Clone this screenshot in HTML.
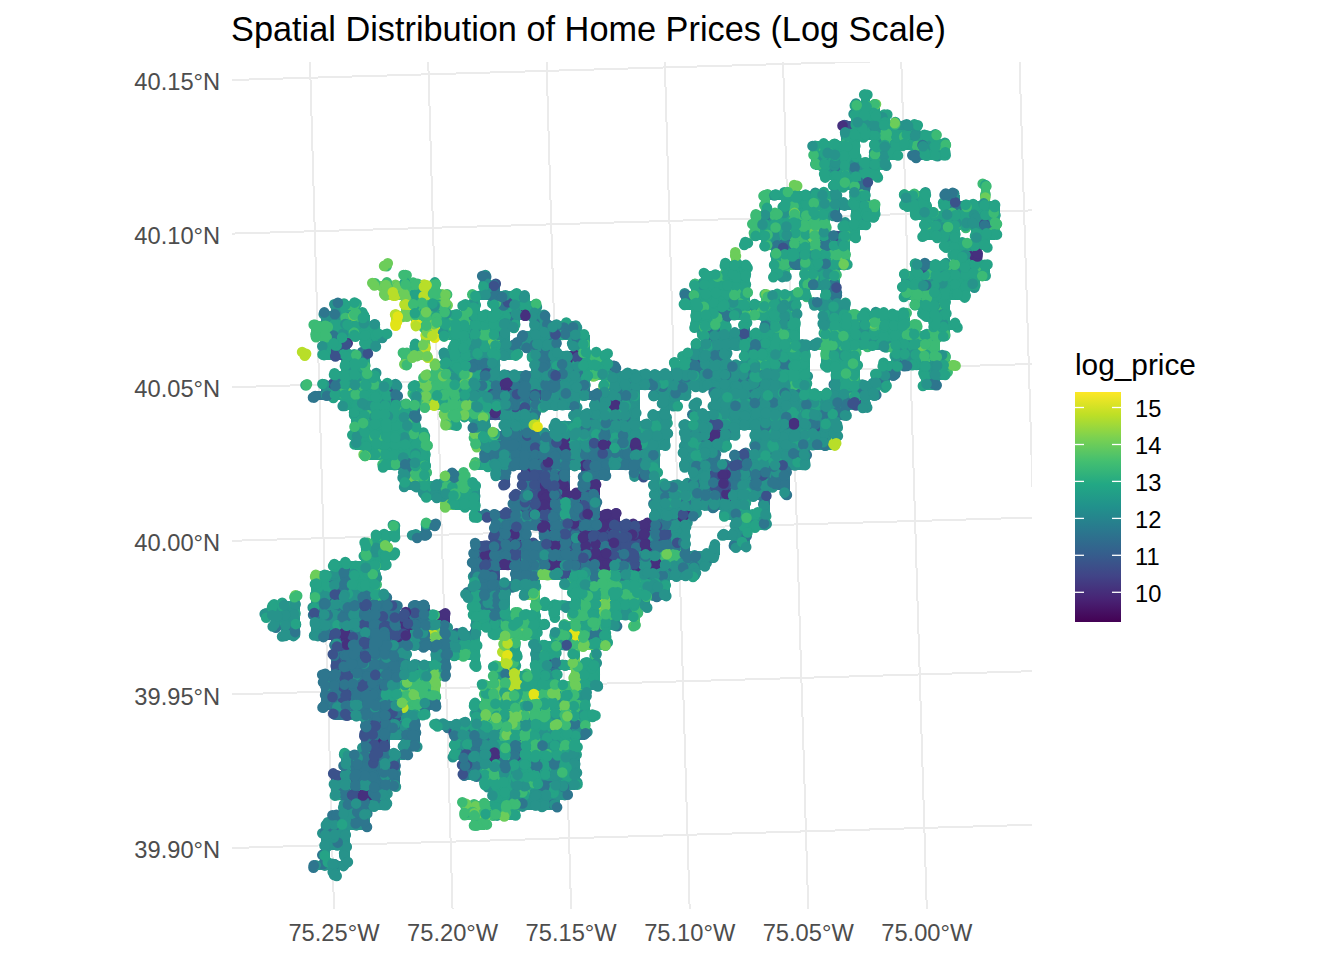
<!DOCTYPE html>
<html><head><meta charset="utf-8"><style>
html,body{margin:0;padding:0;background:#fff;width:1344px;height:960px;overflow:hidden}
svg{display:block;font-family:"Liberation Sans",sans-serif}
</style></head><body>
<svg width="1344" height="960" viewBox="0 0 1344 960">
<defs><clipPath id="pc"><rect x="232" y="62" width="800" height="847"/></clipPath>
<linearGradient id="vg" x1="0" y1="0" x2="0" y2="1"><stop offset="0.0" stop-color="#FDE725"/><stop offset="0.1" stop-color="#BDDF26"/><stop offset="0.2" stop-color="#7AD151"/><stop offset="0.3" stop-color="#44BF70"/><stop offset="0.4" stop-color="#22A884"/><stop offset="0.5" stop-color="#21918C"/><stop offset="0.6" stop-color="#2A788E"/><stop offset="0.7" stop-color="#355F8D"/><stop offset="0.8" stop-color="#414487"/><stop offset="0.9" stop-color="#482475"/><stop offset="1.0" stop-color="#440154"/></linearGradient></defs>
<rect width="1344" height="960" fill="#fff"/>
<g clip-path="url(#pc)" stroke="#ebebeb" stroke-width="2" shape-rendering="crispEdges"><line x1="227" y1="80.14" x2="1037" y2="56.65"/><line x1="227" y1="233.75" x2="1037" y2="210.25"/><line x1="227" y1="387.34" x2="1037" y2="363.86"/><line x1="227" y1="540.94" x2="1037" y2="517.45"/><line x1="227" y1="694.54" x2="1037" y2="671.05"/><line x1="227" y1="848.14" x2="1037" y2="824.65"/><line x1="310.00" y1="62" x2="334.00" y2="909"/><line x1="428.26" y1="62" x2="452.56" y2="909"/><line x1="546.52" y1="62" x2="571.12" y2="909"/><line x1="664.78" y1="62" x2="689.68" y2="909"/><line x1="783.04" y1="62" x2="808.24" y2="909"/><line x1="901.30" y1="62" x2="926.80" y2="909"/><line x1="1019.56" y1="62" x2="1045.36" y2="909"/></g>
<g fill="none" stroke-linecap="butt" shape-rendering="crispEdges"><path stroke="#25a386" stroke-width="10" d="M855 110h10M865 110h10M855 120h10M865 120h10M875 120h10M845 130h10M855 130h10M865 130h10M875 130h10M885 130h10M895 130h10M845 140h10M875 140h10M895 140h10M905 140h10M915 140h10M925 140h10M815 150h10M825 150h10M835 150h10M845 150h10M875 150h10M885 150h10M925 150h10M935 150h10M815 160h10M835 160h10M845 160h10M875 160h10M835 170h10M845 170h10M855 170h10M865 170h10M835 180h10M845 180h10M855 180h10M855 190h10M785 200h10M795 200h10M805 200h10M815 200h10M825 200h10M855 200h10M905 200h10M915 200h10M795 210h10M805 210h10M815 210h10M855 210h10M865 210h10M915 210h10M945 210h10M965 210h10M975 210h10M985 210h10M755 220h10M775 220h10M785 220h10M795 220h10M815 220h10M855 220h10M925 220h10M935 220h10M945 220h10M955 220h10M965 220h10M975 220h10M755 230h10M765 230h10M775 230h10M815 230h10M845 230h10M925 230h10M935 230h10M945 230h10M975 230h10M985 230h10M765 240h10M805 240h10M825 240h10M835 240h10M945 240h10M975 240h10M785 250h10M795 250h10M805 250h10M955 250h10M965 250h10M775 260h10M795 260h10M805 260h10M815 260h10M955 260h10M725 270h10M735 270h10M775 270h10M805 270h10M815 270h10M825 270h10M915 270h10M925 270h10M935 270h10M945 270h10M955 270h10M965 270h10M975 270h10M705 280h10M715 280h10M725 280h10M735 280h10M805 280h10M815 280h10M905 280h10M915 280h10M925 280h10M935 280h10M945 280h10M955 280h10M965 280h10M695 290h10M705 290h10M715 290h10M725 290h10M905 290h10M915 290h10M925 290h10M935 290h10M945 290h10M955 290h10M425 300h10M435 300h10M515 300h10M685 300h10M695 300h10M705 300h10M715 300h10M725 300h10M735 300h10M775 300h10M785 300h10M915 300h10M925 300h10M935 300h10M335 310h10M345 310h10M415 310h10M435 310h10M495 310h10M515 310h10M695 310h10M705 310h10M725 310h10M735 310h10M745 310h10M755 310h10M765 310h10M775 310h10M785 310h10M925 310h10M935 310h10M335 320h10M355 320h10M445 320h10M455 320h10M475 320h10M485 320h10M695 320h10M705 320h10M715 320h10M765 320h10M785 320h10M835 320h10M845 320h10M855 320h10M865 320h10M875 320h10M885 320h10M895 320h10M935 320h10M335 330h10M345 330h10M355 330h10M365 330h10M445 330h10M455 330h10M465 330h10M475 330h10M485 330h10M715 330h10M765 330h10M825 330h10M835 330h10M845 330h10M855 330h10M865 330h10M875 330h10M885 330h10M895 330h10M905 330h10M935 330h10M365 340h10M455 340h10M475 340h10M485 340h10M575 340h10M705 340h10M735 340h10M745 340h10M765 340h10M775 340h10M785 340h10M825 340h10M835 340h10M845 340h10M855 340h10M865 340h10M875 340h10M885 340h10M895 340h10M905 340h10M915 340h10M325 350h10M335 350h10M455 350h10M465 350h10M475 350h10M495 350h10M575 350h10M695 350h10M745 350h10M755 350h10M765 350h10M775 350h10M785 350h10M795 350h10M835 350h10M845 350h10M895 350h10M905 350h10M915 350h10M345 360h10M445 360h10M455 360h10M465 360h10M575 360h10M585 360h10M595 360h10M745 360h10M755 360h10M765 360h10M775 360h10M785 360h10M795 360h10M825 360h10M835 360h10M845 360h10M905 360h10M915 360h10M925 360h10M935 360h10M345 370h10M355 370h10M445 370h10M455 370h10M465 370h10M475 370h10M575 370h10M595 370h10M605 370h10M675 370h10M775 370h10M785 370h10M795 370h10M835 370h10M845 370h10M885 370h10M925 370h10M345 380h10M355 380h10M365 380h10M475 380h10M785 380h10M795 380h10M835 380h10M845 380h10M875 380h10M325 390h10M345 390h10M365 390h10M375 390h10M385 390h10M465 390h10M845 390h10M855 390h10M345 400h10M365 400h10M375 400h10M385 400h10M415 400h10M465 400h10M475 400h10M795 400h10M805 400h10M815 400h10M355 410h10M365 410h10M375 410h10M385 410h10M395 410h10M405 410h10M475 410h10M795 410h10M815 410h10M355 420h10M365 420h10M375 420h10M385 420h10M395 420h10M405 420h10M355 430h10M365 430h10M375 430h10M385 430h10M395 430h10M405 430h10M355 440h10M365 440h10M375 440h10M385 440h10M395 440h10M405 440h10M415 440h10M365 450h10M375 450h10M385 450h10M395 450h10M405 450h10M415 450h10M685 450h10M695 450h10M385 460h10M395 460h10M405 460h10M415 460h10M695 460h10M415 480h10M465 490h10M455 500h10M465 500h10M565 510h10M555 520h10M745 520h10M375 540h10M365 550h10M375 550h10M365 560h10M375 560h10M345 570h10M355 570h10M365 570h10M575 570h10M625 570h10M315 580h10M325 580h10M355 580h10M365 580h10M565 580h10M575 580h10M585 580h10M615 580h10M625 580h10M635 580h10M645 580h10M355 590h10M365 590h10M575 590h10M585 590h10M595 590h10M615 590h10M625 590h10M635 590h10M645 590h10M365 600h10M375 600h10M475 600h10M575 600h10M585 600h10M615 600h10M625 600h10M635 600h10M475 610h10M615 610h10M495 620h10M505 620h10M515 620h10M525 620h10M585 620h10M595 620h10M605 620h10M585 630h10M595 630h10M555 640h10M595 640h10M465 650h10M505 650h10M545 650h10M535 660h10M405 670h10M435 670h10M505 670h10M535 670h10M545 670h10M585 670h10M495 680h10M515 680h10M525 680h10M535 680h10M545 680h10M385 690h10M395 690h10M525 690h10M535 690h10M545 690h10M565 690h10M575 690h10M515 700h10M575 700h10M405 710h10M415 710h10M535 710h10M575 710h10M495 720h10M505 720h10M525 720h10M535 720h10M555 720h10M535 730h10M545 730h10M455 740h10M525 740h10M535 740h10M555 740h10M455 750h10M495 750h10M505 750h10M515 750h10M545 750h10M555 750h10M565 750h10M505 760h10M515 760h10M535 760h10M545 760h10M555 760h10M485 770h10M505 770h10M525 770h10M535 770h10M545 770h10M485 780h10M505 780h10M525 780h10M495 790h10M535 790h10M495 800h10M485 810h10M495 810h10M505 810h10"/><path stroke="#27938b" stroke-width="10" d="M905 130h10M915 150h10M825 160h10M825 170h10M825 210h10M765 220h10M775 250h10M825 260h10M485 290h10M495 300h10M505 300h10M825 300h10M505 310h10M825 310h10M835 310h10M325 320h10M495 320h10M505 320h10M535 320h10M775 320h10M825 320h10M495 330h10M535 330h10M555 330h10M565 330h10M775 330h10M785 330h10M335 340h10M465 340h10M495 340h10M525 340h10M535 340h10M545 340h10M715 340h10M725 340h10M505 350h10M535 350h10M545 350h10M705 350h10M715 350h10M535 360h10M555 360h10M685 360h10M695 360h10M705 360h10M715 360h10M485 370h10M545 370h10M565 370h10M685 370h10M705 370h10M715 370h10M725 370h10M735 370h10M745 370h10M755 370h10M765 370h10M935 370h10M465 380h10M505 380h10M565 380h10M615 380h10M625 380h10M635 380h10M645 380h10M655 380h10M665 380h10M675 380h10M685 380h10M695 380h10M705 380h10M715 380h10M725 380h10M735 380h10M745 380h10M755 380h10M765 380h10M775 380h10M925 380h10M475 390h10M555 390h10M565 390h10M575 390h10M605 390h10M625 390h10M655 390h10M665 390h10M675 390h10M715 390h10M725 390h10M735 390h10M745 390h10M755 390h10M765 390h10M775 390h10M785 390h10M795 390h10M835 390h10M865 390h10M505 400h10M525 400h10M535 400h10M545 400h10M555 400h10M565 400h10M595 400h10M605 400h10M615 400h10M625 400h10M665 400h10M715 400h10M725 400h10M735 400h10M745 400h10M755 400h10M765 400h10M775 400h10M785 400h10M825 400h10M835 400h10M845 400h10M495 410h10M505 410h10M525 410h10M595 410h10M605 410h10M625 410h10M715 410h10M725 410h10M735 410h10M745 410h10M755 410h10M765 410h10M775 410h10M785 410h10M805 410h10M825 410h10M835 410h10M475 420h10M505 420h10M515 420h10M575 420h10M585 420h10M595 420h10M605 420h10M615 420h10M625 420h10M655 420h10M695 420h10M715 420h10M725 420h10M735 420h10M745 420h10M755 420h10M765 420h10M775 420h10M785 420h10M795 420h10M805 420h10M815 420h10M825 420h10M475 430h10M515 430h10M525 430h10M555 430h10M565 430h10M575 430h10M585 430h10M595 430h10M605 430h10M615 430h10M625 430h10M635 430h10M645 430h10M655 430h10M685 430h10M695 430h10M705 430h10M725 430h10M755 430h10M765 430h10M775 430h10M785 430h10M795 430h10M805 430h10M815 430h10M825 430h10M475 440h10M485 440h10M495 440h10M555 440h10M565 440h10M575 440h10M585 440h10M615 440h10M635 440h10M645 440h10M655 440h10M685 440h10M695 440h10M755 440h10M765 440h10M775 440h10M785 440h10M795 440h10M805 440h10M815 440h10M825 440h10M485 450h10M565 450h10M575 450h10M605 450h10M615 450h10M625 450h10M635 450h10M645 450h10M705 450h10M755 450h10M765 450h10M775 450h10M785 450h10M575 460h10M605 460h10M615 460h10M635 460h10M645 460h10M685 460h10M705 460h10M755 460h10M765 460h10M775 460h10M785 460h10M795 460h10M495 470h10M645 470h10M695 470h10M705 470h10M735 470h10M755 470h10M765 470h10M775 470h10M405 480h10M695 480h10M705 480h10M765 480h10M425 490h10M435 490h10M655 490h10M665 490h10M675 490h10M685 490h10M705 490h10M745 490h10M755 490h10M655 500h10M665 500h10M675 500h10M685 500h10M705 500h10M735 500h10M655 510h10M665 510h10M675 510h10M685 510h10M725 510h10M735 510h10M515 520h10M655 520h10M665 520h10M675 520h10M735 520h10M755 520h10M675 530h10M735 530h10M735 540h10M645 550h10M655 550h10M605 560h10M635 560h10M645 560h10M655 560h10M665 560h10M685 560h10M695 560h10M335 570h10M615 570h10M645 570h10M665 570h10M675 570h10M685 570h10M475 580h10M655 580h10M315 590h10M325 590h10M345 590h10M475 590h10M495 590h10M525 590h10M655 590h10M315 600h10M335 600h10M345 600h10M485 600h10M495 600h10M275 610h10M285 610h10M315 610h10M335 610h10M345 610h10M625 610h10M275 620h10M285 620h10M325 620h10M335 620h10M345 620h10M355 620h10M435 620h10M475 620h10M285 630h10M315 630h10M345 630h10M405 630h10M455 640h10M465 640h10M445 650h10M535 650h10M415 670h10M425 670h10M395 680h10M585 680h10M385 700h10M395 710h10M395 720h10M395 730h10M405 730h10M455 730h10M465 730h10M475 730h10M485 730h10M515 730h10M565 730h10M405 740h10M465 740h10M485 740h10M545 740h10M465 750h10M485 750h10M345 760h10M475 760h10M485 760h10M565 760h10M375 770h10M475 770h10M515 770h10M555 770h10M565 770h10M335 780h10M345 780h10M385 780h10M515 780h10M535 780h10M545 780h10M555 780h10M565 780h10M335 790h10M365 790h10M505 790h10M515 790h10M525 790h10M545 790h10M555 790h10M345 800h10M505 800h10M515 800h10M525 800h10M535 800h10M545 800h10M345 810h10M355 810h10M345 820h10M355 820h10M325 830h10M335 830h10M325 840h10M335 840h10"/><path stroke="#3cbb75" stroke-width="10" d="M885 140h10M785 210h10M805 220h10M785 230h10M795 230h10M805 230h10M795 240h10M815 250h10M835 250h10M785 260h10M835 260h10M405 290h10M425 290h10M735 290h10M765 300h10M405 310h10M425 310h10M465 310h10M345 320h10M425 320h10M465 320h10M315 330h10M325 330h10M325 340h10M925 340h10M485 350h10M825 350h10M925 350h10M585 370h10M435 380h10M445 380h10M455 380h10M605 380h10M355 390h10M425 390h10M435 390h10M445 390h10M455 390h10M355 400h10M445 400h10M455 400h10M445 410h10M455 410h10M465 410h10M485 410h10M445 420h10M415 470h10M455 480h10M445 490h10M455 490h10M445 500h10M665 550h10M675 550h10M675 560h10M595 570h10M605 570h10M595 580h10M605 580h10M605 590h10M575 610h10M585 610h10M605 610h10M575 620h10M515 630h10M525 630h10M565 630h10M575 630h10M455 650h10M495 670h10M405 680h10M415 680h10M425 680h10M405 690h10M415 690h10M425 690h10M495 690h10M515 690h10M495 700h10M505 700h10M525 700h10M545 700h10M565 700h10M475 710h10M485 710h10M495 710h10M505 710h10M515 710h10M525 710h10M545 710h10M515 720h10M545 720h10M575 720h10M495 730h10M505 730h10M525 730h10M555 730h10M495 740h10M505 740h10M565 740h10M525 750h10M535 750h10M495 770h10M495 780h10M465 810h10M475 810h10M475 820h10"/><path stroke="#2e768e" stroke-width="10" d="M945 200h10M955 210h10M985 220h10M775 240h10M785 240h10M815 240h10M825 250h10M825 280h10M825 290h10M715 310h10M545 330h10M705 330h10M755 340h10M355 360h10M475 360h10M485 360h10M545 360h10M895 360h10M535 370h10M555 370h10M695 370h10M335 380h10M485 380h10M515 380h10M525 380h10M535 380h10M545 380h10M555 380h10M575 380h10M335 390h10M485 390h10M495 390h10M505 390h10M515 390h10M525 390h10M545 390h10M615 390h10M485 400h10M495 400h10M515 400h10M515 410h10M505 430h10M505 440h10M515 440h10M525 440h10M535 440h10M545 440h10M495 450h10M505 450h10M515 450h10M525 450h10M535 450h10M545 450h10M555 450h10M585 450h10M595 450h10M795 450h10M485 460h10M495 460h10M505 460h10M515 460h10M525 460h10M535 460h10M545 460h10M555 460h10M565 460h10M595 460h10M625 460h10M735 460h10M745 460h10M405 470h10M525 470h10M545 470h10M555 470h10M585 470h10M595 470h10M635 470h10M725 470h10M745 470h10M445 480h10M585 480h10M735 480h10M745 480h10M755 480h10M775 480h10M525 490h10M585 490h10M695 490h10M715 490h10M725 490h10M735 490h10M515 500h10M545 500h10M555 500h10M585 500h10M695 500h10M715 500h10M515 510h10M535 510h10M555 510h10M585 510h10M505 520h10M525 520h10M575 520h10M585 520h10M495 530h10M505 530h10M515 530h10M555 530h10M585 530h10M495 540h10M505 540h10M555 540h10M565 540h10M645 540h10M655 540h10M665 540h10M675 540h10M485 550h10M525 550h10M535 550h10M575 550h10M595 550h10M615 550h10M625 550h10M485 560h10M505 560h10M525 560h10M535 560h10M545 560h10M555 560h10M565 560h10M575 560h10M585 560h10M615 560h10M475 570h10M485 570h10M515 570h10M525 570h10M545 570h10M555 570h10M565 570h10M585 570h10M335 580h10M345 580h10M485 580h10M515 580h10M525 580h10M335 590h10M485 590h10M325 600h10M325 610h10M365 610h10M375 610h10M385 610h10M415 610h10M485 610h10M495 610h10M315 620h10M365 620h10M375 620h10M385 620h10M395 620h10M415 620h10M425 620h10M485 620h10M325 630h10M355 630h10M365 630h10M375 630h10M385 630h10M415 630h10M435 630h10M345 640h10M375 640h10M385 640h10M395 640h10M405 640h10M415 640h10M435 640h10M445 640h10M565 640h10M585 640h10M335 650h10M345 650h10M365 650h10M375 650h10M385 650h10M395 650h10M435 650h10M345 660h10M355 660h10M375 660h10M385 660h10M395 660h10M435 660h10M545 660h10M335 670h10M355 670h10M365 670h10M375 670h10M385 670h10M395 670h10M325 680h10M355 680h10M365 680h10M375 680h10M385 680h10M325 690h10M335 690h10M345 690h10M355 690h10M375 690h10M325 700h10M335 700h10M345 700h10M355 700h10M365 700h10M375 700h10M415 700h10M425 700h10M335 710h10M345 710h10M355 710h10M365 710h10M375 710h10M385 710h10M365 720h10M375 720h10M385 720h10M405 720h10M565 720h10M365 730h10M375 730h10M385 730h10M575 730h10M365 740h10M475 740h10M515 740h10M365 750h10M375 750h10M475 750h10M355 760h10M365 760h10M375 760h10M385 760h10M465 760h10M525 760h10M345 770h10M355 770h10M365 770h10M385 770h10M465 770h10M355 780h10M365 780h10M375 780h10M345 790h10M375 790h10M365 800h10M375 800h10M335 820h10"/><path stroke="#46307e" stroke-width="10" d="M965 260h10M525 310h10M565 360h10M495 380h10M615 410h10M715 430h10M595 440h10M605 440h10M625 440h10M705 440h10M715 440h10M585 460h10M555 480h10M545 490h10M565 500h10M575 500h10M545 510h10M535 520h10M545 520h10M595 520h10M605 520h10M545 530h10M625 530h10M635 530h10M645 530h10M515 540h10M545 540h10M575 540h10M635 540h10M475 550h10M545 550h10M555 550h10M605 550h10M495 560h10M595 560h10M655 570h10M335 640h10M495 760h10M355 790h10M355 800h10"/><path stroke="#b8de29" stroke-width="10" d="M385 290h10M415 290h10M405 300h10M415 300h10M415 320h10M425 330h10M425 400h10M435 400h10M525 420h10M505 660h10M505 680h10M505 690h10"/><path stroke="#6ccd5a" stroke-width="10" d="M395 290h10M435 320h10M435 330h10M415 350h10M435 370h10M425 380h10M415 390h10M535 570h10M595 600h10M605 600h10M595 610h10M425 630h10M495 630h10M505 630h10M425 640h10M505 640h10M575 640h10M575 670h10M575 680h10M485 690h10M555 690h10M395 700h10M405 700h10M485 700h10M555 700h10M555 710h10M565 710h10M475 720h10M485 720h10"/><path stroke="#3b528b" stroke-width="10" d="M535 390h10M855 400h10M705 420h10M535 470h10M715 470h10M525 480h10M535 480h10M545 480h10M715 480h10M725 480h10M535 490h10M555 490h10M525 500h10M535 500h10M725 500h10M525 510h10M575 510h10M495 520h10M565 520h10M565 530h10M575 530h10M595 530h10M605 530h10M615 530h10M655 530h10M665 530h10M585 540h10M595 540h10M605 540h10M615 540h10M625 540h10M495 550h10M505 550h10M515 550h10M565 550h10M585 550h10M635 550h10M475 560h10M515 560h10M625 560h10M635 570h10M355 600h10M355 610h10M405 620h10M335 630h10M395 630h10M355 640h10M365 640h10M355 650h10M335 660h10M365 660h10M345 670h10M335 680h10M345 680h10M365 690h10M375 740h10"/><path stroke="#e2e418" stroke-width="10" d="M535 700h10"/><path stroke="#25a386" stroke-width="9" d="M855 105h10M855 115h10M865 115h10M875 115h10M855 125h10M885 125h10M845 135h10M855 135h10M865 135h10M875 135h10M895 135h10M915 135h10M925 135h10M815 145h10M825 145h10M835 145h10M845 145h10M875 145h10M885 145h10M895 145h10M905 145h10M815 155h10M825 155h10M835 155h10M845 155h10M875 155h10M885 155h10M925 155h10M935 155h10M815 165h10M825 165h10M845 165h10M865 165h10M875 165h10M825 175h10M835 175h10M845 175h10M855 175h10M865 175h10M835 185h10M845 185h10M765 195h10M775 195h10M785 195h10M795 195h10M805 195h10M815 195h10M825 195h10M855 195h10M905 195h10M915 195h10M785 205h10M795 205h10M805 205h10M815 205h10M855 205h10M905 205h10M915 205h10M945 205h10M965 205h10M975 205h10M985 205h10M775 215h10M805 215h10M815 215h10M855 215h10M865 215h10M915 215h10M925 215h10M935 215h10M945 215h10M955 215h10M985 215h10M755 225h10M765 225h10M775 225h10M785 225h10M845 225h10M855 225h10M925 225h10M935 225h10M945 225h10M955 225h10M965 225h10M975 225h10M755 235h10M765 235h10M775 235h10M795 235h10M815 235h10M825 235h10M845 235h10M925 235h10M935 235h10M945 235h10M975 235h10M985 235h10M765 245h10M795 245h10M805 245h10M835 245h10M945 245h10M955 245h10M965 245h10M975 245h10M775 255h10M785 255h10M795 255h10M805 255h10M815 255h10M825 255h10M955 255h10M725 265h10M735 265h10M805 265h10M825 265h10M835 265h10M935 265h10M955 265h10M965 265h10M975 265h10M705 275h10M715 275h10M725 275h10M735 275h10M775 275h10M805 275h10M815 275h10M825 275h10M905 275h10M915 275h10M925 275h10M935 275h10M945 275h10M955 275h10M965 275h10M975 275h10M695 285h10M705 285h10M715 285h10M725 285h10M735 285h10M905 285h10M915 285h10M935 285h10M945 285h10M955 285h10M965 285h10M405 295h10M415 295h10M505 295h10M685 295h10M695 295h10M705 295h10M715 295h10M725 295h10M775 295h10M785 295h10M795 295h10M905 295h10M925 295h10M935 295h10M945 295h10M955 295h10M335 305h10M415 305h10M465 305h10M515 305h10M525 305h10M685 305h10M695 305h10M705 305h10M715 305h10M725 305h10M735 305h10M745 305h10M755 305h10M785 305h10M915 305h10M925 305h10M935 305h10M345 315h10M445 315h10M455 315h10M475 315h10M485 315h10M495 315h10M505 315h10M695 315h10M705 315h10M735 315h10M755 315h10M765 315h10M775 315h10M785 315h10M835 315h10M855 315h10M865 315h10M875 315h10M885 315h10M895 315h10M925 315h10M935 315h10M335 325h10M345 325h10M355 325h10M365 325h10M435 325h10M445 325h10M455 325h10M465 325h10M475 325h10M485 325h10M495 325h10M695 325h10M705 325h10M715 325h10M775 325h10M835 325h10M845 325h10M855 325h10M865 325h10M885 325h10M895 325h10M935 325h10M945 325h10M335 335h10M345 335h10M355 335h10M365 335h10M375 335h10M445 335h10M455 335h10M465 335h10M485 335h10M575 335h10M745 335h10M755 335h10M765 335h10M775 335h10M785 335h10M825 335h10M835 335h10M845 335h10M875 335h10M885 335h10M895 335h10M935 335h10M325 345h10M455 345h10M575 345h10M695 345h10M735 345h10M755 345h10M765 345h10M775 345h10M785 345h10M835 345h10M845 345h10M855 345h10M865 345h10M895 345h10M905 345h10M915 345h10M325 355h10M345 355h10M355 355h10M445 355h10M455 355h10M465 355h10M475 355h10M505 355h10M755 355h10M765 355h10M775 355h10M785 355h10M795 355h10M835 355h10M845 355h10M895 355h10M905 355h10M915 355h10M935 355h10M345 365h10M355 365h10M445 365h10M455 365h10M585 365h10M595 365h10M675 365h10M765 365h10M775 365h10M795 365h10M825 365h10M835 365h10M845 365h10M885 365h10M905 365h10M915 365h10M925 365h10M935 365h10M945 365h10M335 375h10M345 375h10M355 375h10M365 375h10M445 375h10M465 375h10M575 375h10M775 375h10M785 375h10M795 375h10M835 375h10M845 375h10M875 375h10M925 375h10M935 375h10M345 385h10M355 385h10M365 385h10M375 385h10M445 385h10M455 385h10M785 385h10M795 385h10M835 385h10M845 385h10M865 385h10M875 385h10M925 385h10M335 395h10M365 395h10M375 395h10M385 395h10M455 395h10M805 395h10M815 395h10M855 395h10M345 405h10M355 405h10M375 405h10M385 405h10M395 405h10M405 405h10M415 405h10M475 405h10M805 405h10M355 415h10M365 415h10M375 415h10M385 415h10M395 415h10M785 415h10M795 415h10M355 425h10M365 425h10M375 425h10M385 425h10M395 425h10M405 425h10M355 435h10M365 435h10M375 435h10M385 435h10M395 435h10M405 435h10M415 435h10M485 435h10M355 445h10M365 445h10M375 445h10M385 445h10M395 445h10M405 445h10M415 445h10M365 455h10M375 455h10M385 455h10M395 455h10M405 455h10M415 455h10M695 455h10M385 465h10M405 465h10M415 465h10M475 465h10M415 485h10M425 485h10M455 495h10M455 505h10M465 505h10M555 505h10M745 515h10M755 515h10M425 525h10M735 525h10M745 525h10M755 525h10M375 535h10M385 535h10M365 545h10M375 545h10M375 555h10M385 555h10M335 565h10M345 565h10M355 565h10M365 565h10M375 565h10M315 575h10M355 575h10M365 575h10M565 575h10M575 575h10M585 575h10M615 575h10M635 575h10M315 585h10M345 585h10M355 585h10M365 585h10M565 585h10M575 585h10M595 585h10M625 585h10M635 585h10M365 595h10M465 595h10M475 595h10M575 595h10M585 595h10M595 595h10M605 595h10M615 595h10M625 595h10M635 595h10M645 595h10M475 605h10M545 605h10M555 605h10M575 605h10M585 605h10M605 605h10M615 605h10M625 605h10M635 605h10M475 615h10M485 615h10M495 615h10M525 615h10M585 615h10M615 615h10M475 625h10M485 625h10M495 625h10M505 625h10M525 625h10M535 625h10M605 625h10M555 635h10M455 645h10M465 645h10M505 645h10M535 645h10M545 645h10M445 655h10M465 655h10M505 655h10M535 655h10M545 655h10M425 665h10M535 665h10M565 665h10M585 665h10M415 675h10M425 675h10M495 675h10M515 675h10M525 675h10M535 675h10M545 675h10M575 675h10M585 675h10M515 685h10M525 685h10M535 685h10M545 685h10M555 685h10M385 695h10M555 695h10M475 705h10M535 705h10M545 705h10M405 715h10M415 715h10M545 715h10M555 715h10M585 715h10M455 725h10M465 725h10M475 725h10M495 725h10M505 725h10M525 725h10M535 725h10M545 725h10M535 735h10M545 735h10M555 735h10M565 735h10M505 745h10M525 745h10M555 745h10M455 755h10M495 755h10M505 755h10M515 755h10M525 755h10M535 755h10M545 755h10M555 755h10M565 755h10M485 765h10M505 765h10M515 765h10M545 765h10M555 765h10M565 765h10M495 775h10M505 775h10M515 775h10M525 775h10M535 775h10M485 785h10M495 785h10M505 785h10M525 785h10M535 785h10M495 795h10M515 795h10M525 795h10M495 805h10M505 805h10M505 815h10M865 95v10M855 105v10M865 105v10M875 105v10M855 115v10M865 115v10M885 115v10M855 125v10M865 125v10M895 125v10M905 125v10M915 125v10M855 135v10M875 135v10M895 135v10M905 135v10M915 135v10M935 135v10M815 145v10M825 145v10M835 145v10M845 145v10M855 145v10M875 145v10M885 145v10M895 145v10M935 145v10M815 155v10M825 155v10M845 155v10M855 155v10M875 155v10M885 155v10M825 165v10M845 165v10M855 165v10M865 165v10M875 165v10M835 175v10M845 175v10M855 175v10M795 185v10M855 185v10M785 195v10M795 195v10M805 195v10M815 195v10M825 195v10M855 195v10M865 195v10M905 195v10M915 195v10M925 195v10M945 195v10M985 195v10M785 205v10M795 205v10M805 205v10M815 205v10M825 205v10M855 205v10M865 205v10M875 205v10M915 205v10M925 205v10M945 205v10M955 205v10M965 205v10M985 205v10M995 205v10M775 215v10M785 215v10M805 215v10M815 215v10M855 215v10M865 215v10M925 215v10M935 215v10M945 215v10M955 215v10M965 215v10M975 215v10M765 225v10M775 225v10M785 225v10M795 225v10M845 225v10M855 225v10M925 225v10M935 225v10M945 225v10M955 225v10M975 225v10M985 225v10M765 235v10M795 235v10M805 235v10M845 235v10M945 235v10M955 235v10M975 235v10M985 235v10M785 245v10M795 245v10M805 245v10M825 245v10M845 245v10M955 245v10M965 245v10M975 245v10M775 255v10M795 255v10M805 255v10M815 255v10M825 255v10M955 255v10M965 255v10M975 255v10M725 265v10M735 265v10M745 265v10M775 265v10M805 265v10M815 265v10M825 265v10M835 265v10M915 265v10M925 265v10M935 265v10M945 265v10M955 265v10M965 265v10M975 265v10M985 265v10M705 275v10M715 275v10M725 275v10M735 275v10M745 275v10M805 275v10M825 275v10M835 275v10M905 275v10M915 275v10M935 275v10M945 275v10M955 275v10M965 275v10M975 275v10M415 285v10M695 285v10M705 285v10M715 285v10M725 285v10M745 285v10M805 285v10M825 285v10M905 285v10M915 285v10M935 285v10M945 285v10M955 285v10M965 285v10M415 295v10M435 295v10M475 295v10M495 295v10M525 295v10M685 295v10M695 295v10M705 295v10M715 295v10M725 295v10M735 295v10M745 295v10M775 295v10M795 295v10M925 295v10M935 295v10M945 295v10M345 305v10M435 305v10M465 305v10M475 305v10M495 305v10M505 305v10M695 305v10M705 305v10M715 305v10M725 305v10M735 305v10M745 305v10M775 305v10M785 305v10M795 305v10M845 305v10M925 305v10M935 305v10M945 305v10M335 315v10M345 315v10M365 315v10M445 315v10M455 315v10M475 315v10M485 315v10M495 315v10M505 315v10M695 315v10M705 315v10M715 315v10M745 315v10M765 315v10M775 315v10M795 315v10M835 315v10M845 315v10M865 315v10M885 315v10M895 315v10M905 315v10M935 315v10M945 315v10M335 325v10M345 325v10M355 325v10M365 325v10M375 325v10M445 325v10M455 325v10M465 325v10M475 325v10M495 325v10M705 325v10M725 325v10M765 325v10M775 325v10M785 325v10M795 325v10M835 325v10M845 325v10M855 325v10M885 325v10M895 325v10M905 325v10M935 325v10M945 325v10M335 335v10M345 335v10M365 335v10M455 335v10M465 335v10M475 335v10M485 335v10M585 335v10M765 335v10M775 335v10M785 335v10M795 335v10M835 335v10M845 335v10M855 335v10M875 335v10M885 335v10M895 335v10M905 335v10M925 335v10M325 345v10M345 345v10M365 345v10M455 345v10M465 345v10M515 345v10M585 345v10M755 345v10M765 345v10M775 345v10M785 345v10M795 345v10M805 345v10M835 345v10M845 345v10M855 345v10M895 345v10M905 345v10M915 345v10M345 355v10M355 355v10M365 355v10M455 355v10M465 355v10M475 355v10M585 355v10M605 355v10M685 355v10M755 355v10M765 355v10M775 355v10M785 355v10M795 355v10M805 355v10M825 355v10M835 355v10M845 355v10M855 355v10M895 355v10M905 355v10M915 355v10M945 355v10M345 365v10M355 365v10M365 365v10M445 365v10M455 365v10M465 365v10M585 365v10M595 365v10M775 365v10M785 365v10M795 365v10M805 365v10M835 365v10M845 365v10M855 365v10M885 365v10M895 365v10M925 365v10M945 365v10M335 375v10M345 375v10M355 375v10M365 375v10M375 375v10M455 375v10M585 375v10M785 375v10M795 375v10M845 375v10M855 375v10M875 375v10M925 375v10M335 385v10M345 385v10M355 385v10M365 385v10M375 385v10M385 385v10M415 385v10M455 385v10M465 385v10M795 385v10M845 385v10M855 385v10M875 385v10M345 395v10M355 395v10M365 395v10M375 395v10M385 395v10M415 395v10M465 395v10M475 395v10M815 395v10M855 395v10M355 405v10M365 405v10M375 405v10M385 405v10M395 405v10M405 405v10M475 405v10M355 415v10M365 415v10M375 415v10M385 415v10M395 415v10M405 415v10M415 415v10M455 415v10M795 415v10M355 425v10M365 425v10M375 425v10M385 425v10M395 425v10M405 425v10M415 425v10M355 435v10M365 435v10M375 435v10M385 435v10M395 435v10M405 435v10M415 435v10M485 435v10M695 435v10M365 445v10M375 445v10M385 445v10M395 445v10M405 445v10M415 445v10M695 445v10M385 455v10M395 455v10M415 455v10M425 455v10M485 455v10M425 465v10M425 475v10M425 485v10M455 495v10M465 495v10M565 495v10M475 505v10M565 505v10M565 515v10M745 515v10M755 515v10M395 525v10M375 535v10M385 535v10M365 545v10M375 545v10M385 545v10M365 555v10M375 555v10M385 555v10M355 565v10M365 565v10M375 565v10M575 565v10M615 565v10M635 565v10M315 575v10M325 575v10M355 575v10M365 575v10M375 575v10M565 575v10M575 575v10M585 575v10M595 575v10M635 575v10M645 575v10M315 585v10M365 585v10M375 585v10M475 585v10M575 585v10M595 585v10M615 585v10M625 585v10M635 585v10M645 585v10M315 595v10M475 595v10M575 595v10M595 595v10M615 595v10M625 595v10M635 595v10M475 605v10M485 605v10M505 605v10M535 605v10M555 605v10M595 605v10M615 605v10M625 605v10M475 615v10M485 615v10M495 615v10M515 615v10M535 615v10M585 615v10M615 615v10M495 625v10M515 625v10M535 625v10M585 625v10M605 625v10M465 635v10M475 635v10M515 635v10M535 635v10M555 635v10M595 635v10M475 645v10M515 645v10M545 645v10M555 645v10M595 645v10M475 655v10M515 655v10M545 655v10M595 655v10M415 665v10M435 665v10M495 665v10M535 665v10M545 665v10M585 665v10M595 665v10M425 675v10M495 675v10M525 675v10M535 675v10M545 675v10M555 675v10M585 675v10M595 675v10M395 685v10M525 685v10M535 685v10M545 685v10M585 685v10M505 695v10M525 695v10M545 695v10M565 695v10M585 695v10M475 705v10M505 705v10M525 705v10M555 705v10M585 705v10M475 715v10M485 715v10M505 715v10M535 715v10M545 715v10M555 715v10M475 725v10M485 725v10M515 725v10M535 725v10M545 725v10M565 725v10M455 735v10M515 735v10M555 735v10M565 735v10M575 735v10M455 745v10M505 745v10M525 745v10M545 745v10M555 745v10M525 755v10M545 755v10M555 755v10M565 755v10M525 765v10M565 765v10M485 775v10M505 775v10M525 775v10M535 775v10M565 775v10M495 785v10M505 785v10M525 785v10M495 795v10M505 795v10"/><path stroke="#3cbb75" stroke-width="9" d="M865 105h10M885 135h10M935 145h10M865 205h10M755 215h10M785 215h10M795 215h10M795 225h10M805 225h10M815 225h10M985 225h10M785 235h10M805 235h10M815 245h10M835 255h10M775 265h10M785 265h10M945 265h10M395 285h10M405 285h10M415 285h10M425 285h10M435 295h10M735 295h10M765 295h10M915 295h10M345 305h10M425 305h10M435 305h10M765 305h10M355 315h10M415 315h10M425 315h10M435 315h10M465 315h10M745 315h10M845 315h10M315 325h10M325 325h10M425 325h10M875 325h10M905 325h10M315 335h10M475 335h10M905 335h10M915 335h10M925 335h10M485 345h10M815 345h10M825 345h10M925 345h10M405 355h10M585 355h10M595 355h10M825 355h10M925 355h10M425 375h10M435 375h10M455 375h10M585 375h10M595 375h10M435 385h10M465 385h10M345 395h10M355 395h10M415 395h10M425 395h10M435 395h10M445 395h10M435 405h10M445 405h10M455 405h10M465 405h10M455 415h10M465 415h10M475 415h10M475 435h10M405 475h10M415 475h10M455 475h10M445 485h10M455 485h10M465 485h10M445 495h10M365 555h10M655 555h10M665 555h10M605 575h10M605 585h10M615 585h10M535 605h10M505 615h10M515 615h10M575 615h10M595 615h10M605 615h10M625 615h10M515 625h10M565 625h10M575 625h10M585 625h10M595 625h10M515 635h10M525 635h10M565 635h10M565 645h10M575 645h10M595 645h10M455 655h10M395 685h10M405 685h10M415 685h10M425 685h10M485 685h10M495 685h10M565 685h10M415 695h10M425 695h10M485 695h10M505 695h10M515 695h10M525 695h10M545 695h10M565 695h10M415 705h10M485 705h10M495 705h10M505 705h10M515 705h10M525 705h10M565 705h10M575 705h10M485 715h10M495 715h10M515 715h10M525 715h10M535 715h10M565 715h10M575 715h10M485 725h10M555 725h10M495 735h10M505 735h10M515 735h10M525 735h10M535 745h10M565 745h10M485 775h10M465 805h10M475 805h10M485 805h10M465 815h10M475 815h10M485 815h10M495 815h10M475 825h10M885 125v10M885 135v10M945 145v10M985 185v10M765 195v10M765 205v10M755 215v10M795 215v10M825 215v10M995 215v10M755 225v10M805 225v10M815 225v10M825 225v10M995 225v10M815 235v10M815 245v10M835 245v10M785 255v10M835 255v10M845 255v10M785 265v10M405 275v10M405 285v10M435 285v10M735 285v10M445 295v10M765 295v10M915 295v10M355 305v10M415 305v10M425 305v10M445 305v10M755 305v10M765 305v10M355 315v10M415 315v10M425 315v10M435 315v10M465 315v10M855 315v10M875 315v10M315 325v10M325 325v10M485 325v10M875 325v10M915 325v10M325 335v10M495 335v10M825 335v10M915 335v10M935 335v10M415 345v10M495 345v10M825 345v10M925 345v10M935 345v10M405 355v10M595 355v10M925 355v10M935 355v10M435 365v10M435 375v10M445 375v10M465 375v10M435 385v10M445 385v10M605 385v10M425 395v10M445 395v10M455 395v10M455 405v10M465 405v10M485 405v10M475 415v10M425 435v10M475 435v10M425 445v10M415 465v10M415 475v10M445 475v10M455 475v10M465 475v10M445 485v10M455 485v10M465 485v10M665 545v10M665 555v10M605 565v10M605 575v10M615 575v10M605 585v10M535 595v10M585 595v10M575 605v10M585 605v10M605 605v10M635 605v10M505 615v10M525 615v10M575 615v10M595 615v10M605 615v10M635 615v10M505 625v10M525 625v10M565 625v10M575 635v10M585 635v10M605 635v10M465 645v10M575 645v10M405 675v10M415 675v10M505 675v10M425 685v10M485 685v10M505 685v10M565 685v10M575 685v10M425 695v10M485 695v10M495 695v10M515 695v10M535 695v10M575 695v10M415 705v10M485 705v10M495 705v10M515 705v10M535 705v10M545 705v10M565 705v10M575 705v10M495 715v10M565 715v10M575 715v10M585 715v10M505 725v10M525 725v10M505 735v10M525 735v10M535 735v10M535 745v10M565 745v10M495 765v10M495 775v10M465 805v10M475 805v10M485 805v10M495 805v10M505 805v10M515 805v10M475 815v10M485 815v10"/><path stroke="#3b528b" stroke-width="9" d="M845 125h10M335 345h10M335 355h10M535 395h10M855 405h10M485 415h10M495 415h10M735 455h10M745 455h10M525 475h10M535 475h10M545 475h10M705 475h10M715 475h10M535 485h10M545 485h10M555 485h10M715 485h10M725 485h10M535 495h10M575 495h10M715 495h10M725 495h10M575 505h10M495 515h10M545 515h10M585 515h10M565 525h10M615 525h10M625 525h10M635 525h10M565 535h10M595 535h10M605 535h10M615 535h10M625 535h10M655 535h10M665 535h10M475 545h10M485 545h10M595 545h10M615 545h10M625 545h10M515 555h10M585 555h10M635 565h10M325 595h10M335 595h10M365 605h10M375 625h10M325 635h10M335 635h10M385 635h10M395 635h10M355 655h10M365 655h10M335 665h10M345 675h10M355 685h10M335 695h10M345 695h10M395 715h10M365 725h10M375 725h10M375 745h10M365 755h10M375 755h10M335 775h10M345 795h10M335 345v10M535 385v10M525 465v10M535 465v10M545 465v10M735 465v10M505 475v10M525 475v10M535 475v10M715 475v10M725 475v10M535 485v10M585 485v10M725 485v10M535 495v10M585 495v10M535 505v10M585 505v10M545 515v10M575 515v10M495 525v10M575 525v10M595 525v10M615 525v10M625 525v10M665 525v10M495 535v10M595 535v10M615 535v10M625 535v10M485 545v10M495 545v10M575 545v10M585 545v10M595 545v10M625 545v10M635 545v10M635 555v10M485 565v10M335 585v10M335 595v10M335 625v10M395 625v10M335 635v10M395 635v10M365 645v10M345 665v10M365 675v10M345 685v10M365 685v10M345 695v10M395 715v10M375 725v10M375 735v10M375 745v10M375 755v10M335 775v10"/><path stroke="#27938b" stroke-width="9" d="M865 125h10M875 125h10M895 125h10M905 125h10M905 135h10M915 145h10M925 145h10M835 165h10M855 165h10M945 195h10M825 205h10M835 205h10M845 205h10M765 215h10M965 215h10M975 215h10M775 245h10M815 265h10M485 285h10M805 285h10M815 285h10M925 285h10M475 295h10M495 295h10M515 295h10M505 305h10M775 305h10M815 305h10M825 305h10M835 305h10M325 315h10M335 315h10M515 315h10M525 315h10M535 315h10M825 315h10M505 325h10M535 325h10M545 325h10M555 325h10M565 325h10M765 325h10M785 325h10M825 325h10M325 335h10M495 335h10M525 335h10M535 335h10M555 335h10M565 335h10M715 335h10M725 335h10M735 335h10M855 335h10M865 335h10M365 345h10M465 345h10M475 345h10M495 345h10M505 345h10M525 345h10M535 345h10M545 345h10M705 345h10M715 345h10M725 345h10M795 345h10M805 345h10M875 345h10M885 345h10M485 355h10M495 355h10M545 355h10M555 355h10M685 355h10M695 355h10M705 355h10M745 355h10M535 365h10M545 365h10M555 365h10M565 365h10M575 365h10M705 365h10M715 365h10M725 365h10M735 365h10M745 365h10M755 365h10M485 375h10M495 375h10M505 375h10M515 375h10M525 375h10M535 375h10M555 375h10M565 375h10M605 375h10M615 375h10M625 375h10M635 375h10M645 375h10M655 375h10M665 375h10M675 375h10M685 375h10M695 375h10M705 375h10M715 375h10M725 375h10M735 375h10M745 375h10M755 375h10M765 375h10M385 385h10M475 385h10M525 385h10M535 385h10M555 385h10M565 385h10M575 385h10M605 385h10M615 385h10M625 385h10M635 385h10M645 385h10M655 385h10M665 385h10M675 385h10M685 385h10M695 385h10M705 385h10M715 385h10M725 385h10M735 385h10M745 385h10M755 385h10M765 385h10M775 385h10M855 385h10M465 395h10M475 395h10M555 395h10M565 395h10M575 395h10M595 395h10M605 395h10M615 395h10M625 395h10M655 395h10M665 395h10M675 395h10M715 395h10M725 395h10M735 395h10M745 395h10M755 395h10M765 395h10M775 395h10M785 395h10M795 395h10M825 395h10M835 395h10M845 395h10M865 395h10M365 405h10M485 405h10M495 405h10M525 405h10M535 405h10M545 405h10M555 405h10M565 405h10M595 405h10M605 405h10M615 405h10M625 405h10M665 405h10M715 405h10M725 405h10M735 405h10M745 405h10M755 405h10M765 405h10M775 405h10M785 405h10M795 405h10M815 405h10M825 405h10M835 405h10M845 405h10M505 415h10M515 415h10M575 415h10M585 415h10M595 415h10M605 415h10M615 415h10M625 415h10M655 415h10M695 415h10M705 415h10M715 415h10M725 415h10M735 415h10M745 415h10M755 415h10M765 415h10M775 415h10M805 415h10M815 415h10M825 415h10M835 415h10M475 425h10M505 425h10M515 425h10M525 425h10M555 425h10M565 425h10M575 425h10M585 425h10M595 425h10M605 425h10M615 425h10M625 425h10M635 425h10M645 425h10M655 425h10M685 425h10M695 425h10M705 425h10M715 425h10M725 425h10M735 425h10M745 425h10M755 425h10M765 425h10M775 425h10M785 425h10M795 425h10M805 425h10M815 425h10M825 425h10M555 435h10M565 435h10M575 435h10M585 435h10M605 435h10M615 435h10M625 435h10M635 435h10M645 435h10M655 435h10M685 435h10M695 435h10M715 435h10M725 435h10M755 435h10M765 435h10M775 435h10M785 435h10M795 435h10M805 435h10M815 435h10M825 435h10M475 445h10M485 445h10M535 445h10M565 445h10M575 445h10M605 445h10M615 445h10M625 445h10M645 445h10M655 445h10M685 445h10M695 445h10M705 445h10M715 445h10M755 445h10M765 445h10M775 445h10M785 445h10M795 445h10M805 445h10M815 445h10M825 445h10M495 455h10M575 455h10M615 455h10M635 455h10M645 455h10M685 455h10M755 455h10M765 455h10M775 455h10M785 455h10M485 465h10M495 465h10M565 465h10M575 465h10M605 465h10M645 465h10M685 465h10M695 465h10M705 465h10M745 465h10M755 465h10M765 465h10M775 465h10M795 465h10M645 475h10M695 475h10M745 475h10M765 475h10M775 475h10M405 485h10M435 485h10M655 485h10M665 485h10M675 485h10M685 485h10M695 485h10M735 485h10M745 485h10M425 495h10M435 495h10M465 495h10M655 495h10M665 495h10M675 495h10M685 495h10M695 495h10M735 495h10M745 495h10M755 495h10M655 505h10M665 505h10M675 505h10M685 505h10M695 505h10M705 505h10M715 505h10M725 505h10M735 505h10M655 515h10M665 515h10M725 515h10M735 515h10M665 525h10M675 525h10M415 535h10M675 535h10M725 535h10M735 535h10M675 545h10M735 545h10M635 555h10M645 555h10M695 555h10M705 555h10M605 565h10M645 565h10M655 565h10M665 565h10M675 565h10M685 565h10M695 565h10M325 575h10M335 575h10M555 575h10M625 575h10M645 575h10M655 575h10M665 575h10M675 575h10M685 575h10M325 585h10M505 585h10M515 585h10M525 585h10M585 585h10M645 585h10M655 585h10M315 595h10M345 595h10M355 595h10M375 595h10M495 595h10M655 595h10M275 605h10M285 605h10M315 605h10M325 605h10M335 605h10M345 605h10M495 605h10M565 605h10M265 615h10M275 615h10M285 615h10M315 615h10M325 615h10M335 615h10M345 615h10M355 615h10M275 625h10M285 625h10M315 625h10M325 625h10M335 625h10M345 625h10M435 625h10M285 635h10M315 635h10M405 635h10M465 635h10M395 655h10M395 665h10M405 665h10M415 665h10M405 675h10M385 685h10M585 685h10M575 695h10M345 705h10M345 715h10M355 715h10M435 725h10M445 725h10M515 725h10M385 735h10M465 735h10M475 735h10M485 735h10M405 745h10M455 745h10M465 745h10M475 745h10M485 745h10M495 745h10M545 745h10M345 755h10M385 755h10M395 755h10M465 755h10M475 755h10M485 755h10M345 765h10M375 765h10M385 765h10M475 765h10M465 775h10M475 775h10M545 775h10M555 775h10M565 775h10M335 785h10M345 785h10M355 785h10M385 785h10M515 785h10M555 785h10M565 785h10M375 795h10M505 795h10M535 795h10M545 795h10M555 795h10M345 805h10M365 805h10M375 805h10M515 805h10M525 805h10M535 805h10M545 805h10M335 815h10M345 815h10M325 825h10M335 825h10M345 825h10M355 825h10M325 835h10M335 835h10M325 845h10M335 845h10M315 865h10M325 865h10M335 865h10M875 115v10M845 125v10M875 125v10M845 135v10M925 135v10M925 145v10M835 155v10M835 165v10M835 185v10M835 195v10M955 195v10M975 205v10M765 215v10M775 235v10M775 245v10M485 275v10M815 275v10M925 275v10M485 285v10M925 285v10M515 295v10M785 295v10M825 295v10M835 295v10M335 305v10M515 305v10M535 305v10M825 305v10M835 305v10M325 315v10M515 315v10M535 315v10M545 315v10M785 315v10M825 315v10M505 325v10M535 325v10M545 325v10M565 325v10M575 325v10M825 325v10M865 325v10M375 335v10M505 335v10M525 335v10M535 335v10M545 335v10M555 335v10M575 335v10M705 335v10M725 335v10M735 335v10M865 335v10M475 345v10M485 345v10M505 345v10M535 345v10M555 345v10M575 345v10M695 345v10M705 345v10M725 345v10M745 345v10M445 355v10M485 355v10M495 355v10M535 355v10M555 355v10M565 355v10M705 355v10M715 355v10M725 355v10M745 355v10M495 365v10M535 365v10M545 365v10M565 365v10M575 365v10M605 365v10M615 365v10M675 365v10M685 365v10M705 365v10M715 365v10M725 365v10M735 365v10M745 365v10M755 365v10M765 365v10M935 365v10M475 375v10M485 375v10M495 375v10M505 375v10M515 375v10M535 375v10M565 375v10M575 375v10M605 375v10M615 375v10M625 375v10M635 375v10M645 375v10M655 375v10M665 375v10M675 375v10M685 375v10M695 375v10M705 375v10M715 375v10M725 375v10M735 375v10M745 375v10M755 375v10M765 375v10M775 375v10M805 375v10M835 375v10M885 375v10M935 375v10M475 385v10M485 385v10M555 385v10M565 385v10M575 385v10M615 385v10M635 385v10M655 385v10M665 385v10M675 385v10M685 385v10M715 385v10M725 385v10M735 385v10M745 385v10M755 385v10M765 385v10M775 385v10M785 385v10M805 385v10M835 385v10M865 385v10M485 395v10M495 395v10M505 395v10M535 395v10M545 395v10M555 395v10M565 395v10M575 395v10M605 395v10M635 395v10M665 395v10M675 395v10M715 395v10M725 395v10M735 395v10M745 395v10M755 395v10M765 395v10M775 395v10M785 395v10M795 395v10M805 395v10M825 395v10M835 395v10M845 395v10M865 395v10M495 405v10M505 405v10M515 405v10M525 405v10M575 405v10M595 405v10M605 405v10M625 405v10M635 405v10M665 405v10M695 405v10M715 405v10M725 405v10M735 405v10M745 405v10M755 405v10M765 405v10M775 405v10M785 405v10M795 405v10M805 405v10M815 405v10M825 405v10M835 405v10M845 405v10M485 415v10M505 415v10M515 415v10M525 415v10M575 415v10M585 415v10M595 415v10M605 415v10M615 415v10M625 415v10M635 415v10M655 415v10M665 415v10M695 415v10M705 415v10M715 415v10M725 415v10M735 415v10M745 415v10M755 415v10M765 415v10M775 415v10M785 415v10M805 415v10M815 415v10M825 415v10M835 415v10M475 425v10M485 425v10M555 425v10M565 425v10M575 425v10M585 425v10M595 425v10M615 425v10M625 425v10M635 425v10M645 425v10M655 425v10M665 425v10M685 425v10M695 425v10M705 425v10M725 425v10M735 425v10M755 425v10M765 425v10M775 425v10M785 425v10M795 425v10M805 425v10M825 425v10M835 425v10M495 435v10M555 435v10M575 435v10M585 435v10M595 435v10M615 435v10M625 435v10M645 435v10M655 435v10M665 435v10M685 435v10M705 435v10M715 435v10M725 435v10M755 435v10M765 435v10M775 435v10M785 435v10M795 435v10M805 435v10M815 435v10M825 435v10M485 445v10M545 445v10M575 445v10M615 445v10M645 445v10M655 445v10M685 445v10M705 445v10M715 445v10M755 445v10M765 445v10M775 445v10M785 445v10M795 445v10M805 445v10M495 455v10M505 455v10M575 455v10M615 455v10M645 455v10M655 455v10M685 455v10M695 455v10M705 455v10M755 455v10M765 455v10M775 455v10M785 455v10M805 455v10M495 465v10M655 465v10M695 465v10M705 465v10M745 465v10M755 465v10M765 465v10M775 465v10M405 475v10M655 475v10M705 475v10M745 475v10M775 475v10M435 485v10M475 485v10M655 485v10M665 485v10M675 485v10M685 485v10M695 485v10M705 485v10M735 485v10M745 485v10M755 485v10M765 485v10M475 495v10M655 495v10M665 495v10M675 495v10M685 495v10M695 495v10M715 495v10M725 495v10M735 495v10M745 495v10M655 505v10M665 505v10M675 505v10M685 505v10M695 505v10M725 505v10M735 505v10M745 505v10M765 505v10M525 515v10M655 515v10M675 515v10M735 515v10M765 515v10M675 525v10M685 525v10M735 525v10M745 525v10M675 535v10M685 535v10M735 535v10M745 535v10M645 545v10M715 545v10M615 555v10M645 555v10M675 555v10M685 555v10M695 555v10M705 555v10M335 565v10M535 565v10M625 565v10M645 565v10M655 565v10M665 565v10M675 565v10M685 565v10M695 565v10M335 575v10M475 575v10M525 575v10M535 575v10M625 575v10M655 575v10M665 575v10M325 585v10M345 585v10M355 585v10M505 585v10M525 585v10M585 585v10M655 585v10M665 585v10M345 595v10M385 595v10M505 595v10M645 595v10M275 605v10M285 605v10M295 605v10M325 605v10M335 605v10M355 605v10M275 615v10M285 615v10M295 615v10M315 615v10M325 615v10M335 615v10M345 615v10M355 615v10M435 615v10M285 625v10M295 625v10M315 625v10M355 625v10M415 625v10M475 625v10M415 635v10M455 635v10M405 645v10M435 645v10M455 645v10M535 645v10M405 655v10M435 655v10M535 655v10M405 665v10M425 665v10M355 695v10M395 695v10M355 705v10M395 705v10M405 715v10M525 715v10M405 725v10M455 725v10M465 725v10M495 725v10M405 735v10M465 735v10M475 735v10M485 735v10M495 735v10M545 735v10M405 745v10M485 745v10M495 745v10M575 745v10M345 755v10M475 755v10M485 755v10M575 755v10M345 765v10M475 765v10M485 765v10M515 765v10M545 765v10M555 765v10M575 765v10M345 775v10M365 775v10M515 775v10M545 775v10M555 775v10M575 775v10M335 785v10M365 785v10M515 785v10M535 785v10M555 785v10M565 785v10M345 795v10M355 795v10M385 795v10M515 795v10M525 795v10M535 795v10M545 795v10M555 795v10M345 805v10M355 805v10M335 815v10M345 815v10M365 815v10M325 825v10M335 825v10M345 825v10M325 835v10M335 835v10M345 835v10M325 845v10M345 845v10M325 855v10M345 855v10M335 865v10"/><path stroke="#2e768e" stroke-width="9" d="M915 155h10M855 185h10M955 205h10M825 215h10M835 235h10M785 245h10M825 245h10M795 265h10M915 265h10M925 265h10M825 285h10M485 295h10M825 295h10M495 305h10M715 315h10M725 315h10M545 335h10M705 335h10M515 345h10M745 345h10M535 355h10M715 355h10M465 365h10M475 365h10M485 365h10M605 365h10M685 365h10M695 365h10M785 365h10M895 365h10M475 375h10M545 375h10M885 375h10M325 385h10M335 385h10M485 385h10M495 385h10M515 385h10M545 385h10M315 395h10M325 395h10M485 395h10M495 395h10M505 395h10M515 395h10M525 395h10M545 395h10M585 395h10M505 405h10M515 405h10M405 415h10M525 415h10M495 435h10M505 435h10M515 435h10M525 435h10M535 435h10M545 435h10M595 435h10M495 445h10M505 445h10M515 445h10M525 445h10M545 445h10M555 445h10M585 445h10M595 445h10M485 455h10M505 455h10M515 455h10M525 455h10M535 455h10M545 455h10M555 455h10M565 455h10M585 455h10M595 455h10M605 455h10M625 455h10M705 455h10M795 455h10M395 465h10M505 465h10M515 465h10M525 465h10M535 465h10M545 465h10M555 465h10M585 465h10M595 465h10M615 465h10M625 465h10M635 465h10M715 465h10M725 465h10M735 465h10M785 465h10M445 475h10M495 475h10M555 475h10M585 475h10M595 475h10M635 475h10M725 475h10M735 475h10M755 475h10M525 485h10M585 485h10M705 485h10M755 485h10M765 485h10M775 485h10M515 495h10M525 495h10M555 495h10M585 495h10M705 495h10M515 505h10M525 505h10M565 505h10M585 505h10M475 515h10M485 515h10M505 515h10M515 515h10M525 515h10M535 515h10M555 515h10M565 515h10M575 515h10M495 525h10M505 525h10M515 525h10M525 525h10M535 525h10M545 525h10M555 525h10M575 525h10M585 525h10M645 525h10M655 525h10M495 535h10M505 535h10M515 535h10M545 535h10M555 535h10M495 545h10M505 545h10M515 545h10M525 545h10M535 545h10M545 545h10M555 545h10M565 545h10M605 545h10M645 545h10M655 545h10M665 545h10M475 555h10M485 555h10M495 555h10M505 555h10M525 555h10M535 555h10M545 555h10M555 555h10M565 555h10M575 555h10M615 555h10M625 555h10M675 555h10M685 555h10M475 565h10M485 565h10M515 565h10M525 565h10M535 565h10M565 565h10M575 565h10M585 565h10M615 565h10M625 565h10M345 575h10M475 575h10M485 575h10M515 575h10M525 575h10M595 575h10M335 585h10M475 585h10M485 585h10M495 585h10M485 595h10M355 605h10M375 605h10M385 605h10M415 605h10M485 605h10M365 615h10M375 615h10M385 615h10M395 615h10M405 615h10M415 615h10M425 615h10M355 625h10M365 625h10M385 625h10M395 625h10M415 625h10M425 625h10M345 635h10M355 635h10M365 635h10M375 635h10M415 635h10M425 635h10M445 635h10M455 635h10M585 635h10M595 635h10M335 645h10M345 645h10M355 645h10M365 645h10M375 645h10M385 645h10M395 645h10M405 645h10M415 645h10M425 645h10M435 645h10M445 645h10M555 645h10M335 655h10M345 655h10M375 655h10M385 655h10M435 655h10M345 665h10M355 665h10M365 665h10M375 665h10M385 665h10M435 665h10M545 665h10M555 665h10M325 675h10M335 675h10M355 675h10M365 675h10M375 675h10M385 675h10M395 675h10M435 675h10M325 685h10M335 685h10M345 685h10M365 685h10M375 685h10M325 695h10M355 695h10M365 695h10M375 695h10M325 705h10M335 705h10M355 705h10M365 705h10M375 705h10M385 705h10M425 705h10M335 715h10M365 715h10M375 715h10M385 715h10M385 725h10M395 725h10M405 725h10M565 725h10M575 725h10M365 735h10M375 735h10M395 735h10M405 735h10M455 735h10M575 735h10M365 745h10M515 745h10M355 755h10M355 765h10M365 765h10M465 765h10M495 765h10M525 765h10M535 765h10M345 775h10M355 775h10M365 775h10M375 775h10M385 775h10M365 785h10M375 785h10M545 785h10M335 795h10M355 805h10M355 815h10M915 145v10M865 175v10M865 185v10M835 205v10M985 215v10M785 235v10M825 235v10M835 235v10M495 285v10M835 285v10M505 295v10M725 315v10M555 325v10M715 325v10M745 325v10M715 335v10M745 335v10M755 335v10M545 345v10M715 345v10M545 355v10M695 355v10M475 365v10M485 365v10M555 365v10M695 365v10M525 375v10M545 375v10M555 375v10M325 385v10M395 385v10M495 385v10M515 385v10M525 385v10M545 385v10M585 385v10M625 385v10M395 395v10M515 395v10M525 395v10M595 395v10M625 395v10M415 405v10M535 405v10M505 425v10M515 425v10M525 425v10M535 425v10M605 425v10M815 425v10M505 435v10M515 435v10M525 435v10M535 435v10M545 435v10M495 445v10M505 445v10M515 445v10M525 445v10M535 445v10M555 445v10M585 445v10M595 445v10M605 445v10M625 445v10M405 455v10M515 455v10M525 455v10M535 455v10M545 455v10M555 455v10M565 455v10M585 455v10M595 455v10M605 455v10M625 455v10M635 455v10M715 455v10M735 455v10M745 455v10M795 455v10M405 465v10M505 465v10M555 465v10M565 465v10M585 465v10M595 465v10M605 465v10M635 465v10M645 465v10M715 465v10M725 465v10M785 465v10M555 475v10M565 475v10M585 475v10M595 475v10M695 475v10M735 475v10M755 475v10M765 475v10M785 475v10M525 485v10M555 485v10M715 485v10M785 485v10M515 495v10M525 495v10M555 495v10M575 495v10M595 495v10M705 495v10M765 495v10M515 505v10M525 505v10M555 505v10M575 505v10M595 505v10M495 515v10M505 515v10M515 515v10M535 515v10M555 515v10M585 515v10M595 515v10M665 515v10M425 525v10M505 525v10M515 525v10M525 525v10M555 525v10M565 525v10M585 525v10M655 525v10M505 535v10M515 535v10M525 535v10M545 535v10M565 535v10M575 535v10M605 535v10M655 535v10M665 535v10M475 545v10M505 545v10M515 545v10M525 545v10M535 545v10M545 545v10M555 545v10M565 545v10M605 545v10M615 545v10M655 545v10M675 545v10M685 545v10M475 555v10M495 555v10M505 555v10M515 555v10M525 555v10M535 555v10M545 555v10M555 555v10M565 555v10M575 555v10M585 555v10M625 555v10M345 565v10M475 565v10M495 565v10M515 565v10M525 565v10M545 565v10M565 565v10M585 565v10M595 565v10M345 575v10M485 575v10M495 575v10M515 575v10M485 585v10M495 585v10M325 595v10M355 595v10M365 595v10M375 595v10M485 595v10M495 595v10M315 605v10M345 605v10M365 605v10M375 605v10M385 605v10M395 605v10M415 605v10M425 605v10M495 605v10M365 615v10M375 615v10M385 615v10M395 615v10M415 615v10M425 615v10M325 625v10M365 625v10M375 625v10M385 625v10M425 625v10M445 625v10M595 625v10M355 635v10M365 635v10M375 635v10M385 635v10M405 635v10M425 635v10M445 635v10M565 635v10M335 645v10M345 645v10M355 645v10M375 645v10M385 645v10M395 645v10M445 645v10M335 655v10M345 655v10M355 655v10M365 655v10M375 655v10M385 655v10M395 655v10M445 655v10M555 655v10M335 665v10M355 665v10M365 665v10M375 665v10M385 665v10M395 665v10M445 665v10M555 665v10M325 675v10M335 675v10M345 675v10M355 675v10M375 675v10M385 675v10M395 675v10M325 685v10M335 685v10M355 685v10M375 685v10M385 685v10M325 695v10M335 695v10M365 695v10M375 695v10M385 695v10M435 695v10M335 705v10M345 705v10M365 705v10M375 705v10M385 705v10M425 705v10M365 715v10M375 715v10M385 715v10M415 715v10M365 725v10M385 725v10M395 725v10M415 725v10M575 725v10M585 725v10M365 735v10M385 735v10M415 735v10M365 745v10M385 745v10M465 745v10M475 745v10M515 745v10M355 755v10M365 755v10M385 755v10M395 755v10M465 755v10M505 755v10M515 755v10M535 755v10M355 765v10M365 765v10M375 765v10M385 765v10M395 765v10M465 765v10M505 765v10M535 765v10M355 775v10M375 775v10M385 775v10M395 775v10M345 785v10M355 785v10M375 785v10M385 785v10M545 785v10M375 795v10M365 805v10M355 815v10"/><path stroke="#46307e" stroke-width="9" d="M965 255h10M565 355h10M575 355h10M505 385h10M705 435h10M635 445h10M545 495h10M565 495h10M535 505h10M545 505h10M595 515h10M605 515h10M675 515h10M685 515h10M595 525h10M605 525h10M575 535h10M585 535h10M635 535h10M645 535h10M575 545h10M585 545h10M635 545h10M595 555h10M605 555h10M495 565h10M505 565h10M545 565h10M555 565h10M595 565h10M435 615h10M405 625h10M355 795h10M365 795h10M525 305v10M575 355v10M505 385v10M615 395v10M615 405v10M715 425v10M565 435v10M605 435v10M635 435v10M565 445v10M635 445v10M545 475v10M545 485v10M565 485v10M595 485v10M545 495v10M545 505v10M605 515v10M615 515v10M685 515v10M545 525v10M605 525v10M635 525v10M645 525v10M555 535v10M585 535v10M635 535v10M645 535v10M485 555v10M595 555v10M605 555v10M655 555v10M555 565v10M405 615v10M445 615v10M345 625v10M405 625v10M345 635v10M495 755v10M365 795v10"/><path stroke="#6ccd5a" stroke-width="9" d="M375 285h10M385 285h10M395 295h10M405 315h10M415 345h10M415 355h10M435 365h10M415 385h10M425 385h10M445 415h10M445 425h10M445 505h10M535 575h10M545 575h10M525 595h10M595 605h10M435 635h10M495 635h10M505 635h10M585 645h10M575 665h10M575 685h10M395 695h10M405 695h10M495 695h10M395 705h10M405 705h10M555 705h10M475 715h10M505 715h10M735 255v10M385 285v10M395 285v10M405 305v10M425 335v10M425 345v10M425 375v10M425 385v10M445 405v10M445 415v10M445 495v10M535 585v10M295 595v10M605 595v10M435 625v10M435 635v10M505 635v10M505 645v10M575 655v10M575 665v10M435 675v10M575 675v10M405 685v10M415 685v10M435 685v10M495 685v10M555 685v10M405 695v10M415 695v10M555 695v10M405 705v10M515 715v10M555 725v10"/><path stroke="#b8de29" stroke-width="9" d="M385 295h10M425 295h10M405 305h10M395 315h10M415 325h10M425 335h10M435 335h10M425 405h10M495 665h10M505 665h10M505 675h10M505 685h10M425 285v10M405 295v10M425 295v10M395 315v10M425 325v10M435 325v10M435 395v10M535 415v10M835 435v10M505 655v10M505 665v10M515 665v10M515 675v10M515 685v10"/><path stroke="#e2e418" stroke-width="9" d="M575 635h10M535 695h10M575 625v10"/></g><g fill="none" stroke-linecap="round" stroke-width="10.6"><path stroke="#3cbb75" d="M976.5 267.1h0M546.8 753.7h0M633.3 626.2h0M844 265.1h0M505.1 684.7h0M465 314.8h0M495.5 345.2h0M795.6 237.9h0M847.5 236.4h0M474.5 435.1h0M965.8 227.9h0M375 597.7h0M517.8 612.2h0M543 647.7h0M985.5 194.3h0M942.9 307.1h0M487.2 334.6h0M806.7 297h0M595.7 375.6h0M405.4 275.1h0M825.4 225.2h0M585.8 614.6h0M575.2 693.1h0M557.6 633h0M446.2 373.5h0M597.9 357.8h0M463.3 656.4h0M376.9 595.9h0M914.4 324.3h0M467.3 483.9h0M315.5 334.5h0M782.3 267.5h0M615.7 585.2h0M493 815.8h0M637.8 585.3h0M777.5 265.8h0M764.7 367.6h0M605 384.6h0M606.7 582.8h0M313.7 324.7h0M484.2 684.5h0M482.3 623.3h0M827.6 275.6h0M635.6 614.4h0M475.6 444.1h0M474 804.2h0M574.3 705.6h0M475.5 462.2h0M464.6 815.3h0M447.1 294.4h0M843.5 345.5h0M434 397.6h0M354.1 324.6h0M906.7 313.1h0M526.1 702h0M947.7 372.1h0M444.4 485.5h0M535.1 675.4h0M565.9 515.4h0M845.8 143.5h0M874.5 104.4h0M406.9 352.8h0M406.6 275.3h0M536 746.4h0M927.4 274.3h0M587.2 607.6h0M932.7 347.9h0M915.2 305.3h0M795 235.4h0M424.2 446.4h0M957.8 223.2h0M434.6 295.7h0M564.3 624.2h0M473.9 437.8h0M366.8 414.7h0M484.7 705.5h0M402 405.5h0M472.3 412.6h0M524.6 792h0M845.4 175.4h0M805.5 232.8h0M852.2 397.6h0"/><path stroke="#2e768e" d="M575.5 534.5h0M344.8 664.8h0M615.5 555.5h0M713.9 492.3h0M733.4 483.4h0M527 396h0M375.9 615.6h0M625.5 564.8h0M425.7 535.3h0M574.2 762.4h0M604.2 454.8h0M362.5 716.2h0M715.8 485.1h0M555.6 375.1h0M344.5 614.5h0M505.3 435.6h0M504.3 394.4h0M564.6 467.5h0M364.9 734.8h0M822.5 437.9h0M644.8 556.2h0M547.5 544.5h0M715.6 334.5h0M433.9 702.3h0M672.6 567h0M745.8 452.7h0M512.8 503.7h0M545.1 354.1h0M374.2 684.7h0M895 374.5h0M524.4 524.5h0M524.4 485.4h0M752 394.9h0M336.9 354.5h0M365 665.6h0M356.8 604.6h0M344.2 574.5h0M396.2 627.7h0M574.1 505.4h0M767.6 467.5h0M474.7 742.5h0M512.8 526.9h0M594.2 474.5h0M562.9 545.9h0M954.4 206.9h0M473.5 553.2h0M576.2 553.4h0M764.4 374.3h0M485.7 736.8h0M684.2 543.2h0M535.8 412.8h0M515.2 574h0M345.7 704.8h0M742.3 486.8h0M424.2 605.3h0M797.6 456.5h0M726.9 433.6h0M715.1 334.3h0M334.7 864.2h0M584 565.2h0M355.1 695.1h0M365 805.7h0M546.5 393.8h0M473.7 753.6h0M544.7 357.4h0M737.5 466.1h0M557.4 464.9h0M393.9 618h0M526 545.8h0M784.9 243.4h0M342.7 586.7h0M365.8 636h0M375.6 714.1h0M375.1 715.3h0M467.4 592.2h0M503.7 332.4h0M513.4 563.5h0M365.2 726h0M695.3 433.7h0M512.1 587.5h0M375.3 694.9h0M397.8 396.1h0M664.8 575.6h0M536.5 545.4h0M475.8 395.6h0M384.4 774.9h0M615.6 533.7h0M465.3 733.1h0M365.7 685.7h0M415.4 416.9h0M442.1 656.7h0M597.8 393.2h0M495.8 605.2h0M544.9 553.3h0M834.3 235.8h0M345.5 773.5h0M593.4 498h0M604.1 435.3h0M736.9 523.9h0M357.4 776.5h0M554.3 517h0M924.9 263.1h0M365.4 775h0M365.6 675.6h0M375.7 694.2h0M714.2 507.1h0M836.9 295.4h0M684.3 555.4h0M313.5 867.8h0M522.5 384.2h0M347.1 684.5h0M534.4 495.7h0M594.1 495.8h0M512.5 316.7h0M653.5 395.2h0M555.4 665.5h0M622.5 554.7h0M494.9 383.8h0M593 415.5h0M562 452.3h0M364.9 595.1h0M555.4 397.7h0M575.1 516.7h0M487.9 584.1h0"/><path stroke="#b8de29" d="M505.4 654h0M304.8 355.7h0M434.6 334.4h0M425.8 335.8h0M445.5 503.5h0M404.7 304.7h0M437 403.1h0M302.1 352h0M415.9 324.5h0"/><path stroke="#25a386" d="M765 355.9h0M855.5 137.6h0M576.6 435.9h0M322.5 584.5h0M465.9 645.8h0M344.1 334.1h0M364.5 584.1h0M497.5 744.9h0M522.8 695.8h0M395.8 414.2h0M413.9 644.4h0M885 387.6h0M976.9 206h0M345.3 314.8h0M416.5 463h0M498 797.1h0M585.7 685.3h0M696.4 443.6h0M785 214.5h0M356.6 303.7h0M476 725.2h0M804.3 285h0M706.5 373.7h0M435.9 696.9h0M786.6 264.2h0M354.6 444.5h0M964.7 297.6h0M466.9 306.7h0M936 224.6h0M895.8 315.4h0M973.1 204h0M845.1 163.4h0M454.8 374.3h0M835.9 375.8h0M485.8 357.6h0M475.8 305.1h0M484.1 345.3h0M914.6 195.6h0M473.1 493h0M595.4 644.7h0M507.5 623h0M596 365.8h0M365.9 574.6h0M426.7 523.7h0M846.7 376.9h0M676.7 494.5h0M354.2 354.3h0M357.3 423.9h0M457.7 377.3h0M555.2 715.1h0M732.8 267.5h0M734.3 296.2h0M384.9 334.6h0M452.1 654h0M415.6 674.3h0M584.1 374.7h0M565.2 665.7h0M525.2 616.8h0M874.1 217.1h0M513.7 644.8h0M344.8 406h0M978 262.2h0M735.4 274h0M282.2 602.8h0M393.8 534.7h0M716.1 275.1h0M855.9 394.8h0M945 245.9h0M527.1 307.4h0M514 814.5h0M955.7 212.4h0M555.5 674.8h0M502.8 312h0M834.9 344.3h0M796 304.6h0M822.5 166.7h0M603.4 423.8h0M362.6 333.3h0M745.7 264.9h0M525.4 774.3h0M737.6 283.2h0M815.5 406.7h0M374.7 546h0M944.8 275.2h0M854.7 224.2h0M785.9 324.5h0M775.1 234h0M804.1 207.2h0M364.3 444.8h0M554 614.1h0M404.4 412.2h0M875.3 214.1h0M795.3 385.9h0M984.4 233.6h0M422.7 484.7h0M883.5 362.8h0M887.2 125.2h0M515.2 324.4h0M564.4 584.6h0M357.6 584.4h0M833.1 185.4h0M775.7 254h0M933.6 153.8h0M844.4 362.9h0M874.3 385.1h0M626.4 604.9h0M582.6 395.5h0M475.6 376h0M435.6 665.8h0M804.1 283.2h0M772.3 346.3h0M867.4 94.8h0M363.5 395.3h0M877.4 342.5h0M418 387.5h0M892.5 313.9h0M554.5 635.6h0M567.1 694.6h0M582.3 335.1h0M712.7 282h0M964.1 217.7h0M875.7 374.8h0M943.8 266.9h0M352.3 435.1h0M857.6 203h0M774.7 324.9h0M877.9 177.5h0M534.5 784.7h0M575.8 585.7h0M932.3 342.5h0M607.8 642.4h0M884.2 114.5h0M594.6 656h0M893.1 324.9h0M914.4 124.4h0M787.4 253.3h0M784.4 212.6h0M974.8 265h0M514.9 762.8h0M425.8 465.4h0M584.5 706.9h0M502.9 603.4h0M457.5 742.9h0M344 376.6h0M465.6 497.8h0M887.3 114.6h0M385.2 415.4h0M694.4 445.4h0M962.1 242.2h0M965.5 225.9h0M924.4 134.8h0M844 333.7h0M516.8 654.4h0M386.3 392h0M487.9 693.7h0M854.6 185.8h0M705 274.3h0M922.5 236.7h0M396.9 434.9h0M955.9 283.5h0M804.5 364.2h0M413.5 406.9h0M856.1 316.4h0M964.3 213.9h0M702.5 283h0M597.3 587.2h0M773.8 336.1h0M766 336h0M667.6 423.2h0M694.5 327.7h0M782.7 206.9h0M563.9 736.8h0M896.6 337.8h0M822.4 257.4h0M376.1 382.1h0M745.9 502.9h0M505.2 744.3h0M337.6 576.4h0M853.9 184.6h0M605.9 633.1h0M365.5 392.7h0M505.7 316.6h0M534.7 634.1h0M725 324.3h0M716.5 322.3h0M994.4 234.4h0M487.9 467h0M504.5 316h0M402.4 446.9h0M355.3 405.1h0M874.4 344.7h0M384.2 394.3h0M833.7 327.3h0M295.5 613.4h0M954.8 244h0M544.9 735.4h0M426.4 487.8h0M855.7 215.2h0"/><path stroke="#e2e418" d="M415.9 323.8h0M395.4 324.1h0"/><path stroke="#27938b" d="M555.8 344.3h0M335.7 674.3h0M796.9 405.1h0M453.3 377.9h0M817.6 435.7h0M755.9 384.2h0M575.7 424.8h0M745.4 383.7h0M837 404.4h0M714.4 384.2h0M822.8 307.4h0M737.7 457.6h0M576 364.4h0M544.8 374.4h0M488 597.8h0M862.3 384.6h0M655.2 454.7h0M344.1 754.6h0M714.9 544.4h0M614.2 435.8h0M675.3 535h0M707.4 366.3h0M383.8 703.8h0M334.4 334.7h0M734.2 432.8h0M837.1 424.5h0M516.3 417.5h0M326.2 826.4h0M482 395.4h0M907 353.6h0M385.1 404.3h0M473.1 303h0M404.7 674h0M384.4 685.8h0M435.5 486.6h0M356.6 825.1h0M784.1 353.6h0M646.8 453.2h0M755.2 436h0M825.1 416.1h0M387 803.6h0M744.6 415.7h0M577.7 336.8h0M572.4 764h0M482.2 294.7h0M555.3 794.2h0M785.6 414.3h0M555.5 355.2h0M536.1 444.8h0M366.1 754.1h0M386.3 657.6h0M702.8 465.4h0M372.8 344.9h0M575.8 325.6h0M546.5 743.6h0M794.9 465.5h0M274.2 615.1h0M775.3 245.5h0M503.7 295.8h0M727.2 353.2h0M934.7 305.8h0M456.4 382.3h0M624.4 376.1h0M577.6 376.7h0M427.1 675.3h0M824.6 424.2h0M545.4 375.9h0M405.9 725.7h0M556.3 573.5h0M477.2 346.2h0M497.6 404.4h0M555.8 744.7h0M545.6 403.2h0M865.6 202h0M484.2 284.1h0M502.8 377.3h0M834.4 414.7h0M666.7 417.6h0M582.3 672.3h0M365.7 754h0M602.6 544.9h0M492.6 603.5h0M577 327.6h0M694.5 555.3h0M844.9 404.9h0M745.9 356.9h0M694.8 464.5h0M417.3 746.8h0M755 523.5h0M805.9 404.4h0M674.1 395.3h0M762.5 218h0M627.7 372.7h0M552.5 402.4h0M872.9 134.4h0M567.8 383h0M715.2 344.6h0M674.7 505.1h0M737.5 414.5h0M803 464.9h0M584.3 583.7h0M384.6 444.5h0M534.8 575.1h0M496.4 596.4h0M874.1 152.3h0M784.3 415.7h0M524.8 514.5h0M716.7 445.2h0M685.5 425.2h0M575.2 453.1h0M285.1 614.6h0M695.8 387h0M312.7 607.5h0M824 265h0M535.2 387.2h0M655.5 445.4h0M677.5 484.5h0M327.8 822.3h0M504.4 716.8h0M524.2 406h0M703.6 477.6h0M795.3 405.8h0M703.3 485h0M675.5 523h0M395.5 384.1h0M474.4 735.5h0M656.6 573.3h0M355.7 804.4h0M563.2 434.4h0M595.6 435h0M736.3 367.8h0M872.8 163.9h0M454.2 367.1h0M924.4 284.2h0M824.1 405.1h0M577.5 725.3h0M836.2 396.2h0M482.4 582.1h0M362.3 747.8h0M575.2 764.3h0M916.7 127.1h0M664.3 412.5h0M907.3 345.6h0M722.3 535.5h0M535.9 665.7h0M634.9 454.8h0M635.6 475.3h0M266.1 613.2h0M544.5 605.7h0M484.7 754.1h0M625.7 425.9h0M326.7 686h0M493.1 336.8h0M514.9 414.5h0M352.1 656.3h0M694.5 404.1h0M342.1 702.3h0M683.9 387.4h0M844 204h0M767.9 487.9h0M557.4 794.3h0M863.1 394h0M784.9 404.7h0M544.7 342.9h0M794.6 433.5h0M524.6 336h0M725.1 502.6h0M706.5 433.8h0M445.1 495.8h0M613.8 426.9h0M353.7 597.8h0M773.9 406.5h0M462 394.3h0M837.9 436h0M534.8 794.1h0M853.6 113.9h0M555.1 364.2h0M773.4 372.4h0M712.8 406.3h0M572.3 394.4h0M387.6 722.1h0M884.3 385h0M814.8 344h0M745.1 475.9h0M662.5 443h0M315.8 623.5h0M705.7 445.1h0M512 796.3h0M836.8 326.7h0M695.9 507.3h0M677.4 496.6h0M606.5 396.4h0M515.6 354.8h0M524.6 593.7h0M392.5 764.4h0M403.8 732.1h0M486.2 515.8h0M447.8 364h0M494.4 595.8h0M554.3 677.5h0M542.7 385.1h0M443.1 332.7h0M564.5 793.1h0M454.7 644.4h0M775.3 434.5h0M577.9 382.3h0M395.9 684.9h0M824.6 286.2h0M335.8 582.2h0M694.9 575.2h0M653.5 595.7h0M713.3 386.4h0M473 315.8h0"/><path stroke="#6ccd5a" d="M794.1 185.1h0M353.1 392h0M363.6 454.6h0M447.7 305.2h0M427.1 374.6h0M404.7 314.8h0M435.8 685h0M445.3 504.2h0M876 104.3h0M422.2 295h0M797.2 185.9h0M316.1 577.2h0M402.3 316.9h0M812.9 245.5h0M524.1 633.1h0M464.5 383.8h0M485 817.8h0M466.2 402.3h0M522.8 697h0M794.7 187.5h0M492.3 342.9h0M406.9 316.7h0M415.2 696h0M842.7 254.9h0M434.3 682.7h0M754.7 312.7h0M524.8 713.2h0M425.8 385.3h0M556.4 727.3h0M576.5 682.2h0M423.1 383.8h0"/><path stroke="#3b528b" d="M492.3 557h0M814.6 427.9h0M565.2 494.4h0M782.5 363.6h0M614.1 404.3h0M495.8 283.8h0M593.8 567.7h0M475.7 553.3h0M462.1 765h0M426.3 613h0M354.1 794h0M585.1 494.6h0M335.2 775.8h0M392.9 394.4h0M373.5 765.8h0M484.3 545.8h0M443.6 643.6h0M404 753.7h0M604.9 534.8h0M342.2 697.8h0M456.6 633.2h0M594.5 545.4h0M522.4 477h0M535 496h0M554.1 662.6h0M364.6 733.5h0M352.8 783.3h0M493.4 536.8h0M516.5 756.5h0M496.9 583.8h0M343.1 657.1h0M604.1 526.9h0M335.4 355.8h0M584.2 505.2h0M745.1 464.6h0M396 714.2h0M584.8 507.7h0M722 492.3h0"/><path stroke="#46307e" d="M406.6 624.7h0M605.7 566.9h0M494.5 755.1h0M645.9 535.9h0M576.1 492.9h0M574.5 354.7h0M544.9 485.7h0M444.2 615.3h0M365 794.1h0M635.1 445.8h0M976 255.4h0M537.9 507.5h0M725.7 475h0M572.4 357.1h0M592.4 482.6h0M616 513.3h0M644.5 537.5h0M644 525.6h0M644.9 547h0M576 493h0M514.4 535h0M543.4 503h0"/><path stroke="#6ccd5a" d="M295.4 595.3h0M667.5 553.8h0M444.9 415.7h0M444.1 414.6h0M555.1 695.5h0M405.7 705.8h0M382.3 286.9h0M484.4 716.9h0M315.1 576.8h0M497.5 723h0M572.4 647.8h0M442.1 294.4h0M425.1 344.2h0M573.6 677.9h0M502.7 634h0M385.5 295.6h0"/><path stroke="#e2e418" d="M575.3 637.3h0"/><path stroke="#3b528b" d="M424.7 625.6h0M725.5 495.2h0M694.6 362.7h0M336.2 633.4h0M524.5 507.8h0M844.3 125h0M495.3 415h0M575.6 537.9h0M566.7 573.8h0M388 627.2h0M577.3 524.5h0M565.2 534.6h0M335.7 665.9h0M583.5 386.2h0M342.8 646.1h0M716 434.9h0M375.1 786.6h0M622.2 543.2h0M613.5 365.9h0M614.8 556.6h0M516.8 386.2h0M535.3 475.8h0M546.9 467h0M534.7 485.9h0M574.1 545.1h0M373.6 725.3h0M495.8 533.4h0"/><path stroke="#b8de29" d="M514.7 685.9h0M425 295.6h0M433.3 404.3h0"/><path stroke="#27938b" d="M396.5 385.3h0M584.1 414.7h0M335.3 574.2h0M484.4 745.4h0M974.4 287.8h0M332.7 872.1h0M592.2 424.9h0M366.1 567.8h0M684.1 432.7h0M363.2 324h0M934.7 287.9h0M344.4 845.2h0M687.5 522.5h0M677.9 573h0M327.2 846.7h0M754.2 405.9h0M764.8 525.3h0M577.3 782.4h0M473.2 396h0M696.1 386.1h0M556.5 746.3h0M577 772.7h0M485.4 275.1h0M532 356h0M644.4 442.6h0M716.1 406.1h0M732.1 304.4h0M622.1 585.9h0M534.2 576.2h0M633 423.3h0M485.7 764.5h0M756.9 446.2h0M875.8 312.1h0M473.7 385.8h0M724.5 535.1h0M786 494.6h0M703.9 447.3h0M545.8 774.3h0M765.5 415.9h0M344.2 864.8h0M756.6 412.2h0M943.9 363.8h0M834.1 304.3h0M537.6 363.4h0M537.3 404.8h0M567.3 377.8h0M504.6 616.3h0M526.2 557.8h0M314.1 635.5h0M675.1 404.3h0M685.6 564h0M673.9 564.2h0M403.5 712.1h0M574.7 735.2h0M706.2 357.1h0M835.4 192.4h0M616.2 385.5h0M644.8 455h0M725.3 387.3h0M414.1 713.7h0M687.7 497.8h0M584.1 424.1h0M614.2 624.3h0M614.3 565.7h0M347.2 317.4h0M585.9 444.5h0M735.8 495h0M882 144.1h0M734.8 525.1h0M524.6 344.9h0M405.3 654.8h0M595.8 424.1h0M484.6 385.3h0M596.1 572.7h0M322.3 833.3h0M757.5 427.3h0M515.4 775.9h0M655.3 434.5h0M683.6 425.1h0M703.5 347.6h0M355.5 594.7h0M794.5 444.6h0M722.3 402.5h0M774.5 475.3h0M912.8 206h0M502.3 522.1h0M555.8 432.1h0M315.7 604.9h0M504 584.2h0M484.5 734.6h0M903.7 346.9h0M734.8 372.2h0M494.3 745.9h0M657.3 554h0M665.2 425.6h0M706.7 562.7h0M614.2 374.8h0M505.8 593.1h0M765.5 324.4h0M564.3 462.8h0M687.5 483.1h0M504.4 414.4h0M755 414.4h0M565 605.6h0M365.1 825.2h0M825.7 233.7h0M743.3 424.5h0M425.4 665.6h0M385.1 403.7h0M614.3 394.6h0M955.6 272.1h0M705.8 555h0M934.4 365.3h0M775.2 444.9h0M535.1 344.6h0M505.8 344.7h0M696.8 402.6h0M736 345.7h0M524 595.5h0M264.7 614.1h0M676.2 517.1h0M574.3 444.1h0M748 363.4h0M522.8 297.6h0M373.3 804.8h0M807.8 376.2h0M694 353.6h0M504.4 453.8h0M684.2 533.6h0M384.9 565.2h0M866.3 386.4h0M758 477.3h0M405.7 714.5h0M487.6 787.3h0M523.7 343h0M515.2 455.8h0M564.9 325.9h0M495.3 627.1h0M395.7 772.9h0M296 624.6h0M745.3 364.1h0M642.5 374.8h0M662 403.5h0M777.8 386.5h0M822.8 435.1h0M784.1 213.1h0M374.1 417.2h0M776.5 302.5h0M387.6 692.6h0M616.5 387.3h0M654.3 594.4h0M715.2 463.1h0M495.1 464.9h0M554.2 325.7h0M334.1 844.1h0M784 476.1h0M557.8 784.8h0M324.8 865.6h0M734.2 314.5h0M763.9 506h0M723.9 413.7h0M464.6 745.1h0M794 404.9h0M722.1 335.4h0M653.3 436.7h0M473.1 576.6h0M763.6 443.3h0M727.1 337.8h0M684.7 293.3h0M712.2 373.9h0M387.5 793.4h0M864.3 223h0M443 723.5h0M356.2 612.1h0M505.5 323.2h0M615.7 445.6h0M916.4 364.9h0M807.4 405.8h0M787.1 437.3h0M956.3 223.1h0M665.7 404.8h0M833.2 173.1h0M385.7 795.3h0M774.7 236h0M517.7 787.8h0M347.2 365.7h0M666 434.5h0M564.4 374.9h0M694.6 564.2h0M744.8 404h0M655.1 425.8h0M356.2 567.5h0M836.4 266h0M664.7 575.5h0M503.5 722.2h0M812.5 445.3h0M644 444.6h0M623.2 457.5h0M745.9 354.7h0M504.9 335.3h0M906.5 277.9h0M485.3 464.6h0M694.9 375.7h0"/><path stroke="#2e768e" d="M912.3 155.2h0M554.2 514.1h0M652.7 383h0M524.8 445.2h0M545.7 455h0M544 536.7h0M587.6 524.9h0M514.9 434.5h0M594.3 525.6h0M363.3 637.6h0M707.5 463.7h0M334.4 645.2h0M342.4 792.7h0M512.8 757.3h0M384.9 614.7h0M332 585.6h0M475 565.1h0M493 384.5h0M784.9 245h0M662.8 575.5h0M334.4 595.3h0M375.1 667.1h0M865.5 187.5h0M624.1 454.1h0M367.3 813.5h0M337.4 663.2h0M482.4 573.7h0M426.8 534.5h0M597 502.3h0M494.1 284.9h0M486.2 276.8h0M354.8 633h0M474.1 554.3h0M776.4 476.9h0M447.7 727.9h0M524.5 505.5h0M397.3 655h0M732 475.9h0M503.8 673.2h0M594.6 445h0M484.4 454h0M595.3 514.2h0M367 772.1h0M522.9 335.3h0M765.6 215.7h0M603.3 464.1h0M483.7 604.4h0M716 454.3h0M384.5 604.9h0M526.5 347.9h0M862.5 392.7h0M355.4 707.6h0M876.3 395.1h0M356.4 785.4h0M785 464.6h0M824.8 244.7h0M394.3 654.4h0M732.4 432.7h0M522.1 445.8h0M485.4 514h0M734.5 474.8h0M485.1 455.8h0M377.3 624.3h0M502.6 543.3h0M795.5 264.4h0M784.8 464h0M445 676.5h0M546.3 474.4h0M333.2 617.2h0M554.3 385.5h0M572.5 502.8h0M665.7 544.8h0M584.9 497h0M524.2 377.9h0M506.2 472.3h0M583 476.7h0M372.7 678h0M337.1 333.1h0M656.8 597h0M795.6 393.1h0M784.3 482.6h0M412.2 746.4h0M495.4 527h0M394.9 615.6h0M546.5 442.4h0M545.3 364.8h0M582.6 484.2h0M762.4 496.5h0M394.7 725h0M497.8 562.3h0M593.2 632.7h0M367 826.9h0M507.1 375.4h0M382.7 727.7h0M555.9 537.8h0M904.2 366.2h0M715.2 457.6h0M416.6 664.7h0M383.4 786.5h0M553.3 804.2h0M338 605.6h0M826.4 244.2h0M542 785.6h0M743.2 382.1h0M575.1 554.4h0M555.2 463.8h0M565.6 464.9h0M325.1 832.1h0M395.6 765.7h0M366.3 653.6h0M582.8 487.3h0M525.5 454.7h0M637.2 563.7h0M523.1 446.2h0M505.3 476.1h0M545.4 785.7h0M594.9 475.6h0M504 554.1h0M373.7 733.1h0M584.4 734.6h0M615.1 423.1h0"/><path stroke="#3cbb75" d="M425 304.3h0M526.6 673.8h0M794 213.1h0M565.9 582.9h0M426 325.7h0M544.4 685.5h0M402.9 352.8h0M424.2 465.7h0M532.6 727.2h0M522.2 746.1h0M426.9 396.9h0M927.9 224.1h0M474.4 805h0M837.4 332h0M452.3 315.3h0M764.4 304.8h0M762 363h0M557.2 643.3h0M804.1 237.1h0M445.6 305.5h0M777.7 265.6h0M862.3 194.4h0M383.2 442.9h0M885 135.6h0M377.3 453.8h0M605.5 645.7h0M804.4 224.8h0M495 714.1h0M813.8 222.7h0M386.6 266.3h0M405.9 364.9h0M444.1 405.7h0M586.4 604.8h0M485.2 824.4h0M483.3 413h0M812.4 244.4h0M874.7 104.2h0M525.6 733.9h0M505 695.1h0M363 385.8h0M914.3 193.7h0M762.8 313.9h0M925.4 352.2h0M493.7 704.2h0M595.4 354.5h0M826.4 346.7h0M825.9 394.2h0M825.6 353.4h0M817.6 164.8h0M376.6 536.7h0M484.2 803h0M794.6 385.1h0M574.3 644.6h0M486.9 824.6h0M416.1 297.2h0M424.9 404.8h0M417.3 684h0M866.9 205.8h0M807.7 284.4h0M574.5 714.4h0M764.8 195.2h0M815.8 147.2h0M505.4 815.5h0M412 705h0M845.7 254.5h0M456.6 483h0M804.5 354.8h0M436 384.3h0M426.8 472.5h0M484.2 694.3h0M354.5 304.8h0M825.8 355.8h0M945.9 145.1h0M754.6 235.7h0M515.4 612.2h0M445.2 323.4h0M515.2 634.1h0M453.6 327.2h0M525.5 695.7h0M937.2 337.9h0M525.4 624.1h0M638 612.9h0M606.2 624.2h0M604.2 592.3h0"/><path stroke="#46307e" d="M383 742.1h0M485.3 555.3h0M977.5 256.5h0M607.7 514h0M594.3 485.8h0M713.8 437h0M592.4 536.2h0M487.4 552h0M367.8 794h0M443 614.9h0M543.6 525.3h0M594.5 555.4h0M647.4 522.9h0M343.4 633.6h0M605 564.5h0M606.5 443.9h0"/><path stroke="#25a386" d="M364.7 405.6h0M775.9 194.6h0M983.2 243h0M885.6 164.4h0M865.9 162.2h0M485.7 465h0M545.4 605.4h0M385.1 385.2h0M446.5 476.4h0M774.3 354.6h0M535.8 615.8h0M827.3 215.6h0M554.7 604.6h0M474.7 714h0M526.2 614.2h0M784.3 275.4h0M854.6 154.6h0M567.8 776.7h0M497.9 313.4h0M434.7 304.9h0M794.7 416.8h0M553 652.6h0M875.5 164.5h0M617.3 603.9h0M793.3 357.2h0M854 338h0M927.1 306.6h0M557.2 732.6h0M353 394.8h0M784.1 457.3h0M853.1 165h0M756.3 355.8h0M344.9 402.7h0M714.7 305h0M374.8 445.3h0M577.6 362.3h0M394.5 554.1h0M507.3 614.7h0M685.9 356h0M515.3 645.8h0M713.5 366.7h0M367.5 378h0M834 265.2h0M917.5 356h0M325.3 352.5h0M442.8 394.6h0M782.4 334.2h0M855.9 175.3h0M844.2 185h0M596.7 596.3h0M572.4 453.5h0M393.8 426.2h0M596.9 594.7h0M464.8 344.6h0M476.9 372.4h0M524.5 795h0M464.6 327.9h0M745.6 524.4h0M825.5 276h0M585.1 365.9h0M913.2 276.7h0M505.7 774.3h0M754.5 355h0M543.8 324.8h0M806 196.6h0M475.8 825.4h0M953.8 274.4h0M354.1 326h0M884.6 154.4h0M465 507.4h0M507.3 743h0M766 334.2h0M877.8 313.2h0M856.9 327.1h0M854.2 236.7h0M775.5 225h0M694.7 284.1h0M977.5 215.4h0M376.8 425.5h0M926.8 206h0M826.2 362.5h0M375.4 384.6h0M413.8 434.9h0M414.7 303.5h0M424.9 436h0M914.6 145h0M474.4 645.8h0M847.8 356.1h0M717.4 305.8h0M876.7 175.7h0M894 365.1h0M497.6 677h0M504.2 786h0M354.1 415.1h0M802.4 255.2h0M623.7 595.7h0M475.9 405.9h0M453.8 503.5h0M984.6 264.8h0M974.5 205.4h0M855.4 364.9h0M394 426.6h0M926 354.6h0M956.5 283h0M724.5 276.6h0M274.1 604.2h0M752.4 514.4h0M355.8 443.9h0M535 735.5h0M846.7 347.1h0M344.6 753h0M625 594.7h0M805.1 434.2h0M875.5 136h0M536.4 777.3h0M755 527.8h0M914.2 275.9h0M587 662.3h0M362.3 312.3h0M515.9 665.7h0M922.9 386h0M655.8 425.4h0M524.4 305.7h0M827 162h0M562.5 504.3h0M493.7 804.5h0M927.3 222.8h0M975 235.9h0M765.6 314.7h0M442.6 483.1h0M837 342.3h0M815.5 154.4h0M535.1 733.9h0M993.9 207.5h0M325.3 347.6h0M497.9 326.4h0M375.7 415.8h0M363.8 556h0M815.2 404.2h0M796.2 355h0M425.5 454.5h0M912.3 145.6h0M396.5 454.4h0M837.9 367.5h0M384.7 424.2h0M974.9 276h0M995.1 204.9h0M837.2 372.3h0M814.5 393.3h0M885.5 324.6h0M583 684.5h0M562.3 764.6h0M376.5 407.6h0M554.3 684h0M835.6 354.7h0M762.7 355.8h0M865.4 132.3h0M845.5 334.1h0M844.6 374.4h0M546.8 723.5h0M572.2 592.4h0M823.7 143.4h0M527.9 756.3h0M563.7 625.5h0M836.6 242.2h0M895.3 122.1h0M827.4 367.4h0M284.8 626.1h0M825.6 395.4h0M736.1 284.7h0M934.7 275h0M946.2 247.8h0M457.9 346.1h0M786.7 223.2h0M484.5 772.4h0M725.5 265.1h0M515.6 815.4h0M474.8 354.9h0M344.9 365.9h0M416.5 453.1h0M567.9 514.2h0M945.7 302h0M824.2 326.4h0M954.4 293.8h0M847.4 264.6h0M912.6 333.3h0M913 346.4h0M983.3 214.6h0M922.3 313.6h0M706 306.2h0M474.2 517.5h0M576.4 693.4h0M492.3 303.4h0M975.3 246.2h0M974.1 225.2h0M856.5 215.2h0M553.7 792.8h0M506.4 628h0M805.5 204.3h0M854.6 345.4h0M535.7 605.9h0M315.2 594.7h0M743.2 285.8h0M937.2 237.9h0M926.9 155.8h0M874 155.9h0M697.7 456.8h0M377.2 397.5h0M492.8 634.1h0M824.2 194.9h0M864.6 205.7h0M873.2 112.7h0M965.7 214.8h0M984.4 274.7h0M775.2 255.1h0M815.3 164.3h0M374.2 554.6h0M924.6 295.1h0M934.6 234.1h0M724.5 304.9h0M963 283h0M906.8 202.4h0M585.3 355.6h0M466.3 354.3h0M846 315.9h0M566.3 322.6h0M384.9 565h0M395.5 425.4h0M927.2 342.9h0M622.4 606.6h0M724.8 265.7h0M896.5 136.9h0M925.9 214.5h0M544.9 764.4h0M394.8 444.9h0M936.8 142.4h0M347.7 396.1h0M844.6 154.1h0M886 347.5h0M695.2 305.3h0M475.1 702.9h0M476.1 373.6h0M365.4 446.2h0M583.6 716.4h0M685.1 365.3h0M862.6 114.4h0M467.5 812.1h0M764.6 245.9h0M805.7 435.7h0"/><path stroke="#27938b" d="M745.3 534.8h0M316.3 633.8h0M325.7 596.4h0M624.2 444.5h0M705.3 504h0M835 405.5h0M345.8 624h0M634.5 476.6h0M634.7 405.3h0M664.3 385.6h0M745.3 484.7h0M937.8 223.9h0M484.9 354.9h0M503 457.4h0M336.5 784.3h0M946 263h0M332.4 617.2h0M322.8 634.5h0M673.4 406.3h0M522.3 764.4h0M723.7 534.1h0M714.2 555.6h0M367.6 782.7h0M556 473.9h0M792.1 394h0M645.9 374.6h0M567.1 355.9h0M344.6 835.9h0M792.6 462.8h0M467.9 745.6h0M364.7 785h0M824.8 434h0M333.9 784.3h0M974.6 246.7h0M664.4 395.7h0M567.7 402.8h0M535.2 404.4h0M687.6 485.4h0M515.3 543.4h0M474.6 755.8h0M493 395.5h0M605 375h0M505.3 346.3h0M517.6 414.7h0M825.5 445.8h0M546.7 334.4h0M872.8 337.3h0M334.6 614.7h0M453.5 642.3h0M616.4 563.3h0M725.8 362.3h0M715.8 445.4h0M764.6 445.1h0M637.5 572.5h0M802 256.5h0M927.4 366.9h0M627.1 612.9h0M327.4 386.6h0M323.8 623.8h0M645.7 373.8h0M824.8 315.1h0M727.5 343.6h0M522.6 806.6h0M477.8 763h0M486.2 324.4h0M536 656h0M565.8 365h0M462.7 352.1h0M874.2 395.7h0M345.9 765.4h0M437.4 652.7h0M396.3 706h0M845 305.9h0M282.1 636.4h0M716.4 356.1h0M393.1 757.3h0M397.1 386.3h0M774.1 374.6h0M486.3 727.1h0M355.2 614.2h0M295.1 634.4h0M845.2 222.4h0M937.5 156.2h0M485.8 745.3h0M574.4 394.1h0M406.5 713.8h0M604.5 405.2h0M556.8 367.6h0M535.2 315h0M864.3 334.1h0M775 235.9h0M594.5 515.2h0M724.2 503.6h0M585.1 432.1h0M686.3 392.1h0M515.5 425.2h0M654.3 415.5h0M753.6 306h0M544.3 803.4h0M824.9 262.4h0M355.9 755.1h0M802.2 344.3h0M534.4 332.8h0M736.7 514.1h0M582.3 457.7h0M535.3 654.1h0M475.9 766h0M364.2 717.2h0M766.7 524h0M394.8 724.3h0M327.5 843.5h0M745.2 513.2h0M574.3 404.2h0M465.3 735.3h0M645.4 434.4h0M775.5 455.4h0M706.6 553.4h0M684.1 445.9h0M293.2 612.2h0M667 507.2h0M583.6 625.5h0M375 707.2h0M684 377.5h0M475.7 625.2h0M685.6 385.1h0M483.4 356.9h0M753.2 454.5h0M625.1 613.4h0M676.8 532.5h0M735.3 385.5h0M334.5 625.5h0M724.3 515.1h0M924.7 144.8h0M675.9 543.6h0M644 564.2h0M525.4 785.9h0M703.7 484.1h0M646.3 606.9h0M524.8 805.3h0M336.5 626.3h0M845.5 134.4h0M452.8 757.3h0M613.3 437.3h0M437.4 657.2h0M655.5 515.5h0M804.5 435h0M834.2 314.8h0M357.6 376.6h0M706.9 366.2h0M393 684.4h0M837.7 313.1h0M894.9 146.5h0M674.5 375.7h0M764.5 455.6h0M545.6 794.1h0M744.2 375.6h0M783.1 422.3h0M324.4 594.4h0M764.7 382.3h0M584.7 695.3h0M456.1 724.3h0M685 424.3h0M395 785.4h0M518 514.9h0M514.3 374.5h0M645.8 464.9h0M353.3 596.5h0M752 405h0M936.7 376.1h0M655.1 485h0M425 495.1h0M776.2 392.1h0M345.1 824.9h0M553.3 734.9h0M974.1 214.9h0M814 255h0M726.8 414h0M655.2 493.2h0M837 396.3h0M693.9 465.8h0M763.5 386.3h0M715.5 415.5h0M383.1 763.3h0M686.3 572.2h0M676.4 576.7h0M575.9 414.8h0M595.2 424.8h0M576.3 732.2h0M464.5 397.2h0M767.7 443.4h0M823.5 157.3h0M754.6 435.3h0M774.8 394.3h0M785.9 456.3h0M557.3 704.1h0M692.5 452.4h0M774.5 395.6h0M826.9 297.3h0M695.4 474.4h0M564.8 795.1h0M353.5 382.7h0M677.1 526.4h0M414.7 664.3h0M484.2 394.6h0M503.6 353.3h0M562.8 435.4h0M572.1 343.6h0M487.3 283.7h0M484.2 764.9h0M284 614h0M564.3 395.2h0M694.4 414.6h0M575.9 395.5h0M332.2 703.4h0"/><path stroke="#6ccd5a" d="M593.4 376.4h0M576 677.6h0M476.8 447.3h0M585.2 723.8h0M445.7 422.7h0M467.4 373.9h0M383.5 546.7h0M434.9 363.5h0M574.1 665.9h0M435.3 635.5h0M434.9 365.5h0M576.1 686.2h0M496.3 683.6h0M955.6 365.7h0M494.6 694.2h0M444 414h0M746.5 316.2h0M922.4 346.1h0M475.5 806.4h0M474.2 464.9h0"/><path stroke="#e2e418" d="M534.2 695.4h0M536.4 697.1h0M397 322h0"/><path stroke="#3cbb75" d="M345.6 317.8h0M934.7 315.9h0M563.9 748h0M982.7 183.7h0M605.2 595h0M434.1 314.4h0M405.1 287h0M535.1 605.5h0M465.2 805.6h0M557.7 755.6h0M455.8 485.4h0M416.5 445.8h0M342.4 393.3h0M574.1 644h0M996 225.1h0M934.1 345.6h0M595.4 373.8h0M586.7 612.1h0M417.7 283.8h0M836.1 275.1h0M835 246.9h0M445.6 384.2h0M516.1 725.6h0M823.2 344.5h0M483.4 822.4h0M316.8 336.4h0M546.9 693.6h0M916.9 145.7h0M446.3 486.8h0M695.2 283.9h0M836 255.3h0M833.4 144.4h0M605.4 594h0M985.2 196h0M927 273.2h0M425.9 394.3h0M595.7 655.5h0M316 337.3h0M795.4 313.9h0M484.9 415.6h0M415.9 685.6h0M816.3 194.3h0M425.9 317.8h0M382.5 464.5h0M832.5 252.9h0M927.4 292.8h0M856.3 352.8h0M584.5 633.3h0M446.5 382.5h0M503.6 735.8h0M423.6 476.9h0M415.6 704.3h0M843.9 252.3h0M494.7 725.4h0M415.5 314.9h0M767.5 194.3h0M806 227h0M535 717h0M562 634.6h0M505.3 756.1h0M396.5 405.9h0M435.6 395.3h0M435.8 386.3h0M355.7 394.6h0M415.2 473.1h0M664.5 556h0M927.5 337.7h0M545.3 716h0M486.5 772.3h0M424.1 685h0M827.6 204.1h0M444.1 336.6h0M494.3 704.2h0M437.6 293.4h0M874.3 207.3h0"/><path stroke="#3b528b" d="M624.4 545.6h0M584.4 535.7h0M384.3 686.6h0M714.9 487h0M585.6 554.9h0M495.2 544.7h0M344.6 677.7h0M576.6 543.5h0M575.8 525.4h0M615.8 545.5h0M845.6 125.3h0M636.6 526.9h0M482 563h0M515.1 555.2h0M372.4 747.4h0M663.1 538h0M564.7 484.6h0M563.9 495.1h0M634.2 544.8h0M515.3 406.9h0M387.4 716.1h0M537.5 764h0M636.8 543.5h0M534.4 396.2h0M577.3 357.4h0M385.8 625.7h0M505.1 484.4h0M613.1 555.3h0M514.6 553.5h0M525.9 467.1h0M545.7 562.6h0M533.4 493.7h0"/><path stroke="#25a386" d="M464.8 645.7h0M806.4 204.5h0M865.8 174.3h0M642.7 443.3h0M454.8 397.3h0M852.9 323.3h0M847.3 136.1h0M854 144.6h0M512.9 814.2h0M915.9 364.7h0M903.9 296.9h0M552.6 608h0M454.2 754.2h0M493.2 443.1h0M942.5 297.6h0M572.7 444.9h0M594.8 674.7h0M684.6 305h0M334.1 324.8h0M596.9 365.9h0M536.4 675.9h0M415.6 434.7h0M495.4 345.4h0M774.5 295.6h0M472.7 417.8h0M724.5 295.4h0M825.5 254.6h0M505.3 805.3h0M387.1 395.8h0M967.5 276.5h0M405.2 455.7h0M362 416.6h0M525.3 304.7h0M885.9 315.2h0M754.7 304.1h0M454.1 655.9h0M714.5 315.3h0M894.7 355.7h0M365.8 425.7h0M513.9 666.4h0M532.1 757.9h0M373.5 557.5h0M795.3 315.6h0M944.7 225.4h0M824.1 236h0M874.3 334.9h0M474.8 645.2h0M425.9 524.3h0M626.8 584.9h0M742.4 505.8h0M497.5 632.2h0M637.7 575.4h0M553.4 787h0M487.3 386.1h0M575.5 575.5h0M415.2 424.2h0M444.3 353h0M347.7 353.5h0M796.5 445.8h0M355.1 584.7h0M334.8 795.6h0M703 315.2h0M825.2 295.7h0M683.9 304.3h0M364.7 574.2h0M752.6 467.8h0M934.1 295.7h0M737.1 263.2h0M566.1 753.8h0M624.8 584.5h0M516.6 697.3h0M407.7 435.1h0M344.2 354.1h0M805.8 295.5h0M736.7 403.3h0M574.8 655.3h0M905.1 284.8h0M484.8 784.9h0M524.9 706h0M975.3 285.3h0M767.1 226.7h0M907.4 143.7h0M784.6 235.5h0M485.7 625.8h0M785.9 314h0M943.4 205.3h0M535 685.6h0M944.8 295.4h0M945.5 365.2h0M387 455.4h0M617.6 413.1h0M337.5 328h0M715 294.1h0M703.3 327.9h0M482.2 402.1h0M577.5 784.6h0M955.3 274.9h0M444.2 364.1h0M317.9 587.7h0M943.1 202.8h0M547.1 653.1h0M436.5 315.7h0M475 595.5h0M554.9 617.7h0M455.2 424.6h0M357 404.5h0M476 326.2h0M895.8 154.2h0M933.1 137.1h0M484.8 774.7h0M864.9 325h0M945.9 292.3h0M854.2 355.6h0M833.8 337.5h0M924.5 274.7h0M787.2 342.9h0M845.3 164.9h0M853.2 144.3h0M694.4 295.9h0M592.4 613.3h0M327.9 587.3h0M452 503.4h0M807.4 264.2h0M807.3 392.4h0M475 725.6h0M584.8 345.1h0M956.1 245.8h0M964.9 245.7h0M795.9 205.7h0M415.8 295.3h0M704.6 297h0M695.3 324.1h0M583.9 435.9h0M764.1 334.2h0M634.2 605.7h0M795.2 245.2h0M592.5 674.4h0M795.1 415.2h0M945.6 285.6h0M967.6 286.7h0M762.2 457h0M805 213.2h0M773.5 312.2h0M463.1 504.5h0M495.2 674.9h0M774.1 334.3h0M805.9 194.9h0M924.2 152.2h0M864.8 125.6h0M573.9 578h0M965.8 262.1h0M423.4 432.6h0M786.3 253.3h0M335 345.2h0M805 214.6h0M885.2 365.8h0M336 602.5h0M893.2 367.3h0M484.7 435h0M674.5 362.3h0M484.6 405h0M565.5 755.9h0M334.7 328h0M474.5 665.2h0M824.9 154.2h0M886.6 336.6h0M494.9 634.9h0M765.3 344.3h0M837.2 173.4h0M356.8 566.6h0M885.8 155.7h0M754.2 334.3h0M854.4 196h0M507.7 787.8h0M785.2 335.9h0M592.7 605.8h0M387.3 383.1h0M324.3 344.6h0M595 613.1h0M355.6 565.9h0M954.8 236.4h0M695.5 315.7h0M385.6 435.6h0M564.6 774.4h0M604.9 356h0M695.8 344.1h0M703.9 273.1h0M855.3 115.7h0M545.4 684.8h0M345.6 847.3h0M545 755.4h0M805.7 244.3h0M375.9 336.4h0M747.9 243.1h0M745.3 523.4h0M324.6 584.3h0M463.5 364.9h0M464 645h0M906.1 284.8h0M664 483.5h0M465.4 304.2h0M485.5 314.6h0M797.4 383.3h0M855 343h0M696.6 313.6h0M344 382.5h0M365.6 565h0M725.6 284.3h0M744.2 245h0M356.4 364.6h0M477.2 645.4h0M384.1 534.1h0M792.3 412.1h0M554.8 745.6h0M774.3 302.8h0M883 333.6h0M663.9 396.1h0M825.2 365.8h0M386.9 537.4h0M594.9 584.3h0M473.9 653.3h0M855.6 382.1h0M774.1 265h0M615.1 437.6h0M745.2 325.1h0"/><path stroke="#2e768e" d="M365.5 765.5h0M364.2 615.3h0M356.8 685.2h0M516.3 446.5h0M694.2 566.6h0M414.8 605.2h0M605.6 435.9h0M553.4 763.1h0M564.2 524.6h0M374.3 775.9h0M555.2 474.6h0M763.3 504.2h0M345 715.2h0M537.1 525.4h0M395 642.4h0M586.5 497.2h0M565.9 645.5h0M354.2 635.5h0M824.8 445.6h0M815.5 424.2h0M605 545.7h0M544.5 785.9h0M564.7 555.1h0M653.4 503.8h0M503.7 556h0M362.6 676.4h0M533.3 464.2h0M355.5 665.9h0M765.8 495.7h0M385.9 724.1h0M987.3 223.4h0M795.7 454.7h0M535 344.8h0M403.7 644.5h0M445.7 665.8h0M746 472.9h0M415 745.9h0M375.2 734.7h0M533.9 562.1h0M694.8 485.6h0M555.7 525h0M335.2 712.5h0M583.4 526.3h0M393.6 663.7h0M425.7 705.8h0M545.3 365.2h0M394.4 645h0M577.8 372.4h0M325.2 673.8h0M584.6 563h0M356.2 698h0M636.2 547.6h0M616 368h0M527.3 554.6h0M555.9 444.7h0M514.8 754.9h0M496.7 554h0M365.5 705.6h0M533.7 485h0M606 475.8h0M725.3 315.1h0M524.5 486.9h0M777.1 245.4h0M464.2 775.6h0M416 732.7h0M597.9 633.8h0M354 685.1h0M725.4 464.2h0M596.9 452.3h0M334.5 705.9h0M622.1 395.7h0M535.4 765.1h0M372.5 773.9h0M364.2 625.9h0M527.5 547.7h0M498 614.5h0M364.5 624.2h0M954.6 205.6h0M322.9 864.3h0M536 404.5h0M424.7 615.6h0M662.6 545.2h0M375.8 784h0M672.6 515.7h0M506 524.9h0M515.6 385.8h0M353 667h0M505.1 395.4h0M386.4 606h0M585.5 484.6h0M404.7 734.2h0M364.4 755.8h0M377.4 717.2h0M584.6 565.8h0M586 454.2h0M717.7 357.6h0M324.4 635.8h0M617.1 626.3h0M422.9 644.3h0M954.1 193.5h0M515.7 456.4h0M322.3 854.9h0M835 295.8h0M522.3 457.3h0M542.1 357.7h0M573.1 327.2h0M516.4 576.9h0M433.8 524.9h0M534.5 515h0M378 626.1h0M496.4 612.7h0M786.9 495h0M386 644.8h0M835.3 166.9h0"/><path stroke="#46307e" d="M596.1 484.4h0M507.6 565h0M633.1 523.8h0M634.3 535.5h0M525 315.7h0M505.2 385.1h0M545.1 525.9h0M494.1 757h0M526.2 473.6h0M555.2 544.1h0M684.5 514.9h0M647.9 546.6h0M525.3 314.9h0M346 635.3h0M586 467.5h0M604.1 525.9h0M602.5 527.4h0M552.9 563.6h0M636.6 566.4h0M607.8 563.3h0M564.1 573.8h0M604.9 553.8h0M614.6 514.5h0M347.7 343.3h0M554.2 545.7h0M485.5 555.7h0"/><path stroke="#b8de29" d="M432.6 634h0M395.5 295.6h0M404.6 304.3h0M403.3 707.7h0M425.8 335.1h0M602.3 604.8h0M502.3 652h0M512.2 676.6h0M505.9 664.8h0M833.4 443.9h0"/><path stroke="#27938b" d="M634.3 437.4h0M685.9 445.3h0M643.9 565.6h0M754.2 465h0M515.7 784.6h0M493.8 736.2h0M482.6 732.6h0M762.9 464.4h0M702.7 387.6h0M525.2 594.6h0M416.8 487.2h0M715.2 374.9h0M975.6 226.1h0M555.1 632.3h0M762.8 412.9h0M344.1 853.3h0M695.4 425.2h0M774.6 404.2h0M564.4 785.9h0M285.1 636h0M704.6 425.8h0M414.8 634.1h0M854.2 172.1h0M374 806.8h0M704.8 375.6h0M565.3 356h0M544.2 324.7h0M434.3 306.5h0M346.6 823.3h0M665.5 495.6h0M833.4 432.4h0M744.4 425.5h0M337.3 707.3h0M504.1 425.8h0M504.6 465.1h0M625.6 573.1h0M356 825.3h0M346.3 773.9h0M594.3 405.2h0M325.9 596.3h0M474.8 424.9h0M335.1 573.2h0M695.5 355.4h0M695.7 434.3h0M574.7 344.2h0M544.2 444.5h0M812.7 414.3h0M713.8 495.9h0M534.9 644.2h0M904.5 125.2h0M844.6 205.6h0M776.7 367.6h0M634.3 395.1h0M503.6 425.2h0M735.2 435.4h0M475.1 345.3h0M706.7 497.2h0M714.5 335.7h0M356.4 715.9h0M785.7 455.2h0M573.3 415.5h0M475.2 496h0M514.5 796.8h0M415.8 534.3h0M492.2 744.4h0M555.6 405.7h0M837 195.2h0M735.8 364.6h0M336.7 875.9h0M383.1 673.6h0M577.8 366.6h0M525.9 722.8h0M334.4 864.2h0M343.2 807.4h0M557.7 404.5h0M783.6 442.6h0M733.9 416.6h0M966.4 222.9h0M695.6 496h0M324.4 855.2h0M792.8 305.8h0M626.4 463.7h0M805 444.8h0M534.6 378h0M674.3 485.1h0M914 354.4h0M664.9 584.6h0M507.2 462.5h0M775.8 425.4h0M776.4 472.3h0M744.5 545.2h0M565.2 434.7h0M824.5 416h0M345.6 604.9h0M834.5 165.8h0M724.3 405.7h0M734.4 544.3h0M766.2 393.8h0M666 492.4h0M814.8 284.5h0M736.9 492.6h0M684.7 467.5h0M347.9 755.6h0M493.3 446.6h0M764.1 505.1h0M634.6 415.4h0M405.1 726.4h0M652.4 447.5h0M484.5 444.7h0M614.3 454.1h0M723.2 436.9h0M946.9 236.3h0M743.6 416.1h0M675 574.2h0M484.6 445.7h0M774.4 195.4h0M975.9 218h0M734.2 405.6h0M985.3 215.1h0M533.2 582.7h0M376.2 373h0M652.4 535.6h0M695.1 427h0M585.5 385h0M654.6 575.8h0M734.4 515h0M896.4 356.5h0M804.1 422.2h0M534.9 564.8h0M404.1 487h0M435.6 654.7h0M405.7 485.1h0M597.9 686.4h0M725.5 385.2h0M545.3 774h0M485 427.6h0M466.2 338h0M294.2 614.7h0M613.3 456.6h0M475.8 625.2h0M636.8 425.7h0M954 194.1h0M815.3 192.7h0M684.3 465h0M763.7 344.4h0M667.8 515.3h0M614.7 625.6h0M543.9 734.1h0M813.9 402.5h0M616.2 397.5h0M757.9 492.1h0M508 407.1h0M655.9 495.1h0M436.8 495.1h0M704.9 364h0M404.2 745.2h0M663.5 402.4h0M677.1 387.2h0M856 103.6h0M775.9 424.2h0M554.9 393.2h0M485.8 425.7h0M644.1 454.9h0M653.2 463.6h0M366.1 814.1h0M592.6 413.1h0M674.9 525.4h0M594.2 432.3h0M843.3 202.4h0M554.4 804.5h0M817.3 266.9h0M523.4 424.5h0M535.3 364.6h0M757.1 452.9h0M333.8 822h0M356.9 627h0M715.1 405.2h0M504.1 673h0M802.9 417.1h0M884 155.6h0M554.7 395.7h0M704.2 384.5h0M767.7 402.5h0M435.1 495.4h0M343.1 333.8h0M476.6 712.4h0M495.8 475.9h0M565.3 385.4h0M688 454.9h0M375.4 552.2h0M344 804.2h0M652.2 453.2h0M722.3 343.2h0M535.1 384.6h0M517.7 314.7h0M577.2 407.2h0M664 395.9h0M843.8 355.2h0M392.9 525.1h0M755.5 365.5h0M705.1 564.7h0M634.5 407.4h0M294.3 622.6h0M382.3 337.9h0M765.4 394.9h0M706.2 446.3h0M555.5 423.1h0M402.9 746.3h0M505.2 417.9h0M763.8 407.3h0M334.1 875.1h0M906.3 357.9h0M737.6 345.5h0M865.9 404.3h0M867.2 407.6h0M663.1 566h0M624.3 435.6h0M814.3 305.4h0M854.8 164.1h0M654.4 465.3h0M606.7 417.8h0"/><path stroke="#2e768e" d="M784.2 364.5h0M743 332.7h0M753.5 342.2h0M445.8 655.3h0M585.2 454.9h0M507.4 525.2h0M605.5 465.6h0M367.1 725.6h0M823.7 414.5h0M464.3 775.4h0M513.3 466.1h0M356.9 762.1h0M344.4 795.3h0M474.9 632.3h0M567.8 794.8h0M786.1 423.9h0M394.7 624h0M638 462.1h0M482.1 385.5h0M395.1 605.2h0M364.5 612.5h0M543.1 454h0M454.3 634.8h0M373.3 683.1h0M425 634.6h0M525.7 534.5h0M386.2 752.8h0M542.9 367.6h0M495.1 295.7h0M513.4 345.3h0M702.1 436.5h0M415.5 605.2h0M565.7 565.2h0M502.4 533.8h0M664.8 526h0M555 334.1h0M854.6 167.5h0M376.9 636.3h0M564.6 544.2h0M692.2 364.5h0M585.7 426.9h0M558 507.7h0M324.2 603.1h0M576.7 337.5h0M916.1 157.9h0M626.5 462.8h0M827.5 245.6h0M525.6 375.7h0M364.7 355.6h0M534 576.3h0M693.1 483.5h0M595.7 575.5h0M327.9 697.8h0M435.8 523.8h0M504.5 304.3h0M335 714.8h0M566.4 542.4h0M334 685h0M837.8 412h0M553.5 454.3h0M634 386.5h0M408 463.4h0M625.4 417.1h0M525.1 495.6h0M474.7 574.8h0M476.5 776.8h0M412.2 726.6h0M776.2 246.7h0M543.9 533.5h0M524.1 435.6h0M544.8 435.1h0M595.6 514.2h0M534.8 415.8h0M834.7 284.2h0M534.9 525.5h0M474.1 364.1h0M546.7 393.3h0M323.5 707.6h0M865.6 185.1h0M395.1 774.5h0M434.3 646h0M694.9 556.9h0M394.1 664.5h0M785.1 363h0M734.4 455.7h0M605.3 466.8h0M477.5 546.7h0M403.8 662.4h0M553 453.8h0M565.7 527.4h0M515.8 454.8h0M374.1 604.3h0M355.2 765.3h0M526 574.5h0M464.7 755.2h0M334.8 695.2h0M315.5 615.1h0M424 706.6h0M376.6 792h0M397.2 713h0M415.6 724.9h0M333.4 335.5h0M527 572.4h0M547.3 324.2h0M534.1 565.3h0M495.1 514.6h0M375.3 764.9h0M744.1 335.8h0M746.6 374.1h0M734.8 484.8h0M574.4 406.2h0M367.6 766.1h0M565.7 456.5h0M354.1 814.2h0M552.2 552.7h0M407 467.5h0M347.6 616.6h0M537.9 552.2h0M665.4 497.1h0M705.3 494.4h0M806.8 455h0M424.1 605.9h0M595.9 523.9h0M345 576.9h0M736.7 483.6h0M677.6 382.6h0M365.9 694.7h0M717 476.2h0M522 523.3h0M746.7 536.1h0M647.1 573.6h0M275.9 627.7h0M395.4 674.3h0"/><path stroke="#46307e" d="M512.4 536.9h0M725.7 474.2h0M583.5 542.6h0M592.8 556.7h0M404.5 624.1h0M643.4 525h0M545.7 504.2h0M565.9 493.2h0M583.1 545.5h0M566 447.5h0M682.6 517h0M656.9 563.6h0M726.4 493.9h0M398 636.9h0M574 523.6h0M605.9 537.9h0M576 494.5h0"/><path stroke="#25a386" d="M294.4 603.5h0M864.2 162.5h0M443 402.5h0M463.7 372.3h0M852.9 202.7h0M844.7 365.7h0M816 207.3h0M853.1 133.6h0M964.9 264.8h0M952.7 255.1h0M824.8 214.1h0M895.7 144.4h0M945 214.8h0M742.4 293.1h0M466.7 492.8h0M862.1 196.1h0M474.2 704.2h0M454.7 365h0M355.5 375.2h0M592.5 716.9h0M364.6 423.3h0M524.5 684.9h0M893.4 325h0M414.8 385.3h0M463.9 327.9h0M644.9 585.9h0M347.9 375.4h0M385.7 557h0M835.4 183.3h0M973.8 275.7h0M364.1 315.4h0M596.3 434.4h0M804.2 364.2h0M545.5 655.4h0M945.2 375h0M924.8 365.5h0M755.5 514.8h0M585.1 662.8h0M987.4 247.5h0M496.9 715.7h0M782.4 376.8h0M636.2 584.2h0M575.8 602.3h0M335.8 393.6h0M375.5 444.4h0M985.7 275.7h0M737.4 387.3h0M965 295.2h0M495.4 352.5h0M795.4 232.9h0M905.7 335.3h0M517.8 353.9h0M855.1 114.7h0M545.1 766.2h0M893.6 316.1h0M392.8 695.6h0M815.8 265.4h0M997 234.6h0M474 705.9h0M864.6 224.7h0M865.5 164h0M784.6 224.9h0M944.1 246h0M794.6 354.3h0M354.8 384.8h0M454.6 353h0M314.3 607.9h0M902.4 145.9h0M395.9 404.7h0M594.1 364.8h0M415 424.8h0M772.5 444.9h0M527.1 772.1h0M354.1 434h0M557.4 674.6h0M864.5 104.7h0M477 626.5h0M873.8 332.1h0M386.1 535.7h0M814.4 155.1h0M746.1 492.5h0M505.8 702h0M463.4 722.7h0M747.6 268h0M362.2 586.5h0M484.8 438h0M965.4 285.9h0M282.3 606.2h0M846 157.4h0M846.7 364.5h0M923.4 373.2h0M535.6 304.3h0M514.1 655.2h0M844.2 314.6h0M375.5 544.1h0M534.7 725.4h0M464.9 725.9h0M586.2 377.6h0M456.6 336.2h0M926.9 334.1h0M347.9 594.1h0M765.6 224.9h0M567 745.2h0M454.5 504.5h0M344.8 383.3h0M386.4 692.4h0M615.7 612.8h0M564.9 514.1h0M895.1 134.1h0M655.7 583.5h0M555.2 705.3h0M414.3 714.8h0M834.3 317.9h0M532 357.4h0M775.4 364.3h0M567.7 627.1h0M516.7 293.3h0M333.4 397.9h0M344.9 394.6h0M956.8 257.2h0M904.4 334.1h0M553.7 612.6h0M555.6 755.6h0M857.7 222.2h0M444.6 322.1h0M715.3 325.5h0M805.4 293.3h0M557.5 605.2h0M984.3 204.4h0M385.9 694.9h0M883.8 312.4h0M355.7 355.6h0M452.4 486.9h0M587.9 375.8h0M854.6 356.3h0M452.8 347.9h0M743.7 526.3h0M874.4 314.7h0M514 327.9h0M405.4 452.1h0M364.4 435.3h0M934.8 215h0M465.8 494.5h0M534.9 736.6h0M585.8 574.8h0M414.7 675h0M934.7 145.9h0M476.3 666.7h0M346.1 784.7h0M995.5 215.3h0M605.6 625.4h0M337.5 625.1h0M513.4 307.8h0M747.1 322.7h0M586.2 362.7h0M856.3 157h0M386 455.2h0M835.2 175.8h0M434.9 282.4h0M526.9 743.2h0M504.7 795.9h0M344.7 375.3h0M374.9 327.4h0M874.4 144.3h0M614.1 575.4h0M866.5 173.9h0M394 444.3h0M777.1 314.5h0M542.4 764.9h0M542.9 663.2h0M605 365.8h0M354.9 326h0M585.8 665.6h0M373.3 424.9h0M523 684.5h0M534.9 775h0M807.1 273.9h0M504.8 754.6h0M805.3 354.1h0M785.2 355.2h0M405.2 435.1h0M423.4 667.6h0M884 335.8h0M365.2 365.3h0M372.1 454.8h0M725.3 422.9h0M884.2 314.9h0M535.9 686h0M635.4 595h0M925.8 204.5h0M562.2 605.2h0M354.5 302.6h0M593.4 677.1h0M823.9 255.9h0M396.4 453.5h0M672 502.2h0M846.1 177.4h0M384.7 445h0M574.9 575.3h0M745.8 514.6h0M466.5 387.7h0M892.8 152.4h0M745.9 284.4h0M795.8 375.5h0M944.9 142.8h0M823.8 333.3h0M815.7 204.1h0M337.4 795.3h0M417.9 293.5h0M514.3 764.5h0M915.8 215.2h0M544.6 645.1h0M475.5 505.6h0M634 604.2h0M414.5 446h0M474.9 327.4h0M393.2 555.2h0M374.7 375.6h0M896.5 145.2h0M622.7 413.8h0M965.1 254.6h0"/><path stroke="#3cbb75" d="M775 212.7h0M325.1 325.5h0M804.6 273.2h0M602.9 615.9h0M715.3 324.5h0M464.8 405.3h0M825.4 332.5h0M755.4 222.3h0M594.6 625.9h0M916.5 324.6h0M604.2 574.8h0M486 805.8h0M426.2 522.8h0M853.1 314.2h0M774.5 215.3h0M867.5 347h0M417.9 704.4h0M497.3 774.4h0M407.2 422.3h0M494.3 435h0M575.7 614.5h0M764.3 205.3h0M825.8 354.8h0M513.7 662.8h0M477 825.5h0M454.7 493.5h0M674.2 554.1h0M785.6 264h0M764.8 205.9h0M506 813.1h0M506.4 805.2h0M514 705.6h0M764.7 294.4h0M455.2 386.3h0M455.2 395.5h0M616.9 586.5h0M416.4 314.2h0M815.7 163.9h0M445.8 475.7h0M375.7 565.7h0M745.8 304.9h0M854.3 377.2h0M826.4 227.6h0M574.9 704.2h0M413.8 433.9h0M777.5 327.6h0M672.2 557.6h0M533.6 782.8h0M487.5 708h0M513.4 804h0M535.5 744.8h0M355.9 313.2h0M455.4 494.7h0M535 715.4h0M454.8 407.8h0M504.3 735h0M907 335h0M497.9 666.7h0M904.4 194.4h0M467.8 367.5h0M432.9 388h0M426 686h0M432.1 285.3h0M535.2 705.6h0M855 314.3h0M464.5 414.5h0M436 284.2h0M565.3 685.9h0M495.6 665.6h0M404.4 354.2h0M354 332.5h0M326.7 337.3h0M804.1 244.4h0M463.6 472.2h0M717.6 317.9h0M895.2 124.3h0M465.4 475.5h0"/><path stroke="#e2e418" d="M434.8 337.7h0M395.7 325.8h0"/><path stroke="#3b528b" d="M525 502.2h0M715.8 475.5h0M395.7 635.9h0M346.2 694.3h0M626.3 523.9h0M403.2 633.7h0M592.1 544h0M643.5 477.3h0M625.6 545.4h0M567.7 523.5h0M383.9 627h0M494.6 534.2h0M562.5 475.2h0M492.3 393.9h0M375.4 757.3h0M525.4 474.9h0M516.2 494.5h0M556.6 442.3h0M338 594.6h0M547.5 483.9h0M345.4 674.2h0M486.7 545.5h0M515.9 494.1h0M337 775.2h0M625.8 534.2h0M535.3 394.3h0M552.4 487.7h0M634.9 525.9h0M515.9 554.1h0M334.4 635.5h0M345.5 645.1h0"/><path stroke="#b8de29" d="M396.1 314.5h0M423.6 296.3h0M515.1 687.4h0"/><path stroke="#6ccd5a" d="M565.3 705.9h0M495.5 685.3h0M426.6 405.2h0M426.6 386.4h0M635.3 624.5h0M387.2 293.4h0M475 434h0M575.1 684.2h0M353.5 315.6h0M812.8 237.7h0M466.3 405.5h0M425.2 355.5h0M404.3 364.3h0M603.4 386.4h0M466.1 803.9h0"/><path stroke="#2e768e" d="M503.5 305.4h0M812.3 423.6h0M557.1 492.1h0M507.6 435.4h0M515.3 464.2h0M354.9 605.4h0M367.1 596.2h0M475.5 766.1h0M353.6 807.2h0M413.1 605.9h0M655 545.1h0M383.1 664.2h0M313.1 615h0M545.8 544.2h0M546.4 477.5h0M592.9 567.9h0M404.4 645.6h0M525.7 405.9h0M475 745.5h0M355.1 675.2h0M397.5 605.7h0M505.2 444.5h0M484.8 584.3h0M633.9 472.7h0M357.1 695h0M416 615.3h0M445.2 625.7h0M692.3 414.6h0M755.1 397.3h0M707.7 373.7h0M494.3 555.1h0M524.5 497.2h0M322.2 674.8h0M522.4 803.4h0M555 456h0M833.8 384.5h0M497.7 596h0M625.9 464.9h0M944.6 195h0M786.3 417.1h0M772 458h0M615.5 452.8h0M337.7 693.2h0M334.5 674.5h0M454.1 474.8h0M554.3 764.5h0M335.1 684.5h0M484.2 365.2h0M412.9 623.5h0M545.5 384.6h0M516.8 462.3h0M385.9 733.1h0M332.9 833.3h0M593.5 494.1h0M556.2 527.3h0M392.5 677.4h0M555 504.5h0M882.3 377.8h0M662.4 386.8h0M696.4 465.8h0M414.2 615.4h0M374.2 702.1h0M515.1 405.3h0M385 785.4h0M445.5 664.3h0M344.6 794.5h0M757.4 477.2h0M407.9 754.9h0M773.2 402.5h0M835.5 287.6h0M494.1 395.1h0M915.1 155.1h0M286.3 626.6h0M504.4 475h0M525.6 574.9h0M555.5 537h0M544.5 563.5h0M657.7 523.8h0M545.5 554.9h0M595.8 635.7h0M602.1 472.9h0M323 682.2h0M373.8 615.3h0M564.1 787.3h0M485 374.4h0M754.6 485h0M576.8 546.3h0M335.5 815.9h0M335.4 674.2h0M362.3 806.6h0M797.2 263.9h0M494 514.4h0M386.9 597.4h0M534 465.6h0M585.7 475.6h0M334.6 826h0M773.7 466.6h0M364.8 802h0M477.9 365.1h0M545.7 395.7h0M603.6 435.9h0M362.1 352.1h0M454.4 477.6h0M575.5 516h0M686.5 377.2h0M555.4 464.1h0M324.3 675.3h0M534.7 323.2h0M764.2 475h0M724.3 484.1h0M513.2 394.6h0M325.2 685.8h0M535.3 444.3h0M666.3 522.8h0M786.7 472.2h0M757.5 486.1h0M784.7 323.6h0M496.4 602.9h0M553.3 387.6h0M555.1 762h0M325.7 395.2h0M344.5 655.3h0M386 674.5h0M384.6 634.4h0M477.8 563h0M526.4 564.5h0M503.1 762h0M384.9 664.8h0M522.1 336.7h0M373.1 793h0M484.9 605.1h0M526.5 564h0M733.9 545.8h0M374.9 604.8h0M516.8 576.3h0M622.2 575.5h0M725.3 375.6h0M344.3 587.1h0M755.5 383.1h0M365.9 744h0M505.6 674.2h0M515.2 395h0M592.2 472.8h0M364.5 767.2h0M627.3 454.1h0M355 655.6h0M384.3 632.1h0"/><path stroke="#3b528b" d="M507.2 513.5h0M497.3 545.4h0M508 302.2h0M723.8 465.3h0M793.1 424.2h0M364.3 736.2h0M565.6 534.3h0M314.3 613h0M374.8 725.8h0M394.2 765.8h0M922.4 267.6h0M783.2 247.8h0M712.6 424.1h0M352.9 637.2h0M467.1 764.7h0M527.3 435.6h0M615.4 546.2h0M346 344.5h0M634.6 564.3h0M625.4 525h0M594.1 535.5h0M633.6 533.9h0M836.9 236.1h0M715.5 474.1h0M372.9 745.6h0M375.6 726.1h0M564.3 574h0M483.1 546.5h0M553.9 487.6h0M507.9 536.6h0M766.4 495.7h0M372.7 734.6h0M343.5 686.9h0M364 624.6h0M462.8 774.3h0M494.8 575.7h0M352.1 795.1h0M504.4 484.6h0M494.3 573.8h0M335.4 356.5h0"/><path stroke="#46307e" d="M644.9 544.4h0M545.1 495.9h0M542.8 495.3h0M615.6 405h0M584.8 465.1h0M555.3 545.9h0M715.2 434.5h0M585.5 535.5h0M977.7 253.5h0M552.4 564.4h0M604.2 555.8h0M564.1 485.2h0M554.4 565.2h0M842.5 125.8h0M606.2 514.3h0"/><path stroke="#25a386" d="M884 326.9h0M586.2 684.9h0M924.8 234.1h0M485.8 693.4h0M773.2 462.1h0M915.9 343.4h0M665.8 585.2h0M767.2 236.9h0M574.3 655.2h0M593 604.3h0M387.7 437.3h0M727.1 294.1h0M695.9 326.5h0M564.6 764.8h0M774.2 224.7h0M734.2 305.2h0M796.8 247.5h0M945.6 325.8h0M542.1 703.9h0M315.1 595.6h0M522.8 784.2h0M805.8 386.8h0M346.6 356.6h0M487.5 727.4h0M924.2 225h0M596.2 352.1h0M823.8 192.1h0M493.8 333h0M794.9 195.9h0M657.8 472.6h0M854.5 205h0M696.1 344.1h0M785.6 374.5h0M427.2 693.8h0M405.5 414.4h0M416.1 427.1h0M495.9 764.4h0M345.5 324.4h0M625 605.1h0M862.1 316.7h0M944.4 264.2h0M475.2 655.1h0M943.7 155.3h0M835.5 263.8h0M917.9 273.2h0M437.7 667h0M762.5 315.7h0M476.7 716.7h0M552.8 684h0M795.8 205.7h0M814.3 275.4h0M645.7 583.6h0M693.4 424.9h0M745.3 242h0M445.9 314.1h0M796 223h0M945.1 335.9h0M505.1 793.9h0M796.7 296.3h0M454.3 344.8h0M477.2 517.6h0M844.9 385.9h0M854.2 375.2h0M824.7 313.6h0M904.2 344.1h0M322.5 354.6h0M904.1 194.8h0M327.8 862.3h0M515.4 624.3h0M454.6 655.8h0M854 153.8h0M855.9 216.9h0M793.4 366.3h0M843.1 187.5h0M903.4 312.6h0M484.8 347h0M665.3 585.8h0M474.5 615.5h0M805.3 265.8h0M494.9 325.6h0M494.8 804.1h0M805.2 194.9h0M454.9 314.8h0M784.1 232.3h0M272 607.8h0M536.9 622.2h0M464.4 417.1h0M843.1 236.5h0M966.5 204.7h0M677.8 406.2h0M454.1 745.1h0M355.7 425.8h0M365.2 432.7h0M582.1 673.1h0M395 525.7h0M815.8 395.7h0M855.4 195.8h0M504.4 614.1h0M486.6 324.3h0M475 335.8h0M375.1 424.1h0M855.7 124.7h0M606.2 636.9h0M663.5 383.6h0M566.6 767.8h0M844.6 165.6h0M414.9 304.9h0M517.6 296.2h0M454.5 333.8h0M854.3 345h0M933.6 304.3h0M392.8 417.6h0M532.8 682.1h0M925.6 375.9h0M865.1 312.5h0M505.3 724.4h0M596.1 642.3h0M547.1 756.3h0M542.9 407.5h0M592.6 644h0M484.7 325.4h0M747.5 532.5h0M394.8 465.3h0M783.5 357.2h0M576.7 754.4h0M993.2 217.9h0M755.4 525.1h0M693.8 296.2h0M305.5 385.2h0M515.8 734.8h0M674.2 362.7h0M326.6 575.3h0M562.4 664.8h0M514 735.5h0M687 363.3h0M796.2 305.2h0M936.1 295.8h0M943.3 283.8h0M556.8 366h0M955.4 234.2h0M612.1 606.8h0M503.8 595.5h0M842.4 327.3h0M405.3 424.3h0M746.3 403.1h0M713.9 297.3h0M584.2 675h0M475.1 316h0M874 135.3h0M915.7 354.8h0M394.9 552.6h0M713.2 302.2h0M424.6 675.1h0M725.9 327.8h0M955.1 284.6h0M366.4 446.5h0M634.5 395.9h0M495.3 784.5h0M945.4 355.9h0M773.7 447.1h0M815.9 194.2h0M477.2 315.8h0M767 207.9h0M912.3 365.3h0M784.9 254.2h0M473.6 307.5h0M375.4 594.8h0M422.5 452.5h0M797.5 462.2h0M537.5 632.5h0M795.1 364.6h0M693.9 375.6h0M744.8 307.1h0M475.9 296.5h0M642.7 427.9h0M705.2 454.1h0M605.5 366.9h0M482.9 343.1h0M782.6 313.7h0M395.4 462.3h0M517.7 693.3h0M794.8 345.2h0M944.8 213.4h0M744 356.3h0M774.9 416.8h0M454.3 353.1h0M834 245.6h0M942.4 373.8h0M954.2 247.1h0M706.2 316.4h0M805.9 234.5h0M476.1 632.8h0M374.6 395.5h0M855.3 146.1h0M725.2 292.3h0M843.4 246.1h0M515.8 777.2h0M923.8 212.2h0M474.1 515.1h0M554.5 644.9h0M984.2 234.9h0M364.6 394.8h0M565.8 735.1h0M766.2 516.3h0M454.8 754.6h0M974.8 245.7h0M682.7 502.5h0M454.9 354.9h0M373 582.8h0M794.5 332.4h0M744.9 273.6h0M345.3 562h0M915.4 284.4h0M864.2 94.8h0M834.8 325.3h0M425.5 466.2h0M387.7 433.7h0M342.5 307.5h0M503.2 773.4h0"/><path stroke="#6ccd5a" d="M524.2 716.1h0M953.8 365.3h0M554.8 725.6h0M506.7 734.9h0M985.3 197.5h0M464.3 415.1h0M435.3 637h0M405.7 298h0M403 292.2h0M417.2 356.1h0M413.6 477.2h0M604.7 604.3h0M395.5 284.7h0M583.3 645.9h0M766.3 294.2h0M555.7 695.8h0M436.2 674.3h0M574.8 676h0M434.1 324.1h0M404.9 695.4h0M503.5 644.1h0"/><path stroke="#b8de29" d="M517.6 684.2h0M393.7 295.8h0M424.2 284.6h0M434.2 405.8h0M395.1 314.6h0M514.1 673.4h0M427.8 357.7h0"/><path stroke="#27938b" d="M574.7 466.1h0M805 462.6h0M557.9 572.9h0M544 314.7h0M707.9 505.4h0M566.2 607.8h0M492.4 375.7h0M827.8 404.8h0M772.6 487.5h0M474.9 395.7h0M943.4 275.9h0M733.9 376.8h0M494.3 735.2h0M754.6 375.1h0M723.8 447.5h0M397.1 734.7h0M694.5 475.9h0M694.6 353.9h0M822.7 323.6h0M635.8 432.6h0M764.9 215h0M942.5 283.3h0M743.3 396.1h0M745 385.5h0M625.4 615.2h0M536.9 306.9h0M474.7 353.7h0M653.1 414.4h0M325.1 615.3h0M416.4 637.5h0M764.2 464.9h0M357.7 757.9h0M817 415.4h0M507.3 354.7h0M665.2 434.1h0M786.8 446.8h0M688 447.5h0M768 483.9h0M693.5 485.3h0M336.5 643.5h0M285.8 633.9h0M385.9 805.3h0M942.9 323.5h0M285.1 615.1h0M884 345.7h0M595.7 414.2h0M513.8 424.7h0M674.5 565.6h0M735.7 424.1h0M696.7 513h0M536.7 336.5h0M354.2 625.4h0M635 455.8h0M784.8 304.9h0M645.3 424.3h0M804 447.7h0M515.8 584h0M705.2 417.9h0M442.6 496.8h0M844.5 397h0M557.6 776.3h0M914.5 135.3h0M293.5 636.1h0M505.2 415.5h0M717.3 387h0M487.7 602.7h0M344.7 594.7h0M332.5 863.8h0M585.5 572.4h0M476.4 342.7h0M334.4 585.2h0M334.9 314h0M397.6 734.8h0M722.9 425.5h0M342.7 406h0M412.1 535.2h0M745.1 416h0M756.3 413h0M845.1 132.4h0M315.7 865.2h0M823.1 303.1h0M782.9 402.3h0M755.8 467.4h0M563 786.1h0M573.1 346.1h0M565.3 334.5h0M783.1 385.5h0M785.4 385.9h0M744.7 405h0M345.1 774.9h0M647.7 586.6h0M633.2 408h0M525.3 424.9h0M942.7 314.3h0M584.6 395.8h0M734.8 336.5h0M344.3 853.7h0M792.8 447.9h0M533 417.5h0M384.2 805.3h0M384 595.1h0M674.1 494.6h0M536.2 655.1h0M647.4 434.7h0M654.1 494.5h0M735.8 505.2h0M464.5 634.4h0M967.9 272.2h0M814.7 345.8h0M635.1 374.2h0M724.4 394.9h0M834.8 352.3h0M913.2 202.2h0M614 464.6h0M614.7 385.9h0M886.4 165.8h0M545.7 345.8h0M684.7 454.2h0M726.3 355.1h0M864.4 324.2h0M765.9 424.4h0M835.5 395.7h0M612.3 377.8h0M443.5 672.7h0M576.8 414.4h0M383 794.2h0M376.1 547.9h0M538 802.6h0M544.6 744.6h0M345.3 834.6h0M513.7 377.1h0M626.9 387h0M735.6 335.8h0M574.3 384.8h0M664.1 505.5h0M352 813.6h0M405 743.6h0M674.8 394.7h0M667.9 433.4h0M735 414.5h0M906.7 124.2h0M564.6 404.2h0M655.5 385.4h0M504.3 595.6h0M325.9 625.2h0M333.7 654.5h0M624.3 435.4h0M544.4 554.9h0M644.7 605.1h0M675.5 537.6h0M643.5 437.9h0M654.3 584.4h0M486.1 363.1h0M664.9 414.9h0M656.8 504h0M936.4 365.8h0M634.3 374.3h0M864.7 124h0M817.6 342.6h0M604.9 395.2h0M536.8 377.7h0M342.9 816.7h0M666.3 596.1h0M654.1 504.9h0M835.4 194.8h0M717.7 374.1h0M755.2 394.9h0M414.2 644.7h0M536.6 326.9h0M473 737h0M413.7 715.5h0M494.4 734.7h0M322.3 624.6h0M365.3 632.4h0M335.9 604.3h0M495.3 377.4h0M346.8 846.7h0M515.6 586.6h0M786.5 276.4h0M797.2 313.9h0M494.2 622.2h0M784.3 424h0M644.6 384.1h0M674.3 514.1h0M704.5 475.6h0M785.3 435.7h0M744.9 473.9h0M534.4 365.1h0M804.2 416h0M733.1 302.5h0M317.9 636.1h0M743.4 374.2h0M724.6 513.2h0M436.9 484.4h0M745.2 394.4h0M544.5 334.6h0M544.9 675.4h0M375.4 656.2h0M712.5 452.8h0M355.4 675.7h0"/><path stroke="#3cbb75" d="M805.3 262.4h0M885.9 137.4h0M574.1 694.9h0M494.3 774.4h0M416.1 687.4h0M625.7 594.3h0M463.6 477.9h0M753.9 232.9h0M525.9 624h0M874.1 325.9h0M646.8 596.8h0M933.6 212.3h0M315.1 324.7h0M952 212.8h0M474 825.4h0M375.7 437.2h0M507.7 633.9h0M584.7 343.8h0M443.6 395.2h0M484.6 804.6h0M505.8 625.9h0M527.8 622.3h0M954.7 264.6h0M744.9 315.7h0M436.4 317.8h0M535.3 716.5h0M572.2 615.2h0M464.4 374.5h0M582.8 615.9h0M374.5 436.8h0M912.9 294.8h0M485.6 814.2h0M722.7 275.4h0M432.1 376.1h0M436.9 372.2h0M365.8 554.3h0M405.3 684.1h0M794.3 243.7h0M425.4 695.8h0M933.1 332.5h0M777.6 214.1h0M484.3 705.9h0M397 286.9h0M677.9 555.7h0M854.6 186.5h0M517 633.2h0M524.9 635.8h0M565.8 707h0M413.1 282.6h0M577.6 666.6h0M756.1 217.2h0M832.5 345.4h0M545.2 695.4h0M524.8 736.3h0M412.7 393.4h0M366.4 555.6h0M954.8 264.8h0M406.9 365.1h0M505.2 684.1h0M437.9 676.5h0M564.7 715.1h0M542.8 694.7h0M633.9 597.2h0M605.9 574.7h0M874 204.5h0M374.2 384.4h0M447.6 383.7h0M356.3 355h0M762.8 307.5h0M487 335.1h0M945.2 334.4h0"/><path stroke="#3b528b" d="M362 686.4h0M506.2 512.4h0M744.3 455h0M514.1 512.2h0M725.7 485h0M415.8 624.2h0M414.9 612.9h0M336.6 662.9h0M544.4 515.1h0M487.1 517.4h0M392 605.5h0M346.2 343.9h0M392.5 712.5h0M545.8 513.7h0M533.2 542.7h0M403.1 616.8h0M453.6 733.3h0M632 553.2h0M384.2 745h0M373.3 763.2h0M603.7 537.3h0M364.7 605.9h0M345.6 695.6h0M583.9 505.2h0M625.8 558h0M564.7 533.7h0M666.3 534.7h0M743.9 453.9h0M545.7 465.8h0M364.1 684.3h0M333.2 773.4h0M466.3 754h0M493.9 285.8h0M762.5 475.5h0M782.6 465.2h0M586.6 515.9h0M353.4 796.7h0M584.1 515.2h0M367.9 353.5h0M984.3 224.2h0M332.8 383.7h0M364.3 644.1h0"/><path stroke="#3cbb75" d="M315 597.2h0M463.9 487.9h0M966.6 207h0M545.6 715.3h0M472.7 812.1h0M767.6 234.7h0M393.5 525.9h0M444.2 394.5h0M465 384.8h0M755.1 225h0M323.6 337.4h0M434.8 615.1h0M474.7 414h0M467.4 312h0M536.5 606.6h0M924.5 355.9h0M484.1 335.2h0M513.9 632.7h0M915.9 294.5h0M575.7 624.2h0M365.1 366.3h0M422 302.8h0M767.7 296.8h0M503.5 714.3h0M427.7 445.5h0M415.8 475.2h0M522.4 792.3h0M375 283.2h0M482.6 685.7h0M536.2 303.8h0M534.9 703.9h0M763.5 196.1h0M423.4 377.7h0M514.6 724.7h0M814.6 222h0M576.6 627.4h0M453.5 392.1h0M605.5 584.6h0M524.8 715.7h0M954.2 264.2h0M817 215h0M892.4 347.8h0M563.2 685.4h0M463.7 317.6h0M395.6 463.9h0M515.7 643.1h0M935.3 355.2h0M875.2 204.6h0M493.3 693.6h0M515.7 615.1h0M813.5 154.9h0M875 154.2h0M793.6 206.3h0M317.8 327h0M575.4 714.4h0M775.6 227.5h0M917.3 326.4h0M535.6 744.7h0M836.5 274.8h0M415.5 344.5h0M423.7 693.8h0M496 302.7h0M376.7 584.5h0M935.3 335.4h0M386.9 282.4h0M635.5 625.2h0M767.2 245.3h0M914.2 334.4h0M403.7 696.5h0M424.4 305.7h0M354.3 314.7h0M813.8 203h0M813.2 277.5h0M494.3 697.2h0M904.6 273.9h0M792.9 347.3h0M423.2 687.4h0M737 293.2h0M423.9 327.8h0M434.9 375.8h0M497.6 724.3h0M612.2 587h0"/><path stroke="#46307e" d="M653.2 565.5h0M585.6 545.7h0M632.2 534.5h0M595.6 552.7h0M654.7 564h0M405.9 612.1h0M445.3 613.4h0M514 533.4h0M494.4 752.6h0M614.2 406.3h0M595.9 544.2h0M346.8 644.4h0M562 484.1h0M636.6 447h0M545.9 497.9h0M564.3 446h0M505.7 564.6h0M605 514.6h0"/><path stroke="#27938b" d="M445.4 725h0M526.9 517.8h0M646.3 565.1h0M542 806.9h0M423.2 492.9h0M402.4 652.8h0M813.5 284.4h0M635.7 385.8h0M554.6 776.4h0M465.4 594.2h0M432.2 623.8h0M702.1 284.7h0M625.7 404.1h0M744.2 504.7h0M334.3 304.3h0M403.2 472.6h0M402.6 477.7h0M842.4 242.8h0M295.4 604.5h0M555.8 342.7h0M486.6 292.5h0M415.1 485.8h0M702.1 333.6h0M983.7 203.4h0M613.7 463.1h0M693.7 405.6h0M727.5 363.4h0M476.6 427.4h0M272.7 626.4h0M544 796h0M682.2 392.7h0M625.4 566.9h0M564.9 565.3h0M707.4 385.1h0M524.2 585.5h0M575.4 773.4h0M934.5 375h0M487.9 447.8h0M694.6 505.3h0M507.8 324.7h0M733.1 495.5h0M925.5 192.2h0M934.7 385h0M754.5 445h0M634.4 413.8h0M446.6 313.3h0M823.2 442.2h0M555.8 715.6h0M562 645h0M586.6 696h0M825.3 426.9h0M274.5 624.2h0M784.1 324.1h0M794.4 396h0M735.9 547.7h0M407.4 666.7h0M335.7 313h0M535.3 374.9h0M574.5 445.5h0M397.6 706.2h0M586.7 692.4h0M824.6 305.6h0M736.6 505h0M587.1 413.4h0M504 462.6h0M515.9 314.1h0M322.3 346.2h0M697.9 437.2h0M334 824.4h0M346 815.4h0M364.2 663.6h0M764.2 517.4h0M435.8 485.4h0M445.7 493.5h0M314.9 622.4h0M455.7 647.3h0M784.7 315.7h0M662.8 375.3h0M325.1 315.3h0M685.7 375.6h0M365.6 786h0M915.6 134.1h0M504.1 773.2h0M565.6 363.3h0M443.7 352.9h0M485.3 745.6h0M337.4 845.5h0M492.4 362.8h0M754.2 495.6h0M574.8 454.2h0M404 417.3h0M473.8 775.7h0M404.5 437.4h0M647.2 607.7h0M357 436.2h0M725.8 424.7h0M754.4 383h0M882.4 117.3h0M704.8 505.6h0M605.8 402.5h0M635.3 434.8h0M395.5 705.6h0M636.2 383.7h0M972.7 283.8h0M734.1 504.9h0M705.2 454.1h0M357.7 705.1h0M654.8 374.2h0M324.5 845.5h0M755.8 424.4h0M933.8 283.7h0M344.4 624.4h0M564.8 425.8h0M495 404.6h0M654.2 516h0M724.3 445h0M505.6 295.3h0M575.3 755.7h0M475.2 332.7h0M477.7 576.8h0M456.5 724h0M942.1 227.6h0M693.9 567.8h0M725.4 404.6h0M546.2 673.5h0M783.5 437.4h0M645 384.1h0M784.5 383.3h0M605.4 425.2h0M723.5 392.8h0M524.6 584.2h0M657.9 586.8h0M972.6 223.1h0M834.7 205.4h0M703.5 357h0M365.7 405.3h0M436.1 723.8h0M626.8 393.5h0M544.9 406h0M862.9 332.6h0M622.9 425.1h0M735.4 534.6h0M616.3 443.9h0M424.9 703h0M393.6 645.3h0M757.2 425.6h0M583.1 714.7h0M742.5 485.6h0M724.6 414h0M537.2 344h0M534.4 312.9h0M625.3 385.6h0M734 532.4h0M835.4 383.5h0M325.8 394.6h0M737.1 386.4h0M455 725.6h0M406.8 654.2h0M786.8 234.9h0M734 374.2h0M615.7 425.1h0M776.2 455.6h0M584.4 394.8h0M504 604.7h0M705.9 484.3h0M827.9 273.8h0M346.4 782.6h0M527.1 425.1h0M656.9 375.9h0M504.3 374.5h0M612.8 395.1h0M424.2 664.9h0M574.8 784.7h0M344.3 605.2h0M782.2 277.1h0M725.4 505.1h0M835.6 435.3h0M774.7 437h0M846.6 415.6h0M405.4 475.2h0M712.3 347h0M505.8 424.7h0M884.3 374.8h0M553.7 426.9h0M323.7 314.3h0M444.3 355.5h0M684.5 537.1h0M587.4 732h0M805.4 465.1h0M884.5 163.8h0M682.1 562.9h0M535.6 355.1h0M432.3 625.1h0M724.2 364.7h0M583.9 336.1h0M814.6 444.8h0M524.5 786.3h0M806 425.3h0M473.6 382.8h0"/><path stroke="#25a386" d="M914.2 334.1h0M744.9 287.3h0M805.3 247h0M424.4 475h0M713 286.4h0M725.4 274.9h0M805.5 375.1h0M735.1 285.9h0M842.7 226.5h0M616.1 575.8h0M965.5 274.5h0M766.7 432.7h0M724.4 304.9h0M485.8 317h0M375.2 564.9h0M535 665h0M475.6 596.8h0M984.4 205h0M954.6 294.4h0M334 374.8h0M634.1 603.6h0M573.2 613.1h0M775 275.1h0M376.4 535.9h0M515.8 355.6h0M465.3 355h0M935.8 274.9h0M545 675.6h0M375 454.4h0M903 323.1h0M896 345.4h0M685.1 364.5h0M395.4 435.3h0M396 694.2h0M814.8 214.7h0M466 342.1h0M897.1 137.2h0M603.8 385.1h0M567.6 695.2h0M576.1 604.9h0M713.5 313.6h0M482.7 615.6h0M576.4 585.3h0M854.7 235.2h0M926.5 316.7h0M917.5 282.1h0M935.5 155.5h0M985.4 215.1h0M833.9 207.4h0M364.7 432.1h0M825.5 334h0M766.4 432.8h0M834 355.5h0M424.2 485.6h0M864.9 94.5h0M893.2 336.5h0M342.1 337.6h0M914.8 305h0M866.7 212.3h0M877.5 122.6h0M473 614.7h0M394.5 407.9h0M457.1 367.6h0M815.1 145.9h0M865.7 214.3h0M777.3 337.8h0M416.7 444h0M422.7 715.2h0M584.1 334.4h0M904.2 314.5h0M544.2 624.3h0M724.3 516.5h0M825.1 205.5h0M595.5 715.5h0M873.1 217.4h0M934.4 285.7h0M437.5 726.5h0M946.4 313.4h0M533.3 776.4h0M917.8 125.3h0M532.2 632.6h0M846.6 383.9h0M437.1 395.4h0M944.9 276.1h0M834.6 184.9h0M793.9 376.5h0M875.1 175.3h0M845 225.4h0M994.5 234.3h0M845.5 302.8h0M472.5 482.3h0M804.6 375.3h0M575.6 735.7h0M366.4 384.9h0M585.1 705.6h0M365.2 585.3h0M925 384.7h0M415.5 465.9h0M722.2 306.9h0M545.4 774.5h0M924.8 335.1h0M605.9 622.6h0M754.3 304.4h0M375.7 334.8h0M745.4 294.7h0M795.3 325h0M774.3 344.8h0M475.7 663.8h0M475.8 325.2h0M405.3 404.1h0M456.7 425.7h0M266.2 617.7h0M625.6 405.6h0M544.2 725.2h0M794.2 255.4h0M432.9 615.1h0M555.8 713.3h0M786.4 347.2h0M394.1 535.8h0M742.1 542h0M726.5 326.7h0M594.5 614.8h0M954.2 324.6h0M504.4 692.4h0M865.1 173.8h0M694.4 285.3h0M542.9 684h0M797.8 196.4h0M764.9 235.8h0M853.3 372.8h0M464.2 336h0M924.6 137h0M344 303.5h0M584.5 626h0M955.7 254.6h0M405 685.2h0M826.7 392.9h0M813 394.7h0M385.4 454.2h0M565.5 665h0M464.8 394.7h0M496.8 807.6h0M434.2 664.9h0M367.9 572.9h0M334.5 373.2h0M464.1 325.1h0M933.5 322.2h0M314.9 584.3h0M832.7 414h0M774.6 345.4h0M483 617.9h0M777.9 273.5h0M482 684.3h0M573.9 706h0M973.6 273h0M965.6 204.8h0M743.3 325h0M924.8 193h0M835.7 364.2h0M747.5 342.2h0M756.5 337h0M915.1 205h0M927.1 135.6h0M365.1 325.8h0M847.2 146.5h0M454 425.1h0M915.1 212.1h0M505 792.3h0M616.5 576.3h0M336.7 345.4h0M475.2 605.6h0M904.3 205h0M915 264.1h0M907.5 206.7h0M933 212.4h0M896.5 353.7h0M402.4 445.5h0M675.3 364.5h0M406.9 722.7h0M414.6 395.9h0M876.8 147.1h0M987.5 264.6h0M547.1 737.8h0M345.3 304.9h0M836 374.2h0M504.7 704.9h0M937.8 277.8h0M422.1 455.3h0M475.2 334.1h0M924.5 375.6h0M884.7 325h0M834.4 275.8h0M826.2 175.4h0M526 764.8h0M578 422.1h0M532.9 627.8h0M933.5 266.1h0M572.7 587.3h0M746.4 266.3h0M682.4 356.2h0M584.7 715.8h0M793.9 372.5h0M497.1 815.6h0M943.4 326.9h0M706.4 296.9h0M494.6 624.2h0M375.1 435.1h0M752.7 363.7h0M415.5 404.1h0M582.6 575.1h0M584.8 722.6h0M633.4 616.7h0M854.8 385.5h0M542.9 645.1h0M912.8 195.6h0M394.5 455h0M886.6 385.7h0M665.4 564.5h0M526.8 777.1h0M392.9 414.2h0M844.1 145.6h0M835.8 144.6h0M595.9 594.4h0M935.2 146.7h0M544.3 702.7h0M816.5 256h0M335.6 566.8h0M475.9 596.9h0M793.8 334h0M425.3 714.5h0M803.6 363.4h0M955.3 215.4h0"/><path stroke="#6ccd5a" d="M384.2 294.1h0M404.3 294h0M507.3 696.9h0M843.7 264.2h0M425.6 375.2h0M515.9 713.2h0M894.7 122.9h0M814.7 232.2h0M425.9 396h0M564.6 705.4h0M605.5 605.9h0M604.3 612.3h0M397.7 286.6h0M735.3 252.2h0M584.5 644.3h0M534.1 594.6h0M474.3 813.3h0M735.9 255.9h0M445.5 302.5h0M434.4 674.9h0M427 332.6h0M315.8 574.7h0"/><path stroke="#2e768e" d="M614.8 366h0M345.4 667.2h0M575.4 724.1h0M687.2 295.6h0M337.7 842.6h0M594.8 564.3h0M505.7 534.2h0M622.3 442.7h0M536.6 456.5h0M685.9 502.1h0M635.3 464.3h0M375.5 795.8h0M357 673.2h0M535.7 432.2h0M323.4 637.1h0M444.8 644.7h0M537.4 765.8h0M375.8 664.9h0M494.2 454.5h0M563.9 327.5h0M836.9 292.8h0M505.3 585h0M385.2 754.8h0M434.8 526h0M446.2 666.9h0M672.9 487.3h0M496 385.6h0M526.1 533.7h0M447.8 653.9h0M595.2 577.6h0M365.6 714.9h0M745.6 465.8h0M494.2 455h0M652.8 385.6h0M556.8 524.8h0M764 523.6h0M843.9 415.2h0M524.4 385.4h0M494.5 454.8h0M675.6 393.2h0M657.7 547.8h0M825.6 263.8h0M514.6 504.9h0M443.1 644.1h0M324.6 705.2h0M357.2 812.1h0M336.9 383.4h0M383.8 612.7h0M922.5 145h0M492.2 576.7h0M665.2 487.5h0M394.1 665.6h0M527.4 544.2h0M423.5 647.4h0M384.6 685.4h0M414.2 415.6h0M347.9 655.7h0M382.9 706.2h0M483.3 577.6h0M492.8 296.6h0M447.7 637h0M605.9 422.9h0M783.9 486.4h0M383.4 756.3h0M472.6 367.3h0M595.6 466.3h0M715 355.4h0M535.5 435.7h0M604 474.2h0M683.2 567.6h0M375.5 654.8h0M715 465.8h0M574.5 512.3h0M424.5 637h0M633.3 465.9h0M345.9 706.1h0M735.8 513.7h0M452.1 472.8h0M327.1 395.8h0M375.5 635.4h0M484.6 595.4h0M712.2 557.8h0M806.4 404.5h0M342.6 617.2h0M665.3 524.7h0M347.8 607.4h0M765.1 326h0M343.5 765.8h0M395.6 394.5h0M765.3 472.3h0M893.2 375.7h0M755.9 346h0M645.1 474.9h0M495.8 524.6h0M542.5 745.6h0M537.8 432.3h0M713.6 392.2h0M713.3 482.6h0M362.9 663h0M653.4 455.1h0M593.8 452.4h0M675.9 544.4h0M484.8 363.1h0M384.1 664.1h0M496.4 566h0M645.6 556.5h0M372.2 776.7h0M784.1 484.7h0M422.5 623.6h0M465 765.8h0M946.7 196.5h0M332.4 815.2h0M584.3 385.1h0M555.4 502.9h0M813.2 284.4h0"/><path stroke="#e2e418" d="M573.7 633.3h0M575.5 635.1h0"/><path stroke="#b8de29" d="M432.4 335.7h0M425.7 347.8h0M535.4 424.9h0M533.8 424.9h0M415.9 326.1h0M836.2 443.3h0M515.5 675.5h0"/><path stroke="#25a386" d="M965.7 295.6h0M856 334.3h0M943.7 237.3h0M757.8 512.2h0M845.4 355.8h0M935.3 134.2h0M845.5 175.8h0M465.6 365.7h0M335.1 375.1h0M486.3 627.5h0M874.7 164.5h0M744.5 346.8h0M824.1 174.1h0M383.1 552.9h0M544.7 704.7h0M733 274.2h0M494.7 433.1h0M534.2 624.7h0M324.1 355.1h0M365.3 375.8h0M364.3 343h0M525.4 686.2h0M697 316.2h0M924.9 315.5h0M582.1 582.2h0M324.7 577.3h0M514.8 738h0M777.2 293.9h0M615.4 614.3h0M894 325.6h0M373.4 377.7h0M607.7 353.5h0M812.8 274.1h0M385 405.6h0M945.3 205.2h0M804.8 254.7h0M866 225h0M513.7 705.3h0M833.5 153.1h0M957.5 327.4h0M725.4 263h0M367.5 343.4h0M404.9 282.4h0M606.9 412.7h0M844.2 245.3h0M785.2 195.5h0M455.6 324.4h0M724.7 285.5h0M463.6 348h0M494 334.8h0M455.4 334.3h0M783.5 377.3h0M535.8 675h0M944.4 314.8h0M584.7 595.1h0M944.9 304.3h0M825.2 177.6h0M775.1 194.8h0M985.9 266h0M484.3 782.6h0M895.6 344.4h0M562.1 335h0M472 606.6h0M495.9 784.7h0M565.7 506h0M804.7 394.1h0M517.4 656.4h0M855.2 334.1h0M374.4 565.6h0M345 564.5h0M485.7 814.1h0M944.8 234.1h0M524.6 675.7h0M617.7 592.2h0M726.7 445.9h0M494.7 794.6h0M375.3 406.6h0M404.8 482.4h0M933.6 326.9h0M475.8 606.8h0M355 572.1h0M557.7 755.4h0M845.8 384.3h0M843.8 155.8h0M333.7 343.3h0M374.9 324.6h0M783 393h0M272.6 605.8h0M854.8 105.6h0M744.3 344.4h0M935.9 225.7h0M863.5 137.4h0M432.9 614.5h0M704.3 284.4h0M854.3 385.7h0M806.6 414.3h0M586.6 627.3h0M864.6 106.5h0M765.6 343.2h0M855.8 176.6h0M554.4 655.9h0M866.6 106.7h0M574.4 605.2h0M604.3 635.4h0M604.4 375.5h0M693 442.6h0M483.1 436.4h0M333.1 566h0M845.1 235.9h0M784.9 297.8h0M573.7 427.2h0M736.6 395.1h0M864.9 115.2h0M794.3 294.9h0M757.6 377.2h0M834.5 335.9h0M533.4 617.9h0M744.6 304.7h0M513.8 766.3h0M555.8 734.9h0M544.2 725h0M445.5 324.6h0M765.6 455.6h0M965 267.2h0M875.4 124.3h0M923.5 204.1h0M984.8 244.7h0M884.9 145h0M764.8 246.3h0M484.4 725.4h0M592.1 667.9h0M915.2 215h0M855.1 396.2h0M755.9 332.7h0M864.8 344.2h0M536 586.4h0M818 263h0M504.5 714.2h0M714.1 284.7h0M493.2 323.9h0M473.7 506.3h0M905.8 135.4h0M375.9 534.9h0M773.8 363.8h0M544.2 665.2h0M462.6 305.8h0M455.1 744.3h0M567.1 636.4h0M716.9 417.3h0M375.4 405.6h0M954.7 225.2h0M702.2 335.1h0M364.5 336h0M922.7 306.8h0M386.4 564.7h0M774.2 355.2h0M563.5 427.2h0M535.5 667h0M344.5 384h0M875.3 374h0M754.7 376.6h0M694.3 416.2h0M324.7 855.4h0M496.3 766.4h0M875.4 117.2h0M905.7 294.4h0M863.8 115.6h0M456 327.9h0M745.9 274h0M463.6 335.7h0M885 122.2h0M334.9 394.6h0M857.8 365.3h0M434.4 724.3h0M482.3 316.1h0M567.3 733h0M405.3 444.5h0M376.2 443.6h0M736 277.4h0M364.7 415.8h0M924.7 235.5h0M524.6 764.4h0M395.4 444.3h0M387.1 333.7h0M784.3 192.3h0M707.6 346.3h0M397 694.3h0M453.5 495.6h0M493.2 666.7h0M565.6 502.3h0M493.6 782.1h0M614.6 448h0M844.7 324.3h0M943.2 336.5h0M503.7 782.1h0M556.4 653h0M506.6 704.8h0M976 233.1h0M915.2 263.6h0M377.9 333.3h0M605.3 354.8h0M487.3 407.2h0M807 383.4h0M854.7 134.7h0M945.7 155.3h0M552.7 702.3h0M514.8 305h0M342.1 824.4h0M375.8 574.4h0M345.3 364.7h0M505.5 755h0M985.4 185h0M467.2 744.2h0M854.6 324.8h0M653 474.2h0M563.3 726.3h0M704.2 304.9h0M365.3 344.1h0M354.3 335h0"/><path stroke="#6ccd5a" d="M365.4 455.9h0M512.4 723.6h0M483.1 417.6h0M794.5 212.9h0M443.1 376.1h0M427.2 356.3h0M873.4 323.5h0M485.7 715.1h0M385.8 285.1h0M504.5 645.6h0M385.2 545.4h0M605.4 645.4h0M387.8 547.3h0M583.1 646.7h0M372.3 283.1h0M572.8 662.8h0M514.9 715h0M542.5 573.8h0M533.7 593.5h0M412.5 694.4h0M504.2 816.4h0M445 476.1h0M374.4 285.4h0M552.3 693.2h0M735.2 255.6h0M445.5 294.7h0M952.5 365.2h0M445.2 507.4h0M407.1 682.4h0"/><path stroke="#e2e418" d="M397.8 316.5h0M533.8 694h0"/><path stroke="#3cbb75" d="M583.3 352.8h0M797.9 292.2h0M494 683.5h0M424.2 314.9h0M603.2 574.6h0M945.6 357.3h0M515.3 707.9h0M982.3 276.1h0M602.3 583.1h0M514.3 803h0M917.8 294.5h0M475.7 443.9h0M406.2 403.7h0M306.5 385.2h0M754.9 314.8h0M886.7 133.6h0M363.1 423.1h0M584.4 635.3h0M416 284.6h0M494 774.7h0M527.3 632.9h0M806.3 215.6h0M565.4 745.1h0M564.7 635.6h0M704.3 327.2h0M367.2 373.8h0M784.1 334.8h0M444.7 312.3h0M456.3 417.3h0M527.5 676.6h0M585.9 605.3h0M567 722.4h0M815.3 244.2h0M986.4 186.3h0M474.6 465.3h0M462.3 802.2h0M785.4 297.8h0M585.3 725.4h0M307 384.3h0M407.8 695.6h0M364.8 455.9h0M505.4 682.5h0M926.9 297.9h0M452.3 404.3h0M787.9 192h0M435.7 695.9h0M575.9 626.2h0M464.8 655.2h0M493.1 675.9h0M755.5 215.7h0M814.7 235.5h0M515.6 804.3h0M583.3 637.6h0M925.2 344.3h0M472.3 294.4h0M445.9 374.2h0M495.7 814.4h0M464.5 486h0M426.3 325.6h0M594.1 586.2h0M595.1 622.7h0M424.8 407.7h0M746.5 517.8h0M327.8 326.9h0M874.6 322.5h0M555 684.5h0M436.9 322.4h0M564.7 715.2h0M537 704h0"/><path stroke="#b8de29" d="M405.9 304.2h0M834.9 445.6h0M507.5 663h0M392.8 292.2h0M423.9 286.7h0"/><path stroke="#3b528b" d="M333.2 713.8h0M486.3 373.3h0M683.1 514.6h0M517 394.3h0M536.7 454.7h0M384.9 746.8h0M856 405.5h0M634.5 557.6h0M744.2 333.8h0M955.2 202.2h0M634 554.9h0M534.3 484.7h0M522 485h0M516.6 544.5h0M395 634.7h0M614.2 525.1h0M365 655.9h0M614.4 524.7h0M677.3 542.7h0M367.3 643.3h0M627 537.1h0M544.7 513.9h0M587.8 464.9h0M575.9 564.7h0M364.4 605.3h0M337 646.6h0M592.9 536.3h0M512.9 432.4h0M334.8 594.6h0M484.4 566h0M374.4 745.1h0M867.9 182.2h0M715.1 424.8h0M555.5 494.5h0M566.7 645h0M377.9 753.4h0M535 504.5h0M382.9 616.4h0M617 526.6h0M504.2 514.2h0M535.2 447.5h0M374.1 755.9h0M524.8 407.5h0M534.6 474.5h0M347.8 676.7h0M657.1 525.9h0M737.7 464.6h0"/><path stroke="#27938b" d="M324.2 384.3h0M784.4 304.9h0M543.9 332h0M453.5 635.9h0M624.3 406.8h0M587.4 477h0M684.3 464.7h0M343.5 866.1h0M646.6 462.3h0M755.1 367.6h0M386.5 657.6h0M345.4 324h0M665 565.1h0M824.6 203.5h0M596.6 653.9h0M734.4 427.8h0M567.5 356.8h0M595.2 685h0M823.8 232.2h0M874.5 125.6h0M534.6 585.9h0M864.9 394.9h0M725.7 434.4h0M736.9 313.3h0M546.8 376h0M524.6 414.1h0M272.2 615.2h0M824.6 285.4h0M565.1 386.3h0M556.5 324.5h0M494.6 766.7h0M566.4 397.8h0M686 434.2h0M765.2 404.5h0M724.4 384.3h0M585.5 445.6h0M505 332.9h0M555.2 775.1h0M965.3 255h0M694.9 514.1h0M464.2 635.7h0M423 632.8h0M584.4 434.3h0M456.3 732.5h0M665.6 424.3h0M677.4 375.9h0M354.1 412.8h0M315 624.2h0M605.1 415.2h0M494.4 463.7h0M597.6 685.6h0M654 395.9h0M665.4 445.7h0M615.6 414.6h0M872.9 383h0M654.6 486.3h0M624.9 415.5h0M564.7 583.5h0M515.1 794.1h0M614.7 414.9h0M374.7 324.2h0M565.8 757.3h0M295.4 603.9h0M375.6 346h0M674.7 385.3h0M395.7 734.8h0M395.9 786.8h0M284.2 605h0M833.2 215.9h0M345.8 835.1h0M603.5 406.4h0M495.1 365.3h0M376.9 577.9h0M504.1 324.1h0M644.1 574.4h0M813.4 302.3h0M353.4 614.8h0M724.4 334.4h0M804.6 385.2h0M375.9 346.6h0M765.2 485.7h0M405.7 674.1h0M356.4 716.3h0M542.8 315.7h0M534.2 797h0M414.4 645.7h0M344.3 855.9h0M503.9 604.2h0M685.5 437.8h0M942.1 355h0M545.8 794.9h0M734.2 427.2h0M544.9 624.4h0M864.5 385.3h0M393.8 753h0M736.8 522.2h0M745.5 494.7h0M885 375.4h0M785.9 444.8h0M717.1 364.7h0M774.7 385h0M772.5 295.4h0M462.7 632.1h0M684.7 505.8h0M685 524.8h0M594.7 405.3h0M652.5 415.3h0M513.2 327.1h0M532.4 317h0M385.5 775.8h0M576 537.9h0M775.4 354.5h0M335.3 305.7h0M764.4 327.8h0M735.8 394.2h0M803.8 347.9h0M665.4 445.1h0M684.5 485.9h0M573.7 753.5h0M924.6 212.2h0M486.1 754.7h0M586.5 423.3h0M383.7 593.7h0M447.8 627.5h0M837.8 427.6h0M277.4 616.1h0M686 395.8h0M837.2 303.3h0M387.9 416.3h0M353.4 574h0M645 384.9h0M696 573.1h0M465.3 722.1h0M664.8 594.9h0M795.4 435h0M804.8 455.4h0M682.9 452.8h0M775.2 434.8h0M835 424.1h0M403.3 457.5h0M495.5 473.5h0M536.8 647.7h0M707.7 427h0M415.1 486.3h0M746.2 547.1h0M285.6 625.2h0M744.4 424.8h0M525.1 417.3h0M604.4 392h0M947.1 214.5h0M405.8 665.1h0M854.3 192.2h0M553.4 354.8h0M742.3 494.4h0M392.1 685.1h0M544.5 432.7h0M587.4 447.3h0M906.1 197.7h0M772.1 384.7h0M812.7 433.2h0M594.8 404.3h0M494.1 374.1h0M784.5 492.6h0M845.4 304.3h0M822.5 194.9h0M547.7 344.7h0M714.8 394.7h0M534.2 383.3h0M713.7 414.8h0M675.5 503.2h0M615.8 464.8h0M504 355.7h0M534.4 325.3h0M343.9 596.7h0M524.7 295.4h0M786.1 405.4h0M333.7 837.6h0M384 386.5h0M535.7 805.5h0M835.1 162.6h0M812.5 146.1h0M485 764.1h0M633 395.1h0M697.3 492.3h0M694.7 385.8h0M364 323.3h0M636.3 454.5h0M415.6 453.6h0M574 566.2h0M843.9 397.4h0M477.8 407.3h0M354.9 384.9h0M468 597.7h0M704.8 435.5h0M525.7 584h0M704.9 452.6h0M612.6 377.4h0M884.1 346.7h0M653.2 445h0M585 416.7h0M525.8 725h0M416.5 396.4h0M794.6 436.5h0M665.2 514.9h0M815.5 435.9h0M742.7 394.1h0M805.9 344.5h0M355.1 705h0M544.2 805.6h0M596.8 663h0M676.9 372.8h0M764.6 374.6h0M696.8 504.6h0M735.8 393.7h0"/><path stroke="#2e768e" d="M383.9 772.5h0M295.2 632.1h0M524.1 565.4h0M534.8 395.7h0M385.3 705.4h0M727.9 316.2h0M366.4 747.4h0M424 614.2h0M395.6 625.6h0M354.2 606h0M907 365.9h0M555.4 535.1h0M682.8 387.4h0M784 475.6h0M444.6 632.5h0M364.8 775.5h0M575.1 555.2h0M835.4 215.1h0M386.6 674.8h0M325.1 695h0M327.7 615.2h0M367.4 676.2h0M527.7 526.1h0M477 742.3h0M556.6 343.3h0M765.4 427.1h0M926.2 285.2h0M817.1 444.5h0M366.9 616h0M566.5 554.7h0M517.9 746.7h0M367.2 703.6h0M693.3 516.3h0M512.1 445.6h0M514.8 344.2h0M655.2 533.2h0M575.2 565.3h0M352.2 663.9h0M514.2 445.1h0M525.9 375.3h0M472.8 427.8h0M578 507.9h0M353 683.8h0M512.1 403.4h0M833.4 235.6h0M517.2 342.2h0M324.3 312.4h0M683.3 542.4h0M545.3 534.4h0M545.2 565.4h0M505.7 444.2h0M344.5 684.6h0M494.2 528h0M895.6 373.1h0M445.7 675h0M444.1 625.3h0M355.7 823.5h0M532.3 557.3h0M404.2 754.2h0M566 554h0M366.2 727.1h0M445.6 634.1h0M364.2 822.1h0M315.1 396h0M515.9 508h0M536.9 524.6h0M343.7 666.6h0M385 654.5h0M655.9 535.2h0M326.6 696.5h0M374.5 664.2h0M794.2 263.3h0M605.6 546.1h0M495.6 296.5h0M387.6 605.6h0M504.7 447.7h0M426 645.4h0M952.6 192.9h0M423.6 604.7h0M406.4 734.8h0M594.1 395.4h0M555.7 662.8h0M375.9 605.6h0M383.4 645.4h0M374 625.1h0M695 365.3h0M484.9 574.1h0M514.3 565.9h0M623.1 435.4h0M564.9 476.5h0M837.6 402.5h0M734.6 454.8h0M362.6 597.2h0M407.8 645.6h0M387.1 645.3h0M736 475.2h0M392.7 773.7h0M435.8 704.2h0M626 395.4h0M434.1 647.3h0M535.7 545.6h0M495.7 584.7h0M573.7 722.4h0M904.7 365h0M514.1 433.7h0M372.4 682.9h0M324.3 604.7h0M375.3 614.7h0M755.3 344.3h0M526 555.5h0M347.9 804.6h0M936.7 385.2h0M384.1 735.4h0M495 515h0M535.2 454.9h0M505.9 555.8h0M793.3 453.4h0"/><path stroke="#46307e" d="M587.7 514.1h0M504.1 564h0M542.3 527.4h0M544.1 504.8h0M505 383.7h0M525.4 315.7h0M722.7 475.1h0M563.1 443.6h0M606.2 553.2h0M582.9 537.6h0M363 795.5h0M495 412.9h0M794.1 423h0M548 462.2h0M343.7 633.4h0M635.6 442.7h0M604 445.3h0M644.7 534h0"/><path stroke="#2e768e" d="M392.8 727.8h0M526.4 534.3h0M374.2 642.4h0M313.7 865.4h0M436.9 644.9h0M557.1 807.3h0M367.9 703.6h0M337.9 302.7h0M715.2 495.2h0M416.5 417.6h0M314 397.6h0M425.9 625.3h0M545.1 315.7h0M354.7 776.3h0M475.1 543h0M393.8 656h0M384.4 635.5h0M374.1 645.7h0M585.8 524.2h0M494.1 546.6h0M415.5 624.4h0M522.6 392.2h0M357.6 764.3h0M494.5 615.6h0M353 645h0M514.6 524.6h0M412.1 735.3h0M355.9 774.6h0M344.4 584h0M525.9 386.4h0M735.5 405.7h0M527 515.3h0M374.2 652.7h0M705.7 495.6h0M375.3 674.8h0M606.9 453.8h0M803.2 444.6h0M365.5 695.8h0M384.7 715.1h0M515 745.8h0M565.2 334h0M846 406.5h0M417.1 538h0M623.5 442.8h0M454.3 735.6h0M436.1 706.4h0M594.6 465.9h0M527.1 432.9h0M325.5 603.8h0M484.5 457.8h0M375.4 633.8h0M508 405.4h0M566 454.2h0M847.6 402.9h0M463.6 757.9h0M624.1 554.1h0M354.3 754.7h0M414.5 735.6h0M665.9 544.4h0M784.6 392.8h0M385.6 784.7h0M554.3 477.8h0M586.4 554.6h0M514.1 384.3h0M945.8 193.6h0M623.7 565.8h0M335.3 386h0M697.3 493.3h0M567.7 565.6h0M474.5 735.4h0M334.4 655.7h0M482.2 276h0M562.1 364.3h0M732.4 366.5h0M754.8 403h0M405.2 464.2h0M837.2 216.9h0M715.9 467.2h0M925 265.2h0M595.6 505.2h0M515.1 544.6h0M656.9 546h0M585.6 733.2h0M515.6 566.2h0M343.8 572.5h0M684.7 554.2h0M506.4 545.6h0M374.2 787.3h0M524.2 465.3h0M524.8 394.6h0M515.4 745.2h0M655.6 524.8h0M472.1 562.5h0M475.3 545.1h0M373.1 694.7h0M354.5 644.7h0M515.6 515.6h0M385.5 715.5h0M484.3 594.3h0M355.2 785.5h0M502.1 297h0M505.5 767.9h0M322.5 707.4h0M377.7 642.3h0M534.9 463.9h0M414.4 725.4h0M424.6 535.5h0M747 463.5h0M756.5 483.3h0M524.7 462.7h0M334.8 314.2h0M594.2 446.3h0M555.3 554.4h0M562.6 373.9h0M357.3 647.4h0M505.7 544.3h0M354 654.3h0M984.6 225.2h0M485.3 375.5h0M933 383.6h0M564.4 474.2h0M334.3 685.7h0M687.7 557.9h0M712.9 508h0M553.1 516.8h0M313 397.5h0M396.7 677.2h0M417.9 633.4h0M596.9 393.7h0M336.3 814.9h0M645.8 474.9h0M545.9 437h0M393.7 785.8h0M755.5 474.4h0M553 374.3h0M375.7 705.7h0M596.9 525.1h0M367.2 694.9h0M555.2 386.6h0M596.3 465.8h0M492.2 584.4h0M775.2 484h0M772.4 482.5h0M554.6 332.4h0M594.2 454.4h0M524.7 455.2h0M727.4 316.1h0M755.2 446.6h0M553.3 556.1h0M554.5 494.8h0M726.1 374.8h0M494.3 565.1h0M504.7 765.5h0M546.3 385.8h0M565.9 393.4h0M534.2 555h0M384.6 733.9h0M695.8 556.1h0M684.8 294.8h0M542.9 454.7h0M817.2 302.2h0"/><path stroke="#e2e418" d="M507.4 655.2h0M537.6 426.8h0"/><path stroke="#3cbb75" d="M424.1 437h0M325.2 326.1h0M914.9 304.8h0M997 224.1h0M993.7 212.7h0M506.1 807.1h0M505.3 747.9h0M562.3 772.5h0M426 445.1h0M474.3 815.4h0M556.4 646.1h0M465.7 654h0M587.9 595.9h0M752.3 224h0M372.8 574.2h0M506.9 726.6h0M354.5 426.7h0M432.8 695.3h0M934.9 356.1h0M995.1 222.5h0M945.8 144.7h0M844.9 182.6h0M433 293.7h0M904.2 136.7h0M455.5 414.8h0M856.7 105.2h0M533.5 593.3h0M605.8 614.2h0M454.3 404.3h0M405.5 284.4h0M703.9 306.9h0M967.2 243.1h0M413.2 304.3h0M815.5 225.5h0M464.5 813.1h0M565.8 725h0M804 226.6h0M747.8 292.6h0M936.6 135h0M297.2 595.8h0M514.2 695.4h0M445.1 407.7h0M948 227h0M846 373.5h0M403.5 275h0M524.8 734.8h0M936.8 357.1h0M436.7 322.1h0M824.4 223.4h0M446.7 424.9h0M906.6 292.8h0M367.5 542.8h0M755.9 214.2h0M717.4 276.6h0M693.9 295.3h0M544.2 717.1h0M452.7 415.2h0M776.1 253.4h0M853 363.6h0M414.6 405h0M826 345.5h0M592.6 622.6h0M325.3 335h0M843.4 336h0M754.1 315.2h0M734.3 295h0M294.4 597.3h0M794.6 214.2h0M836.5 255h0"/><path stroke="#b8de29" d="M507.6 643.5h0M426.6 285.3h0M506.1 663.4h0M306.1 353.8h0"/><path stroke="#3b528b" d="M718 424.4h0M545.8 482.1h0M345.3 714.1h0M664.5 534.7h0M854.6 402.3h0M625.1 524.6h0M364 642.1h0M612.5 535.5h0M556.5 442.3h0M516.4 526.7h0M602.7 453.5h0M545 475.7h0M403.9 634.3h0M513.9 496h0M534.1 475.7h0M594.1 443.1h0M404.6 614h0M366 657.8h0M366.5 604.4h0M533.9 514.3h0M535.6 503.8h0M394.8 617.5h0M554.4 485.6h0M485.8 564.5h0M503.4 485.2h0M583.4 557.8h0M335.8 633.3h0M347.1 715.7h0M555.6 375.4h0M407.9 623.6h0M375.3 674.9h0M852.5 403.6h0M623.6 537.2h0M332.8 654.2h0M734.2 465.8h0M546.4 544h0M836.5 287.6h0M555.5 334.5h0M332.5 697h0M614.8 534.7h0"/><path stroke="#46307e" d="M794.1 424.3h0M405.8 635.5h0M613.9 542.8h0M616.3 513.3h0M603.1 444.8h0M507.4 382.9h0M495.6 412.2h0M723.5 483.4h0"/><path stroke="#25a386" d="M924.9 155.1h0M483.4 286.5h0M906.8 134.8h0M376.9 414.6h0M617 615.9h0M826 294.4h0M395.2 437.4h0M383 467.4h0M793.8 222.5h0M415.2 343.9h0M687.8 352.7h0M904.2 274.3h0M696.5 343.4h0M354.4 575.3h0M795.6 345.6h0M615.5 605.6h0M475.2 656.3h0M385.2 555.8h0M582.4 593.4h0M432.5 303.6h0M415.6 455.6h0M846.3 324.7h0M784.8 206.6h0M362.9 317.9h0M897.5 366.4h0M577.6 746.9h0M424.5 714.1h0M936.3 235.6h0M904.6 354h0M576.1 592.2h0M357 405.2h0M352 584.5h0M914.6 284.5h0M815.8 254.4h0M574.3 716.1h0M414.9 313.2h0M686.7 496.3h0M745.6 275.9h0M608 363.8h0M773.3 277.3h0M755.7 235.9h0M934.9 266h0M904.9 324h0M695.8 455.5h0M385 414.4h0M775.6 326.8h0M865 324.7h0M492.9 317.2h0M484 614.7h0M365.2 384.9h0M872.3 345.7h0M833.5 306.5h0M532.1 615.1h0M586 352.2h0M716 292.9h0M957.2 294h0M537.9 783.9h0M492.3 353.6h0M834.6 143.8h0M295.8 624.1h0M865.5 134.8h0M525.4 754h0M813.6 212h0M454.7 384.8h0M904.3 144h0M745.2 317.6h0M774 315h0M705.9 294.2h0M474.4 582.1h0M874.3 145.1h0M572.6 653.9h0M705 325.9h0M494.2 304.7h0M835.1 366.8h0M835.4 155.7h0M562.9 684.8h0M824.4 164h0M472.7 482.9h0M476.3 616.6h0M565.9 695.5h0M934.6 314.6h0M764.4 306.3h0M785.3 204.3h0M355.4 336.7h0M774.8 304.5h0M876.5 374h0M477.5 353.4h0M902.3 325.8h0M925.9 195.1h0M354.2 374.1h0M474.2 497.6h0M826 146h0M322.4 384h0M792.5 256.5h0M514.5 294.8h0M525.9 745.7h0M347.5 324.7h0M824.7 145.8h0M792.5 324.4h0M865.5 195.3h0M524.9 754.8h0M823.1 214.8h0M544.3 655.8h0M645.8 595.6h0M864.1 315.9h0M334.3 564.1h0M715.2 274.5h0M704.5 335.9h0M653.3 467.2h0M856 122.9h0M574 745.8h0M784.9 294.2h0M544.3 624h0M354.6 363.5h0M374.9 584.4h0M867.2 216.2h0M865.4 336.3h0M362.6 362.9h0M697.8 306.6h0M426.3 497.5h0M594.1 665.2h0M937.2 317.4h0M535.7 724h0M375.6 397.1h0M385.8 464.2h0M934.2 292.3h0M365.2 335.2h0M574.3 594.2h0M585.4 704.7h0M855.8 237.9h0M753.7 354.6h0M637.2 592.7h0M613.2 592.4h0M596 604.3h0M862.4 127.9h0M583.3 365.4h0M767.9 395.4h0M962.3 257h0M825.7 423.9h0M935.8 325h0M734.6 265.1h0M685.1 303.3h0M475.4 295.8h0M914 344.4h0M707.1 275.7h0M943.7 365.1h0M316.4 583.5h0M446 362.6h0M524.1 614.9h0M464.4 504.1h0M495.4 703.7h0M794.7 335.3h0M615.1 594.7h0M795.5 322.8h0M412.7 676.9h0M727.4 285.2h0M902.2 286.9h0M513.4 625.6h0M955.1 322.9h0M473.5 504.3h0M544.9 602h0M875.9 115.7h0M495.5 355.5h0M805.5 356h0M925.8 305h0M475.8 485.7h0M365.7 545.9h0M793.5 253h0M925.3 366.5h0M705.9 314.7h0M765.2 365.7h0M517.9 622.1h0M693 576.9h0M954.8 237h0M846.7 317.3h0M456.9 314.2h0M535.9 755.1h0M804.2 395h0M762.4 354.1h0M934.1 305.8h0M495.8 314.9h0M744.8 367.8h0M727.4 397.3h0M884.2 125.2h0M784.7 344.4h0M898 155.5h0M496.6 406.1h0M796 365.5h0M386.4 423.2h0M935.5 264.3h0M364.6 542.6h0M994.6 206.9h0M354.1 412.4h0M895.1 335.3h0M386.2 427.8h0M882.7 366.3h0M854 224.1h0M845.6 345.8h0M634.5 585.4h0M412.9 386.4h0M656.2 427h0M324.7 574.8h0M734.2 315.2h0M864.4 343.7h0M945.3 152.3h0M634.4 575.5h0M354.9 365.3h0M395.1 537.2h0M644.8 594.9h0M796 197.5h0M795.9 224.4h0M592.4 714.5h0M574.6 743.8h0M414.6 347h0M696 303h0M444 335.9h0M583.3 344.1h0M804.5 274.6h0M986.5 233.4h0M346.5 563.9h0M535.1 757.2h0"/><path stroke="#6ccd5a" d="M435.4 682.1h0M485.9 714.4h0M547.6 575.3h0M402 702.8h0M445.4 425.3h0M435.1 365.3h0M426.1 312.3h0M492.8 432.1h0M384.1 265.9h0M412.3 357.7h0M413.7 694.8h0M567.4 716.2h0M414.2 355.4h0M516.7 716.7h0M557 724.3h0M423.2 344.9h0M505.1 635.8h0M666.8 554.2h0M387.8 263.3h0M544.5 574.4h0M496.2 717.9h0"/><path stroke="#27938b" d="M685.7 544.1h0M654.5 515.4h0M767.2 373.4h0M435.4 624.8h0M415 462.8h0M544.6 447.9h0M395.8 754.6h0M705.6 355.1h0M935.2 374.8h0M614.5 565.3h0M685.6 575.9h0M574.8 375.5h0M505.6 404.3h0M685.7 495.7h0M345.8 764h0M436.8 497.9h0M347.9 862.1h0M926.6 384h0M362.2 403.3h0M485 754.2h0M325.3 834.7h0M732.6 535h0M664.2 594.6h0M634.8 425.2h0M716.2 393.2h0M824.5 325.2h0M703.5 427.4h0M476.7 723.8h0M923.1 146.2h0M754.7 454.3h0M595.1 502.5h0M535.8 334.8h0M525.6 726.3h0M655.4 374.7h0M487.7 397.4h0M585 584.5h0M923.4 285.6h0M692.4 375.3h0M515.1 377.1h0M804.4 423.2h0M714.2 504.8h0M774.9 374.9h0M557.2 352.8h0M374.2 805.9h0M555.7 785.2h0M365.6 567.7h0M516 426.3h0M517.5 774.8h0M562.2 428h0M764.9 434.9h0M753.2 496.8h0M725 374.7h0M765.5 514.4h0M575.8 465.2h0M334.8 834.6h0M562.5 405.3h0M625.3 426.7h0M473.3 756.9h0M646.9 423.7h0M713.8 547.9h0M685.6 535.9h0M325.9 824.9h0M554.7 434.3h0M335.4 795.1h0M535.9 795.6h0M835.1 204.3h0M702.6 413.3h0M535.6 805.2h0M495.9 465.1h0M504.2 454.6h0M782.1 308h0M665.9 374.5h0M324.3 614.5h0M654.7 555.9h0M645.6 554.4h0M576.7 387.1h0M804 454h0M725.6 344.2h0M645.3 465h0M834.9 385.1h0M504.3 582.5h0M915.1 135.6h0M475.3 385.1h0M412.5 666.5h0M762.5 224.6h0M505.1 396.1h0M625.7 574.5h0M635.7 378h0M475.8 585.2h0M576.2 432.7h0M834.9 154.8h0M705.3 465.6h0M917.1 264.4h0M574.1 434.8h0M875.9 382.7h0M873.6 392.9h0M602.5 374.1h0M485.6 294.8h0M657.2 435.7h0M495 445.6h0M475.6 634.2h0M908 125.7h0M554.4 574.8h0M884.8 146.5h0M687.8 574.4h0M786.4 226.6h0M665.3 485.3h0M705.3 476.2h0M335.2 785.4h0M625.9 374.2h0M734.2 343.4h0M525.3 414.7h0M574.5 774.9h0M707.8 556.6h0M844 394.1h0M704.9 566.5h0M492.4 795.5h0M937.1 365.5h0M534.9 514.5h0M404.2 674.7h0M665.1 503.2h0M385.2 764.7h0M364.3 814.4h0M654.1 475.9h0M343.7 813.7h0M665.1 373.2h0M734.8 332.4h0M506.9 432h0M776 425.1h0M693.1 472.2h0M765.9 412.9h0M552.7 327.1h0M714.1 547.8h0M655.5 555.8h0M827.7 152.9h0M724.1 354.1h0M686.1 527h0M533.3 644.2h0M976.4 237.5h0M354.4 623.2h0M527.9 495.3h0M495.9 474.1h0M472.9 586.8h0M653.2 485h0M775.1 465.2h0M492.2 363.1h0M717.5 345.1h0M625 384.3h0M407.3 425.4h0M476.5 406.2h0M814.1 414.8h0M652.9 573.3h0M755.8 434.2h0M785.9 395.5h0M462.7 734.9h0M775.4 414.5h0M575 465.4h0M826.3 406.7h0M517.6 785.6h0M653.5 396h0M514.7 304.7h0M704.1 415.7h0M857.6 122.3h0M845 415.2h0M667.6 515.8h0M706 344.1h0M825.5 284.2h0M715 365.8h0M355.7 715h0M765.4 384.3h0M426.4 676.3h0M506.4 344.3h0M822.8 316h0M356.2 442.7h0M713.6 557.8h0M636.3 412.9h0M555.7 424.3h0M722.2 464.3h0M765.6 423.2h0M547 665.3h0M647.3 572.7h0M385 763.4h0M575.3 334.7h0M346.7 625.8h0M475.1 774.5h0M356.1 803.6h0M524.1 297.5h0M717.3 443.9h0M527.8 706h0M862.8 408h0M345.1 785.1h0M774.7 415.4h0M557.2 436.4h0M482.5 425.4h0"/></g>
<g fill="#4d4d4d" font-size="23.7"><text x="220.2" y="90.1" text-anchor="end">40.15°N</text><text x="220.2" y="243.7" text-anchor="end">40.10°N</text><text x="220.2" y="397.3" text-anchor="end">40.05°N</text><text x="220.2" y="550.9" text-anchor="end">40.00°N</text><text x="220.2" y="704.5" text-anchor="end">39.95°N</text><text x="220.2" y="858.1" text-anchor="end">39.90°N</text><text x="334.0" y="940.5" text-anchor="middle">75.25°W</text><text x="452.6" y="940.5" text-anchor="middle">75.20°W</text><text x="571.1" y="940.5" text-anchor="middle">75.15°W</text><text x="689.7" y="940.5" text-anchor="middle">75.10°W</text><text x="808.2" y="940.5" text-anchor="middle">75.05°W</text><text x="926.8" y="940.5" text-anchor="middle">75.00°W</text></g>
<text x="231" y="40.5" font-size="34.3" fill="#000">Spatial Distribution of Home Prices (Log Scale)</text>
<rect x="1075" y="392" width="46" height="230" fill="url(#vg)"/><g stroke="#fff" stroke-width="1.3"><line x1="1075" x2="1084" y1="592.3" y2="592.3"/><line x1="1112" x2="1121" y1="592.3" y2="592.3"/><line x1="1075" x2="1084" y1="555.3" y2="555.3"/><line x1="1112" x2="1121" y1="555.3" y2="555.3"/><line x1="1075" x2="1084" y1="518.4" y2="518.4"/><line x1="1112" x2="1121" y1="518.4" y2="518.4"/><line x1="1075" x2="1084" y1="481.4" y2="481.4"/><line x1="1112" x2="1121" y1="481.4" y2="481.4"/><line x1="1075" x2="1084" y1="444.5" y2="444.5"/><line x1="1112" x2="1121" y1="444.5" y2="444.5"/><line x1="1075" x2="1084" y1="407.5" y2="407.5"/><line x1="1112" x2="1121" y1="407.5" y2="407.5"/></g><g fill="#000" font-size="23.7"><text x="1135" y="601.5">10</text><text x="1135" y="564.5">11</text><text x="1135" y="527.6">12</text><text x="1135" y="490.6">13</text><text x="1135" y="453.7">14</text><text x="1135" y="416.7">15</text></g><text x="1075" y="375.2" font-size="29.8" fill="#000">log_price</text>
</svg>
</body></html>
